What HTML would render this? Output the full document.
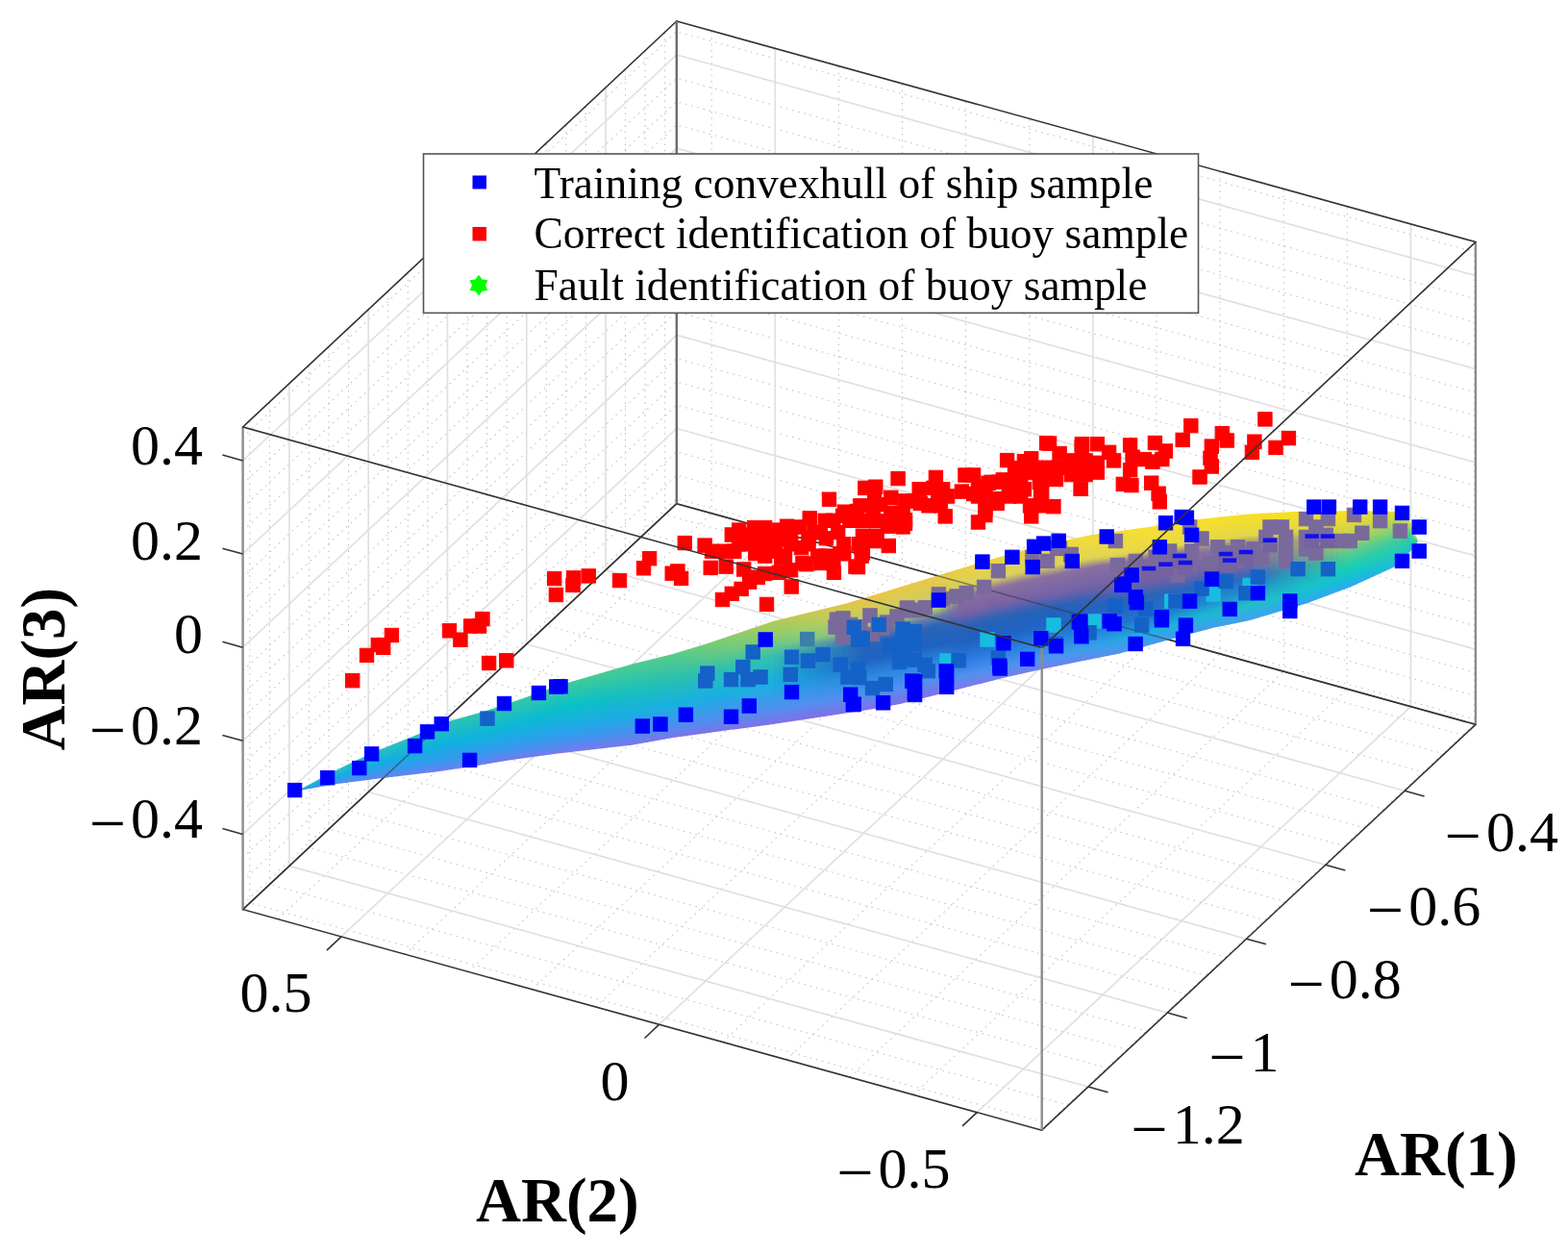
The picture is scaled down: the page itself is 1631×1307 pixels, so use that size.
<!DOCTYPE html>
<html><head><meta charset="utf-8"><title>AR scatter</title>
<style>html,body{margin:0;padding:0;background:#fff;}svg{display:block;}</style></head>
<body><svg width="1631" height="1307" viewBox="0 0 1631 1307" font-family="'Liberation Serif', 'Times New Roman', serif" fill="#000">
<rect width="1631" height="1307" fill="#fff"/>
<g stroke="#c4c4c4" stroke-width="1.1" stroke-dasharray="1.6 4.8" fill="none">
<line x1="259.8" y1="938.9" x2="259.8" y2="437.2" />
<line x1="280.4" y1="919.6" x2="280.4" y2="418" />
<line x1="321.5" y1="881.2" x2="321.5" y2="379.5" />
<line x1="342.1" y1="862" x2="342.1" y2="360.3" />
<line x1="362.6" y1="842.7" x2="362.6" y2="341.1" />
<line x1="403.8" y1="804.3" x2="403.8" y2="302.6" />
<line x1="424.3" y1="785" x2="424.3" y2="283.4" />
<line x1="444.9" y1="765.8" x2="444.9" y2="264.2" />
<line x1="486" y1="727.3" x2="486" y2="225.7" />
<line x1="506.6" y1="708.1" x2="506.6" y2="206.5" />
<line x1="527.1" y1="688.9" x2="527.1" y2="187.2" />
<line x1="568.3" y1="650.4" x2="568.3" y2="148.8" />
<line x1="588.8" y1="631.2" x2="588.8" y2="129.5" />
<line x1="609.4" y1="612" x2="609.4" y2="110.3" />
<line x1="650.5" y1="573.5" x2="650.5" y2="71.9" />
<line x1="671.1" y1="554.3" x2="671.1" y2="52.6" />
<line x1="691.7" y1="535" x2="691.7" y2="33.4" />
<line x1="252.6" y1="940.3" x2="703.8" y2="518.4" />
<line x1="252.6" y1="916" x2="703.8" y2="494.1" />
<line x1="252.6" y1="891.7" x2="703.8" y2="469.8" />
<line x1="252.6" y1="843.1" x2="703.8" y2="421.2" />
<line x1="252.6" y1="818.9" x2="703.8" y2="397" />
<line x1="252.6" y1="794.6" x2="703.8" y2="372.7" />
<line x1="252.6" y1="746" x2="703.8" y2="324.1" />
<line x1="252.6" y1="721.7" x2="703.8" y2="299.8" />
<line x1="252.6" y1="697.4" x2="703.8" y2="275.5" />
<line x1="252.6" y1="648.9" x2="703.8" y2="227" />
<line x1="252.6" y1="624.6" x2="703.8" y2="202.7" />
<line x1="252.6" y1="600.3" x2="703.8" y2="178.4" />
<line x1="252.6" y1="551.8" x2="703.8" y2="129.9" />
<line x1="252.6" y1="527.5" x2="703.8" y2="105.6" />
<line x1="252.6" y1="503.2" x2="703.8" y2="81.3" />
<line x1="252.6" y1="454.6" x2="703.8" y2="32.7" />
<line x1="1533.6" y1="752.9" x2="1533.6" y2="251.3" />
<line x1="1401.3" y1="716.4" x2="1401.3" y2="214.8" />
<line x1="1335.2" y1="698.1" x2="1335.2" y2="196.5" />
<line x1="1269.1" y1="679.9" x2="1269.1" y2="178.2" />
<line x1="1203" y1="661.6" x2="1203" y2="160" />
<line x1="1070.8" y1="625.1" x2="1070.8" y2="123.4" />
<line x1="1004.6" y1="606.8" x2="1004.6" y2="105.2" />
<line x1="938.5" y1="588.5" x2="938.5" y2="86.9" />
<line x1="872.4" y1="570.3" x2="872.4" y2="68.6" />
<line x1="740.2" y1="533.7" x2="740.2" y2="32.1" />
<line x1="1534.9" y1="748" x2="703.8" y2="518.4" />
<line x1="1534.9" y1="723.7" x2="703.8" y2="494.1" />
<line x1="1534.9" y1="699.4" x2="703.8" y2="469.8" />
<line x1="1534.9" y1="650.8" x2="703.8" y2="421.2" />
<line x1="1534.9" y1="626.6" x2="703.8" y2="397" />
<line x1="1534.9" y1="602.3" x2="703.8" y2="372.7" />
<line x1="1534.9" y1="553.7" x2="703.8" y2="324.1" />
<line x1="1534.9" y1="529.4" x2="703.8" y2="299.8" />
<line x1="1534.9" y1="505.1" x2="703.8" y2="275.5" />
<line x1="1534.9" y1="456.6" x2="703.8" y2="227" />
<line x1="1534.9" y1="432.3" x2="703.8" y2="202.7" />
<line x1="1534.9" y1="408" x2="703.8" y2="178.4" />
<line x1="1534.9" y1="359.5" x2="703.8" y2="129.9" />
<line x1="1534.9" y1="335.2" x2="703.8" y2="105.6" />
<line x1="1534.9" y1="310.9" x2="703.8" y2="81.3" />
<line x1="1534.9" y1="262.3" x2="703.8" y2="32.7" />
<line x1="1090.9" y1="1168.5" x2="259.8" y2="938.9" />
<line x1="1111.5" y1="1149.2" x2="280.4" y2="919.6" />
<line x1="1152.6" y1="1110.8" x2="321.5" y2="881.2" />
<line x1="1173.2" y1="1091.6" x2="342.1" y2="862" />
<line x1="1193.7" y1="1072.3" x2="362.6" y2="842.7" />
<line x1="1234.9" y1="1033.9" x2="403.8" y2="804.3" />
<line x1="1255.4" y1="1014.6" x2="424.3" y2="785" />
<line x1="1276" y1="995.4" x2="444.9" y2="765.8" />
<line x1="1317.1" y1="956.9" x2="486" y2="727.3" />
<line x1="1337.7" y1="937.7" x2="506.6" y2="708.1" />
<line x1="1358.2" y1="918.5" x2="527.1" y2="688.9" />
<line x1="1399.4" y1="880" x2="568.3" y2="650.4" />
<line x1="1419.9" y1="860.8" x2="588.8" y2="631.2" />
<line x1="1440.5" y1="841.6" x2="609.4" y2="612" />
<line x1="1481.6" y1="803.1" x2="650.5" y2="573.5" />
<line x1="1502.2" y1="783.9" x2="671.1" y2="554.3" />
<line x1="1522.8" y1="764.6" x2="691.7" y2="535" />
<line x1="1082.4" y1="1174.8" x2="1533.6" y2="752.9" />
<line x1="950.1" y1="1138.3" x2="1401.3" y2="716.4" />
<line x1="884" y1="1120" x2="1335.2" y2="698.1" />
<line x1="817.9" y1="1101.8" x2="1269.1" y2="679.9" />
<line x1="751.8" y1="1083.5" x2="1203" y2="661.6" />
<line x1="619.6" y1="1047" x2="1070.8" y2="625.1" />
<line x1="553.4" y1="1028.7" x2="1004.6" y2="606.8" />
<line x1="487.3" y1="1010.4" x2="938.5" y2="588.5" />
<line x1="421.2" y1="992.2" x2="872.4" y2="570.3" />
<line x1="289" y1="955.6" x2="740.2" y2="533.7" />
</g>
<g stroke="#e0e0e0" stroke-width="1.7" fill="none">
<line x1="300.9" y1="900.4" x2="300.9" y2="398.8" />
<line x1="383.2" y1="823.5" x2="383.2" y2="321.8" />
<line x1="465.4" y1="746.6" x2="465.4" y2="244.9" />
<line x1="547.7" y1="669.7" x2="547.7" y2="168" />
<line x1="630" y1="592.7" x2="630" y2="91.1" />
<line x1="252.6" y1="867.4" x2="703.8" y2="445.5" />
<line x1="252.6" y1="770.3" x2="703.8" y2="348.4" />
<line x1="252.6" y1="673.2" x2="703.8" y2="251.3" />
<line x1="252.6" y1="576" x2="703.8" y2="154.1" />
<line x1="252.6" y1="478.9" x2="703.8" y2="57" />
<line x1="1467.5" y1="734.7" x2="1467.5" y2="233" />
<line x1="1136.9" y1="643.3" x2="1136.9" y2="141.7" />
<line x1="806.3" y1="552" x2="806.3" y2="50.4" />
<line x1="1534.9" y1="675.1" x2="703.8" y2="445.5" />
<line x1="1534.9" y1="578" x2="703.8" y2="348.4" />
<line x1="1534.9" y1="480.9" x2="703.8" y2="251.3" />
<line x1="1534.9" y1="383.7" x2="703.8" y2="154.1" />
<line x1="1534.9" y1="286.6" x2="703.8" y2="57" />
<line x1="1132" y1="1130" x2="300.9" y2="900.4" />
<line x1="1214.3" y1="1053.1" x2="383.2" y2="823.5" />
<line x1="1296.5" y1="976.2" x2="465.4" y2="746.6" />
<line x1="1378.8" y1="899.3" x2="547.7" y2="669.7" />
<line x1="1461.1" y1="822.3" x2="630" y2="592.7" />
<line x1="1016.3" y1="1156.6" x2="1467.5" y2="734.7" />
<line x1="685.7" y1="1065.2" x2="1136.9" y2="643.3" />
<line x1="355.1" y1="973.9" x2="806.3" y2="552" />
</g>
<g stroke="#333" stroke-width="1.6" fill="none" stroke-linecap="round">
<line x1="252.6" y1="945.6" x2="703.8" y2="523.7" />
<line x1="703.8" y1="523.7" x2="1534.9" y2="753.3" />
<line x1="252.6" y1="945.6" x2="1083.7" y2="1175.2" />
<line x1="1083.7" y1="1175.2" x2="1534.9" y2="753.3" />
<line x1="252.6" y1="444" x2="703.8" y2="22" />
<line x1="703.8" y1="22" x2="1534.9" y2="251.6" />
</g>
<g stroke="#8c8c8c" stroke-width="2.4" fill="none">
<line x1="252.6" y1="945.6" x2="252.6" y2="444" />
<line x1="1534.9" y1="753.3" x2="1534.9" y2="251.6" />
</g>
<g stroke="#6c6c6c" stroke-width="2.4" fill="none"><line x1="703.8" y1="523.7" x2="703.8" y2="22" /></g>
<g stroke="#333" stroke-width="1.6" fill="none">
<line x1="252.6" y1="867.4" x2="231.4" y2="861.6" />
<line x1="252.6" y1="770.3" x2="231.4" y2="764.4" />
<line x1="252.6" y1="673.2" x2="231.4" y2="667.3" />
<line x1="252.6" y1="576" x2="231.4" y2="570.2" />
<line x1="252.6" y1="478.9" x2="231.4" y2="473.1" />
<line x1="1132" y1="1130" x2="1152.5" y2="1135.7" />
<line x1="1214.3" y1="1053.1" x2="1234.8" y2="1058.8" />
<line x1="1296.5" y1="976.2" x2="1317" y2="981.8" />
<line x1="1378.8" y1="899.3" x2="1399.3" y2="904.9" />
<line x1="1461.1" y1="822.3" x2="1481.6" y2="828" />
<line x1="1016.3" y1="1156.6" x2="1001" y2="1170.8" />
<line x1="685.7" y1="1065.2" x2="670.5" y2="1079.5" />
<line x1="355.1" y1="973.9" x2="339.9" y2="988.1" />
</g>

<defs><linearGradient id="g0" gradientUnits="userSpaceOnUse" x1="310.0" y1="820.5" x2="310.0" y2="821.2"><stop offset="0" stop-color="#30c0c4"/><stop offset="0.45" stop-color="#1aaae4"/><stop offset="0.5" stop-color="#18a8e8"/><stop offset="0.8" stop-color="#4095ed"/><stop offset="1" stop-color="#5a88f0"/></linearGradient><linearGradient id="g1" gradientUnits="userSpaceOnUse" x1="316.0" y1="818.7" x2="316.8" y2="820.9"><stop offset="0" stop-color="#30c0c3"/><stop offset="0.45" stop-color="#1aabe4"/><stop offset="0.5" stop-color="#18a8e8"/><stop offset="0.8" stop-color="#3f95ed"/><stop offset="1" stop-color="#5b88f0"/></linearGradient><linearGradient id="g2" gradientUnits="userSpaceOnUse" x1="322.0" y1="815.6" x2="323.4" y2="819.6"><stop offset="0" stop-color="#2fc0c3"/><stop offset="0.45" stop-color="#1aabe4"/><stop offset="0.5" stop-color="#18a8e8"/><stop offset="0.8" stop-color="#3f95ed"/><stop offset="1" stop-color="#5b87f0"/></linearGradient><linearGradient id="g3" gradientUnits="userSpaceOnUse" x1="328.0" y1="812.4" x2="330.1" y2="818.2"><stop offset="0" stop-color="#2fc0c2"/><stop offset="0.45" stop-color="#19abe4"/><stop offset="0.5" stop-color="#18a9e7"/><stop offset="0.8" stop-color="#3f95ed"/><stop offset="1" stop-color="#5c87f0"/></linearGradient><linearGradient id="g4" gradientUnits="userSpaceOnUse" x1="334.0" y1="809.2" x2="336.7" y2="816.9"><stop offset="0" stop-color="#2fc0c2"/><stop offset="0.45" stop-color="#19abe4"/><stop offset="0.5" stop-color="#18a9e7"/><stop offset="0.8" stop-color="#3e95ed"/><stop offset="1" stop-color="#5d87f0"/></linearGradient><linearGradient id="g5" gradientUnits="userSpaceOnUse" x1="340.0" y1="806.0" x2="343.4" y2="815.6"><stop offset="0" stop-color="#2ec0c1"/><stop offset="0.45" stop-color="#18ace3"/><stop offset="0.5" stop-color="#18a9e7"/><stop offset="0.8" stop-color="#3e95ed"/><stop offset="1" stop-color="#5d86f0"/></linearGradient><linearGradient id="g6" gradientUnits="userSpaceOnUse" x1="346.0" y1="802.8" x2="350.1" y2="814.3"><stop offset="0" stop-color="#2ec0c1"/><stop offset="0.45" stop-color="#18ace3"/><stop offset="0.5" stop-color="#17a9e7"/><stop offset="0.8" stop-color="#3e96ee"/><stop offset="1" stop-color="#5e86f0"/></linearGradient><linearGradient id="g7" gradientUnits="userSpaceOnUse" x1="352.0" y1="799.8" x2="356.3" y2="813.5"><stop offset="0" stop-color="#2ec0c0"/><stop offset="0.45" stop-color="#17ace3"/><stop offset="0.5" stop-color="#17a9e6"/><stop offset="0.8" stop-color="#3d96ee"/><stop offset="1" stop-color="#5f86f0"/></linearGradient><linearGradient id="g8" gradientUnits="userSpaceOnUse" x1="358.0" y1="796.7" x2="363.0" y2="812.5"><stop offset="0" stop-color="#2dc0c0"/><stop offset="0.45" stop-color="#17ace3"/><stop offset="0.5" stop-color="#17aae6"/><stop offset="0.8" stop-color="#3d96ee"/><stop offset="1" stop-color="#5f85f0"/></linearGradient><linearGradient id="g9" gradientUnits="userSpaceOnUse" x1="364.0" y1="793.7" x2="369.6" y2="811.5"><stop offset="0" stop-color="#2dc0bf"/><stop offset="0.45" stop-color="#16ade3"/><stop offset="0.5" stop-color="#17aae6"/><stop offset="0.8" stop-color="#3d96ee"/><stop offset="1" stop-color="#6085f0"/></linearGradient><linearGradient id="g10" gradientUnits="userSpaceOnUse" x1="370.0" y1="790.8" x2="375.9" y2="810.8"><stop offset="0" stop-color="#2dc0bf"/><stop offset="0.45" stop-color="#16ade3"/><stop offset="0.5" stop-color="#17aae6"/><stop offset="0.8" stop-color="#3c96ee"/><stop offset="1" stop-color="#6185f0"/></linearGradient><linearGradient id="g11" gradientUnits="userSpaceOnUse" x1="376.0" y1="788.0" x2="382.4" y2="809.9"><stop offset="0" stop-color="#2cc0be"/><stop offset="0.45" stop-color="#15ade2"/><stop offset="0.5" stop-color="#17aae5"/><stop offset="0.8" stop-color="#3c96ee"/><stop offset="1" stop-color="#6284f0"/></linearGradient><linearGradient id="g12" gradientUnits="userSpaceOnUse" x1="382.0" y1="785.3" x2="389.0" y2="808.9"><stop offset="0" stop-color="#2cc0be"/><stop offset="0.45" stop-color="#15ade2"/><stop offset="0.5" stop-color="#17aae5"/><stop offset="0.8" stop-color="#3c96ee"/><stop offset="1" stop-color="#6284f0"/></linearGradient><linearGradient id="g13" gradientUnits="userSpaceOnUse" x1="388.0" y1="782.5" x2="395.5" y2="808.0"><stop offset="0" stop-color="#2cc0bd"/><stop offset="0.45" stop-color="#15aee2"/><stop offset="0.5" stop-color="#17abe5"/><stop offset="0.8" stop-color="#3b97ef"/><stop offset="1" stop-color="#6384f0"/></linearGradient><linearGradient id="g14" gradientUnits="userSpaceOnUse" x1="394.0" y1="779.8" x2="401.3" y2="807.6"><stop offset="0" stop-color="#2bc0bd"/><stop offset="0.45" stop-color="#14aee2"/><stop offset="0.5" stop-color="#17abe5"/><stop offset="0.8" stop-color="#3b97ef"/><stop offset="1" stop-color="#6483f0"/></linearGradient><linearGradient id="g15" gradientUnits="userSpaceOnUse" x1="400.0" y1="777.4" x2="407.6" y2="806.7"><stop offset="0" stop-color="#2bc0bc"/><stop offset="0.45" stop-color="#14aee2"/><stop offset="0.5" stop-color="#17abe4"/><stop offset="0.8" stop-color="#3b97ef"/><stop offset="1" stop-color="#6483f0"/></linearGradient><linearGradient id="g16" gradientUnits="userSpaceOnUse" x1="406.0" y1="775.1" x2="413.9" y2="806.0"><stop offset="0" stop-color="#2bc0bc"/><stop offset="0.45" stop-color="#13aee1"/><stop offset="0.5" stop-color="#16abe4"/><stop offset="0.8" stop-color="#3a97ef"/><stop offset="1" stop-color="#6583f0"/></linearGradient><linearGradient id="g17" gradientUnits="userSpaceOnUse" x1="412.0" y1="772.7" x2="420.3" y2="805.2"><stop offset="0" stop-color="#2ac0bb"/><stop offset="0.45" stop-color="#13aee1"/><stop offset="0.5" stop-color="#16abe4"/><stop offset="0.8" stop-color="#3a97ef"/><stop offset="1" stop-color="#6682f0"/></linearGradient><linearGradient id="g18" gradientUnits="userSpaceOnUse" x1="418.0" y1="770.3" x2="426.7" y2="804.4"><stop offset="0" stop-color="#2ac0bb"/><stop offset="0.45" stop-color="#12afe1"/><stop offset="0.5" stop-color="#16ace4"/><stop offset="0.8" stop-color="#3a97ef"/><stop offset="1" stop-color="#6682f0"/></linearGradient><linearGradient id="g19" gradientUnits="userSpaceOnUse" x1="424.0" y1="767.9" x2="433.1" y2="803.6"><stop offset="0" stop-color="#29c0ba"/><stop offset="0.45" stop-color="#12afe1"/><stop offset="0.5" stop-color="#16ace3"/><stop offset="0.8" stop-color="#3997ef"/><stop offset="1" stop-color="#6781f0"/></linearGradient><linearGradient id="g20" gradientUnits="userSpaceOnUse" x1="430.0" y1="765.6" x2="439.5" y2="802.8"><stop offset="0" stop-color="#29c0ba"/><stop offset="0.45" stop-color="#11afe1"/><stop offset="0.5" stop-color="#16ace3"/><stop offset="0.8" stop-color="#3998f0"/><stop offset="1" stop-color="#6881f0"/></linearGradient><linearGradient id="g21" gradientUnits="userSpaceOnUse" x1="436.0" y1="763.2" x2="445.9" y2="802.0"><stop offset="0" stop-color="#29c0b9"/><stop offset="0.45" stop-color="#11afe0"/><stop offset="0.5" stop-color="#16ace3"/><stop offset="0.8" stop-color="#3998f0"/><stop offset="1" stop-color="#6881f0"/></linearGradient><linearGradient id="g22" gradientUnits="userSpaceOnUse" x1="442.0" y1="760.6" x2="453.0" y2="800.9"><stop offset="0" stop-color="#28c0b9"/><stop offset="0.45" stop-color="#11b0e0"/><stop offset="0.5" stop-color="#16ace3"/><stop offset="0.8" stop-color="#3898f0"/><stop offset="1" stop-color="#6980f0"/></linearGradient><linearGradient id="g23" gradientUnits="userSpaceOnUse" x1="448.0" y1="758.1" x2="459.4" y2="800.0"><stop offset="0" stop-color="#28c0b8"/><stop offset="0.45" stop-color="#10b0e0"/><stop offset="0.5" stop-color="#16ade2"/><stop offset="0.8" stop-color="#3898f0"/><stop offset="1" stop-color="#6a80f0"/></linearGradient><linearGradient id="g24" gradientUnits="userSpaceOnUse" x1="454.0" y1="755.5" x2="465.9" y2="799.2"><stop offset="0" stop-color="#29c0b7"/><stop offset="0.35" stop-color="#15b4d7"/><stop offset="0.45" stop-color="#10b0e0"/><stop offset="0.65" stop-color="#27a2e9"/><stop offset="0.8" stop-color="#3898f0"/><stop offset="0.85" stop-color="#4592f0"/><stop offset="1" stop-color="#6a80f0"/></linearGradient><linearGradient id="g25" gradientUnits="userSpaceOnUse" x1="460.0" y1="752.9" x2="473.0" y2="797.8"><stop offset="0" stop-color="#2ac1b6"/><stop offset="0.35" stop-color="#14b4d6"/><stop offset="0.45" stop-color="#10b1df"/><stop offset="0.65" stop-color="#26a3e9"/><stop offset="0.8" stop-color="#3898f0"/><stop offset="0.85" stop-color="#4592f0"/><stop offset="1" stop-color="#6b7ff0"/></linearGradient><linearGradient id="g26" gradientUnits="userSpaceOnUse" x1="466.0" y1="750.3" x2="479.5" y2="796.8"><stop offset="0" stop-color="#2bc1b5"/><stop offset="0.35" stop-color="#14b5d5"/><stop offset="0.45" stop-color="#10b1df"/><stop offset="0.65" stop-color="#26a3e9"/><stop offset="0.8" stop-color="#3998f0"/><stop offset="0.85" stop-color="#4592f0"/><stop offset="1" stop-color="#6b7ff0"/></linearGradient><linearGradient id="g27" gradientUnits="userSpaceOnUse" x1="472.0" y1="748.5" x2="482.5" y2="797.6"><stop offset="0" stop-color="#2cc2b3"/><stop offset="0.35" stop-color="#13b5d5"/><stop offset="0.45" stop-color="#10b1de"/><stop offset="0.65" stop-color="#26a3e9"/><stop offset="0.8" stop-color="#3998f0"/><stop offset="0.85" stop-color="#4592f0"/><stop offset="1" stop-color="#6c7fef"/></linearGradient><linearGradient id="g28" gradientUnits="userSpaceOnUse" x1="478.0" y1="746.8" x2="488.7" y2="796.6"><stop offset="0" stop-color="#2cc2b2"/><stop offset="0.35" stop-color="#13b6d4"/><stop offset="0.45" stop-color="#10b1de"/><stop offset="0.65" stop-color="#26a3e9"/><stop offset="0.8" stop-color="#3998f0"/><stop offset="0.85" stop-color="#4592f0"/><stop offset="1" stop-color="#6d7fef"/></linearGradient><linearGradient id="g29" gradientUnits="userSpaceOnUse" x1="484.0" y1="745.2" x2="494.8" y2="795.7"><stop offset="0" stop-color="#2dc3b1"/><stop offset="0.35" stop-color="#12b6d4"/><stop offset="0.45" stop-color="#10b2dd"/><stop offset="0.65" stop-color="#25a4e9"/><stop offset="0.8" stop-color="#3998f0"/><stop offset="0.85" stop-color="#4592f0"/><stop offset="1" stop-color="#6d7eef"/></linearGradient><linearGradient id="g30" gradientUnits="userSpaceOnUse" x1="490.0" y1="743.5" x2="501.0" y2="794.7"><stop offset="0" stop-color="#2ec3af"/><stop offset="0.35" stop-color="#12b7d3"/><stop offset="0.45" stop-color="#10b2dc"/><stop offset="0.65" stop-color="#25a4e9"/><stop offset="0.8" stop-color="#3a97ef"/><stop offset="0.85" stop-color="#4591f0"/><stop offset="1" stop-color="#6e7eef"/></linearGradient><linearGradient id="g31" gradientUnits="userSpaceOnUse" x1="496.0" y1="741.8" x2="507.7" y2="793.5"><stop offset="0" stop-color="#2fc4ae"/><stop offset="0.35" stop-color="#11b7d2"/><stop offset="0.45" stop-color="#10b2dc"/><stop offset="0.65" stop-color="#25a4e9"/><stop offset="0.8" stop-color="#3a97ef"/><stop offset="0.85" stop-color="#4691f0"/><stop offset="1" stop-color="#6e7eef"/></linearGradient><linearGradient id="g32" gradientUnits="userSpaceOnUse" x1="502.0" y1="740.1" x2="514.4" y2="792.1"><stop offset="0" stop-color="#30c4ad"/><stop offset="0.35" stop-color="#11b8d2"/><stop offset="0.45" stop-color="#10b3db"/><stop offset="0.65" stop-color="#24a4e9"/><stop offset="0.8" stop-color="#3a97ef"/><stop offset="0.85" stop-color="#4691f0"/><stop offset="1" stop-color="#6f7def"/></linearGradient><linearGradient id="g33" gradientUnits="userSpaceOnUse" x1="508.0" y1="738.3" x2="520.6" y2="791.0"><stop offset="0" stop-color="#31c5ac"/><stop offset="0.35" stop-color="#10b8d1"/><stop offset="0.45" stop-color="#10b3db"/><stop offset="0.65" stop-color="#24a4e9"/><stop offset="0.8" stop-color="#3a97ef"/><stop offset="0.85" stop-color="#4691f0"/><stop offset="1" stop-color="#6f7dee"/></linearGradient><linearGradient id="g34" gradientUnits="userSpaceOnUse" x1="514.0" y1="736.4" x2="526.8" y2="789.9"><stop offset="0" stop-color="#32c5aa"/><stop offset="0.35" stop-color="#10b9d1"/><stop offset="0.45" stop-color="#10b3da"/><stop offset="0.65" stop-color="#24a5e9"/><stop offset="0.8" stop-color="#3b97ef"/><stop offset="0.85" stop-color="#4691f0"/><stop offset="1" stop-color="#707dee"/></linearGradient><linearGradient id="g35" gradientUnits="userSpaceOnUse" x1="520.0" y1="734.5" x2="534.0" y2="788.3"><stop offset="0" stop-color="#33c6a9"/><stop offset="0.35" stop-color="#0fb9d0"/><stop offset="0.45" stop-color="#10b4da"/><stop offset="0.65" stop-color="#24a5e9"/><stop offset="0.8" stop-color="#3b97ef"/><stop offset="0.85" stop-color="#4691f0"/><stop offset="1" stop-color="#717cee"/></linearGradient><linearGradient id="g36" gradientUnits="userSpaceOnUse" x1="526.0" y1="732.4" x2="540.3" y2="787.2"><stop offset="0" stop-color="#34c6a8"/><stop offset="0.35" stop-color="#0fbacf"/><stop offset="0.45" stop-color="#10b4d9"/><stop offset="0.65" stop-color="#23a5e9"/><stop offset="0.8" stop-color="#3b97ef"/><stop offset="0.85" stop-color="#4691f0"/><stop offset="1" stop-color="#717cee"/></linearGradient><linearGradient id="g37" gradientUnits="userSpaceOnUse" x1="532.0" y1="730.3" x2="545.7" y2="786.7"><stop offset="0" stop-color="#35c7a7"/><stop offset="0.35" stop-color="#0ebacf"/><stop offset="0.45" stop-color="#10b4d9"/><stop offset="0.65" stop-color="#23a5e9"/><stop offset="0.8" stop-color="#3b97ef"/><stop offset="0.85" stop-color="#4691f0"/><stop offset="1" stop-color="#727cee"/></linearGradient><linearGradient id="g38" gradientUnits="userSpaceOnUse" x1="538.0" y1="728.2" x2="552.0" y2="785.8"><stop offset="0" stop-color="#36c7a5"/><stop offset="0.35" stop-color="#0ebbce"/><stop offset="0.45" stop-color="#10b5d8"/><stop offset="0.65" stop-color="#23a6e8"/><stop offset="0.8" stop-color="#3c97ef"/><stop offset="0.85" stop-color="#4791f0"/><stop offset="1" stop-color="#727bee"/></linearGradient><linearGradient id="g39" gradientUnits="userSpaceOnUse" x1="544.0" y1="726.1" x2="558.3" y2="784.9"><stop offset="0" stop-color="#37c8a4"/><stop offset="0.35" stop-color="#0dbbce"/><stop offset="0.45" stop-color="#10b5d8"/><stop offset="0.65" stop-color="#23a6e8"/><stop offset="0.8" stop-color="#3c97ef"/><stop offset="0.85" stop-color="#4791f0"/><stop offset="1" stop-color="#737bed"/></linearGradient><linearGradient id="g40" gradientUnits="userSpaceOnUse" x1="550.0" y1="724.0" x2="564.6" y2="784.0"><stop offset="0" stop-color="#38c8a3"/><stop offset="0.35" stop-color="#0cbccd"/><stop offset="0.45" stop-color="#10b5d7"/><stop offset="0.65" stop-color="#22a6e8"/><stop offset="0.8" stop-color="#3c97ef"/><stop offset="0.85" stop-color="#4791f0"/><stop offset="1" stop-color="#737bed"/></linearGradient><linearGradient id="g41" gradientUnits="userSpaceOnUse" x1="556.0" y1="721.9" x2="571.5" y2="782.8"><stop offset="0" stop-color="#39c8a1"/><stop offset="0.35" stop-color="#0cbccc"/><stop offset="0.45" stop-color="#10b6d7"/><stop offset="0.65" stop-color="#22a6e8"/><stop offset="0.8" stop-color="#3c97ef"/><stop offset="0.85" stop-color="#4791f0"/><stop offset="1" stop-color="#747aed"/></linearGradient><linearGradient id="g42" gradientUnits="userSpaceOnUse" x1="562.0" y1="719.7" x2="577.8" y2="781.8"><stop offset="0" stop-color="#3ac9a0"/><stop offset="0.35" stop-color="#0bbdcc"/><stop offset="0.45" stop-color="#10b6d6"/><stop offset="0.65" stop-color="#22a7e8"/><stop offset="0.8" stop-color="#3c97ef"/><stop offset="0.85" stop-color="#4791f0"/><stop offset="1" stop-color="#747aed"/></linearGradient><linearGradient id="g43" gradientUnits="userSpaceOnUse" x1="568.0" y1="717.5" x2="584.2" y2="780.9"><stop offset="0" stop-color="#3bc99f"/><stop offset="0.35" stop-color="#0bbdcb"/><stop offset="0.45" stop-color="#10b6d6"/><stop offset="0.65" stop-color="#21a7e8"/><stop offset="0.8" stop-color="#3d96ee"/><stop offset="0.85" stop-color="#4790f0"/><stop offset="1" stop-color="#757aed"/></linearGradient><linearGradient id="g44" gradientUnits="userSpaceOnUse" x1="574.0" y1="715.2" x2="590.5" y2="780.0"><stop offset="0" stop-color="#3cca9e"/><stop offset="0.35" stop-color="#0abecb"/><stop offset="0.45" stop-color="#10b7d5"/><stop offset="0.65" stop-color="#21a7e8"/><stop offset="0.8" stop-color="#3d96ee"/><stop offset="0.85" stop-color="#4790f0"/><stop offset="1" stop-color="#7679ed"/></linearGradient><linearGradient id="g45" gradientUnits="userSpaceOnUse" x1="580.0" y1="713.0" x2="595.3" y2="779.9"><stop offset="0" stop-color="#3dca9c"/><stop offset="0.35" stop-color="#0abeca"/><stop offset="0.45" stop-color="#10b7d4"/><stop offset="0.65" stop-color="#21a7e8"/><stop offset="0.8" stop-color="#3d96ee"/><stop offset="0.85" stop-color="#4890f0"/><stop offset="1" stop-color="#7679ed"/></linearGradient><linearGradient id="g46" gradientUnits="userSpaceOnUse" x1="586.0" y1="711.3" x2="599.8" y2="779.9"><stop offset="0" stop-color="#3ecb9b"/><stop offset="0.35" stop-color="#09bfc9"/><stop offset="0.45" stop-color="#10b7d4"/><stop offset="0.65" stop-color="#21a7e8"/><stop offset="0.8" stop-color="#3d96ee"/><stop offset="0.85" stop-color="#4890f0"/><stop offset="1" stop-color="#7779ec"/></linearGradient><linearGradient id="g47" gradientUnits="userSpaceOnUse" x1="592.0" y1="709.5" x2="606.0" y2="779.2"><stop offset="0" stop-color="#3fcb9a"/><stop offset="0.35" stop-color="#09bfc9"/><stop offset="0.45" stop-color="#10b8d3"/><stop offset="0.65" stop-color="#20a8e8"/><stop offset="0.8" stop-color="#3e96ee"/><stop offset="0.85" stop-color="#4890f0"/><stop offset="1" stop-color="#7778ec"/></linearGradient><linearGradient id="g48" gradientUnits="userSpaceOnUse" x1="598.0" y1="707.8" x2="612.2" y2="778.5"><stop offset="0" stop-color="#40cc98"/><stop offset="0.35" stop-color="#08c0c8"/><stop offset="0.45" stop-color="#10b8d3"/><stop offset="0.65" stop-color="#20a8e8"/><stop offset="0.8" stop-color="#3e96ee"/><stop offset="0.85" stop-color="#4890f0"/><stop offset="1" stop-color="#7878ec"/></linearGradient><linearGradient id="g49" gradientUnits="userSpaceOnUse" x1="604.0" y1="706.0" x2="618.4" y2="777.8"><stop offset="0" stop-color="#41cc97"/><stop offset="0.3" stop-color="#11c2c0"/><stop offset="0.35" stop-color="#09c0c7"/><stop offset="0.6" stop-color="#1cace3"/><stop offset="0.65" stop-color="#20a8e8"/><stop offset="0.85" stop-color="#4890f0"/><stop offset="1" stop-color="#7878ec"/></linearGradient><linearGradient id="g50" gradientUnits="userSpaceOnUse" x1="610.0" y1="704.3" x2="624.7" y2="777.1"><stop offset="0" stop-color="#42cc96"/><stop offset="0.3" stop-color="#12c2bf"/><stop offset="0.35" stop-color="#0bc0c6"/><stop offset="0.6" stop-color="#1cace2"/><stop offset="0.65" stop-color="#20a8e8"/><stop offset="0.85" stop-color="#4890f0"/><stop offset="1" stop-color="#7878ec"/></linearGradient><linearGradient id="g51" gradientUnits="userSpaceOnUse" x1="616.0" y1="702.5" x2="630.9" y2="776.4"><stop offset="0" stop-color="#44cc95"/><stop offset="0.3" stop-color="#14c1be"/><stop offset="0.35" stop-color="#0dc0c5"/><stop offset="0.6" stop-color="#1bade2"/><stop offset="0.65" stop-color="#20a8e7"/><stop offset="0.85" stop-color="#4890f0"/><stop offset="1" stop-color="#7977ec"/></linearGradient><linearGradient id="g52" gradientUnits="userSpaceOnUse" x1="622.0" y1="700.8" x2="637.1" y2="775.7"><stop offset="0" stop-color="#45cc94"/><stop offset="0.3" stop-color="#15c1bd"/><stop offset="0.35" stop-color="#0ebfc4"/><stop offset="0.6" stop-color="#1bade2"/><stop offset="0.65" stop-color="#20a8e7"/><stop offset="0.85" stop-color="#4890f0"/><stop offset="1" stop-color="#7977ec"/></linearGradient><linearGradient id="g53" gradientUnits="userSpaceOnUse" x1="628.0" y1="699.1" x2="643.3" y2="774.9"><stop offset="0" stop-color="#47cc94"/><stop offset="0.3" stop-color="#17c1bc"/><stop offset="0.35" stop-color="#10bfc4"/><stop offset="0.6" stop-color="#1bade2"/><stop offset="0.65" stop-color="#21a8e7"/><stop offset="0.85" stop-color="#4990f0"/><stop offset="1" stop-color="#7977eb"/></linearGradient><linearGradient id="g54" gradientUnits="userSpaceOnUse" x1="634.0" y1="697.3" x2="649.5" y2="774.2"><stop offset="0" stop-color="#48cc93"/><stop offset="0.3" stop-color="#18c1bb"/><stop offset="0.35" stop-color="#12bfc3"/><stop offset="0.6" stop-color="#1bade2"/><stop offset="0.65" stop-color="#21a9e6"/><stop offset="0.85" stop-color="#4990f0"/><stop offset="1" stop-color="#7977eb"/></linearGradient><linearGradient id="g55" gradientUnits="userSpaceOnUse" x1="640.0" y1="695.6" x2="655.7" y2="773.5"><stop offset="0" stop-color="#4acc92"/><stop offset="0.3" stop-color="#1ac1ba"/><stop offset="0.35" stop-color="#14bfc2"/><stop offset="0.6" stop-color="#1aaee2"/><stop offset="0.65" stop-color="#21a9e6"/><stop offset="0.85" stop-color="#4990f0"/><stop offset="1" stop-color="#7a76eb"/></linearGradient><linearGradient id="g56" gradientUnits="userSpaceOnUse" x1="646.0" y1="693.8" x2="661.9" y2="772.8"><stop offset="0" stop-color="#4bcc91"/><stop offset="0.3" stop-color="#1bc1b9"/><stop offset="0.35" stop-color="#15bfc1"/><stop offset="0.6" stop-color="#1aaee1"/><stop offset="0.65" stop-color="#21a9e6"/><stop offset="0.85" stop-color="#4990f0"/><stop offset="1" stop-color="#7a76eb"/></linearGradient><linearGradient id="g57" gradientUnits="userSpaceOnUse" x1="652.0" y1="692.1" x2="668.1" y2="772.1"><stop offset="0" stop-color="#4ccc90"/><stop offset="0.3" stop-color="#1cc1b8"/><stop offset="0.35" stop-color="#17bfc0"/><stop offset="0.6" stop-color="#1aaee1"/><stop offset="0.65" stop-color="#21a9e6"/><stop offset="0.85" stop-color="#4990f0"/><stop offset="1" stop-color="#7a76eb"/></linearGradient><linearGradient id="g58" gradientUnits="userSpaceOnUse" x1="658.0" y1="690.3" x2="674.6" y2="771.3"><stop offset="0" stop-color="#4ecc8f"/><stop offset="0.3" stop-color="#1ec1b7"/><stop offset="0.35" stop-color="#19bebf"/><stop offset="0.6" stop-color="#1aaee1"/><stop offset="0.65" stop-color="#21a9e5"/><stop offset="0.85" stop-color="#4990f0"/><stop offset="1" stop-color="#7a76eb"/></linearGradient><linearGradient id="g59" gradientUnits="userSpaceOnUse" x1="664.0" y1="688.8" x2="681.4" y2="769.9"><stop offset="0" stop-color="#4fcc8e"/><stop offset="0.3" stop-color="#1fc1b6"/><stop offset="0.35" stop-color="#1bbebe"/><stop offset="0.6" stop-color="#19afe1"/><stop offset="0.65" stop-color="#21a9e5"/><stop offset="0.85" stop-color="#4990f0"/><stop offset="1" stop-color="#7b75eb"/></linearGradient><linearGradient id="g60" gradientUnits="userSpaceOnUse" x1="670.0" y1="687.4" x2="687.5" y2="768.8"><stop offset="0" stop-color="#51cc8d"/><stop offset="0.3" stop-color="#21c1b5"/><stop offset="0.35" stop-color="#1dbebd"/><stop offset="0.6" stop-color="#19afe1"/><stop offset="0.65" stop-color="#21a9e5"/><stop offset="0.85" stop-color="#4990f0"/><stop offset="1" stop-color="#7b75eb"/></linearGradient><linearGradient id="g61" gradientUnits="userSpaceOnUse" x1="676.0" y1="685.9" x2="693.5" y2="767.6"><stop offset="0" stop-color="#52cc8c"/><stop offset="0.3" stop-color="#22c0b4"/><stop offset="0.35" stop-color="#1ebebc"/><stop offset="0.6" stop-color="#19afe1"/><stop offset="0.65" stop-color="#22a9e4"/><stop offset="0.85" stop-color="#4a90f0"/><stop offset="1" stop-color="#7b75ea"/></linearGradient><linearGradient id="g62" gradientUnits="userSpaceOnUse" x1="682.0" y1="684.4" x2="699.6" y2="766.5"><stop offset="0" stop-color="#54cc8b"/><stop offset="0.3" stop-color="#24c0b3"/><stop offset="0.35" stop-color="#20bebb"/><stop offset="0.6" stop-color="#19afe0"/><stop offset="0.65" stop-color="#22a9e4"/><stop offset="0.85" stop-color="#4a90f0"/><stop offset="1" stop-color="#7b75ea"/></linearGradient><linearGradient id="g63" gradientUnits="userSpaceOnUse" x1="688.0" y1="682.9" x2="705.7" y2="765.4"><stop offset="0" stop-color="#55cc8a"/><stop offset="0.3" stop-color="#25c0b2"/><stop offset="0.35" stop-color="#22beba"/><stop offset="0.6" stop-color="#18b0e0"/><stop offset="0.65" stop-color="#22a9e4"/><stop offset="0.85" stop-color="#4a90f0"/><stop offset="1" stop-color="#7c74ea"/></linearGradient><linearGradient id="g64" gradientUnits="userSpaceOnUse" x1="694.0" y1="681.5" x2="711.8" y2="764.3"><stop offset="0" stop-color="#57cc89"/><stop offset="0.3" stop-color="#27c0b1"/><stop offset="0.35" stop-color="#24bdb9"/><stop offset="0.6" stop-color="#18b0e0"/><stop offset="0.65" stop-color="#22aae3"/><stop offset="0.85" stop-color="#4a90f0"/><stop offset="1" stop-color="#7c74ea"/></linearGradient><linearGradient id="g65" gradientUnits="userSpaceOnUse" x1="700.0" y1="680.0" x2="718.1" y2="763.1"><stop offset="0" stop-color="#58cc88"/><stop offset="0.15" stop-color="#40c69c"/><stop offset="0.3" stop-color="#28c0b0"/><stop offset="0.35" stop-color="#25bdb8"/><stop offset="0.6" stop-color="#18b0e0"/><stop offset="0.85" stop-color="#4a90f0"/><stop offset="1" stop-color="#7c74ea"/></linearGradient><linearGradient id="g66" gradientUnits="userSpaceOnUse" x1="706.0" y1="678.2" x2="724.5" y2="762.1"><stop offset="0" stop-color="#5dcc85"/><stop offset="0.15" stop-color="#44c699"/><stop offset="0.3" stop-color="#2ac0af"/><stop offset="0.35" stop-color="#26bdb8"/><stop offset="0.6" stop-color="#18b0e0"/><stop offset="0.85" stop-color="#4a90f0"/><stop offset="1" stop-color="#7c74ea"/></linearGradient><linearGradient id="g67" gradientUnits="userSpaceOnUse" x1="712.0" y1="676.3" x2="730.7" y2="761.3"><stop offset="0" stop-color="#63cc82"/><stop offset="0.15" stop-color="#49c797"/><stop offset="0.3" stop-color="#2cc0ae"/><stop offset="0.35" stop-color="#27beb7"/><stop offset="0.6" stop-color="#18b0e0"/><stop offset="0.85" stop-color="#4b90f0"/><stop offset="1" stop-color="#7c74ea"/></linearGradient><linearGradient id="g68" gradientUnits="userSpaceOnUse" x1="718.0" y1="674.5" x2="736.9" y2="760.4"><stop offset="0" stop-color="#68cc7f"/><stop offset="0.15" stop-color="#4dc794"/><stop offset="0.3" stop-color="#2dc1ad"/><stop offset="0.35" stop-color="#27beb7"/><stop offset="0.6" stop-color="#18b0e0"/><stop offset="0.85" stop-color="#4b90f0"/><stop offset="1" stop-color="#7d73ea"/></linearGradient><linearGradient id="g69" gradientUnits="userSpaceOnUse" x1="724.0" y1="672.7" x2="743.1" y2="759.5"><stop offset="0" stop-color="#6dcc7c"/><stop offset="0.15" stop-color="#51c791"/><stop offset="0.3" stop-color="#2fc1ac"/><stop offset="0.35" stop-color="#28beb6"/><stop offset="0.6" stop-color="#18b0e0"/><stop offset="0.85" stop-color="#4b90f0"/><stop offset="1" stop-color="#7d73ea"/></linearGradient><linearGradient id="g70" gradientUnits="userSpaceOnUse" x1="730.0" y1="670.8" x2="749.3" y2="758.7"><stop offset="0" stop-color="#72cc7a"/><stop offset="0.15" stop-color="#56c88f"/><stop offset="0.3" stop-color="#31c1ab"/><stop offset="0.35" stop-color="#29beb6"/><stop offset="0.6" stop-color="#18b0e0"/><stop offset="0.85" stop-color="#4c90f0"/><stop offset="1" stop-color="#7d73e9"/></linearGradient><linearGradient id="g71" gradientUnits="userSpaceOnUse" x1="736.0" y1="669.0" x2="755.6" y2="757.8"><stop offset="0" stop-color="#78cc77"/><stop offset="0.15" stop-color="#5ac88c"/><stop offset="0.3" stop-color="#33c1aa"/><stop offset="0.35" stop-color="#29beb5"/><stop offset="0.6" stop-color="#18b0e0"/><stop offset="0.85" stop-color="#4c90f0"/><stop offset="1" stop-color="#7d73e9"/></linearGradient><linearGradient id="g72" gradientUnits="userSpaceOnUse" x1="742.0" y1="667.0" x2="763.1" y2="756.3"><stop offset="0" stop-color="#7dcc74"/><stop offset="0.15" stop-color="#5ec98a"/><stop offset="0.3" stop-color="#35c1a9"/><stop offset="0.35" stop-color="#2abeb5"/><stop offset="0.6" stop-color="#18b0e0"/><stop offset="0.85" stop-color="#4d90f0"/><stop offset="1" stop-color="#7e72e9"/></linearGradient><linearGradient id="g73" gradientUnits="userSpaceOnUse" x1="748.0" y1="665.0" x2="769.4" y2="755.5"><stop offset="0" stop-color="#82cc71"/><stop offset="0.15" stop-color="#63c987"/><stop offset="0.3" stop-color="#36c1a8"/><stop offset="0.35" stop-color="#2abfb4"/><stop offset="0.6" stop-color="#18b0e0"/><stop offset="0.85" stop-color="#4d90f0"/><stop offset="1" stop-color="#7e72e9"/></linearGradient><linearGradient id="g74" gradientUnits="userSpaceOnUse" x1="754.0" y1="662.9" x2="775.7" y2="754.6"><stop offset="0" stop-color="#88cc6e"/><stop offset="0.15" stop-color="#67c984"/><stop offset="0.3" stop-color="#38c2a7"/><stop offset="0.35" stop-color="#2bbfb4"/><stop offset="0.6" stop-color="#18b0e0"/><stop offset="0.85" stop-color="#4d90f0"/><stop offset="1" stop-color="#7e72e9"/></linearGradient><linearGradient id="g75" gradientUnits="userSpaceOnUse" x1="760.0" y1="660.9" x2="782.0" y2="753.7"><stop offset="0" stop-color="#8dcc6b"/><stop offset="0.15" stop-color="#6bca82"/><stop offset="0.3" stop-color="#3ac2a6"/><stop offset="0.35" stop-color="#2cbfb3"/><stop offset="0.6" stop-color="#18b0e0"/><stop offset="0.85" stop-color="#4e90f0"/><stop offset="1" stop-color="#7e72e9"/></linearGradient><linearGradient id="g76" gradientUnits="userSpaceOnUse" x1="766.0" y1="658.9" x2="788.2" y2="752.8"><stop offset="0" stop-color="#92cc68"/><stop offset="0.15" stop-color="#70ca7f"/><stop offset="0.3" stop-color="#3cc2a5"/><stop offset="0.35" stop-color="#2cbfb3"/><stop offset="0.6" stop-color="#18b0e0"/><stop offset="0.85" stop-color="#4e90f0"/><stop offset="1" stop-color="#7f71e9"/></linearGradient><linearGradient id="g77" gradientUnits="userSpaceOnUse" x1="772.0" y1="656.8" x2="794.5" y2="752.0"><stop offset="0" stop-color="#97cc65"/><stop offset="0.15" stop-color="#74ca7c"/><stop offset="0.3" stop-color="#3ec2a4"/><stop offset="0.35" stop-color="#2dbfb2"/><stop offset="0.6" stop-color="#18b0e0"/><stop offset="0.85" stop-color="#4e90f0"/><stop offset="1" stop-color="#7f71e9"/></linearGradient><linearGradient id="g78" gradientUnits="userSpaceOnUse" x1="778.0" y1="654.8" x2="800.8" y2="751.1"><stop offset="0" stop-color="#9dcc63"/><stop offset="0.15" stop-color="#78cb7a"/><stop offset="0.3" stop-color="#3fc2a4"/><stop offset="0.35" stop-color="#2ebfb2"/><stop offset="0.6" stop-color="#18b0e0"/><stop offset="0.85" stop-color="#4f90f0"/><stop offset="1" stop-color="#7f71e8"/></linearGradient><linearGradient id="g79" gradientUnits="userSpaceOnUse" x1="784.0" y1="652.8" x2="807.1" y2="750.2"><stop offset="0" stop-color="#a2cc60"/><stop offset="0.15" stop-color="#7ccb77"/><stop offset="0.3" stop-color="#41c3a3"/><stop offset="0.35" stop-color="#2ec0b1"/><stop offset="0.6" stop-color="#18b0e0"/><stop offset="0.85" stop-color="#4f90f0"/><stop offset="1" stop-color="#7f71e8"/></linearGradient><linearGradient id="g80" gradientUnits="userSpaceOnUse" x1="790.0" y1="650.7" x2="813.3" y2="749.4"><stop offset="0" stop-color="#a7cc5d"/><stop offset="0.15" stop-color="#81cb74"/><stop offset="0.3" stop-color="#43c3a2"/><stop offset="0.35" stop-color="#2fc0b1"/><stop offset="0.6" stop-color="#18b0e0"/><stop offset="0.85" stop-color="#4f90f0"/><stop offset="1" stop-color="#8070e8"/></linearGradient><linearGradient id="g81" gradientUnits="userSpaceOnUse" x1="796.0" y1="648.7" x2="819.6" y2="748.5"><stop offset="0" stop-color="#accc5a"/><stop offset="0.15" stop-color="#85cc72"/><stop offset="0.3" stop-color="#45c3a1"/><stop offset="0.35" stop-color="#30c0b0"/><stop offset="0.6" stop-color="#18b0e0"/><stop offset="0.85" stop-color="#5090f0"/><stop offset="1" stop-color="#8070e8"/></linearGradient><linearGradient id="g82" gradientUnits="userSpaceOnUse" x1="802.0" y1="646.7" x2="825.9" y2="747.6"><stop offset="0" stop-color="#b1cc58"/><stop offset="0.12" stop-color="#91cc6b"/><stop offset="0.15" stop-color="#89cc70"/><stop offset="0.25" stop-color="#5ec68f"/><stop offset="0.32" stop-color="#3ec0a6"/><stop offset="0.35" stop-color="#31bfb0"/><stop offset="0.4" stop-color="#2bbbba"/><stop offset="0.55" stop-color="#1db2d6"/><stop offset="0.6" stop-color="#18afe0"/><stop offset="0.7" stop-color="#2ea3e6"/><stop offset="0.85" stop-color="#5090f0"/><stop offset="1" stop-color="#8070e8"/></linearGradient><linearGradient id="g83" gradientUnits="userSpaceOnUse" x1="808.0" y1="645.0" x2="828.4" y2="748.4"><stop offset="0" stop-color="#b5cb56"/><stop offset="0.12" stop-color="#95cc6a"/><stop offset="0.15" stop-color="#8dcc6f"/><stop offset="0.25" stop-color="#63c68d"/><stop offset="0.32" stop-color="#41bda7"/><stop offset="0.35" stop-color="#33bab0"/><stop offset="0.4" stop-color="#2bb6b9"/><stop offset="0.55" stop-color="#1dadd5"/><stop offset="0.6" stop-color="#19abde"/><stop offset="0.7" stop-color="#2ea1e6"/><stop offset="0.85" stop-color="#5090f0"/><stop offset="1" stop-color="#8070e8"/></linearGradient><linearGradient id="g84" gradientUnits="userSpaceOnUse" x1="814.0" y1="643.6" x2="834.5" y2="747.4"><stop offset="0" stop-color="#b8cb55"/><stop offset="0.12" stop-color="#99cc69"/><stop offset="0.15" stop-color="#91cc6d"/><stop offset="0.25" stop-color="#68c68c"/><stop offset="0.32" stop-color="#43b9a7"/><stop offset="0.35" stop-color="#35b6b0"/><stop offset="0.4" stop-color="#2bb0b9"/><stop offset="0.55" stop-color="#1da8d3"/><stop offset="0.6" stop-color="#19a7dd"/><stop offset="0.7" stop-color="#2e9fe6"/><stop offset="0.85" stop-color="#5090f0"/><stop offset="1" stop-color="#8070e8"/></linearGradient><linearGradient id="g85" gradientUnits="userSpaceOnUse" x1="820.0" y1="642.1" x2="840.6" y2="746.5"><stop offset="0" stop-color="#bcca54"/><stop offset="0.12" stop-color="#9dcc67"/><stop offset="0.15" stop-color="#95cc6c"/><stop offset="0.25" stop-color="#6dc68a"/><stop offset="0.32" stop-color="#46b5a7"/><stop offset="0.35" stop-color="#37b1b0"/><stop offset="0.4" stop-color="#2babb9"/><stop offset="0.55" stop-color="#1da3d2"/><stop offset="0.6" stop-color="#1aa3dc"/><stop offset="0.7" stop-color="#2e9ee5"/><stop offset="0.85" stop-color="#5090f0"/><stop offset="1" stop-color="#8070e8"/></linearGradient><linearGradient id="g86" gradientUnits="userSpaceOnUse" x1="826.0" y1="640.6" x2="846.7" y2="745.6"><stop offset="0" stop-color="#c0ca53"/><stop offset="0.12" stop-color="#a1cc66"/><stop offset="0.15" stop-color="#99cc6b"/><stop offset="0.25" stop-color="#72c788"/><stop offset="0.32" stop-color="#49b1a7"/><stop offset="0.35" stop-color="#39adaf"/><stop offset="0.4" stop-color="#2ba6b9"/><stop offset="0.55" stop-color="#1d9ed1"/><stop offset="0.6" stop-color="#1b9fda"/><stop offset="0.7" stop-color="#2d9ce5"/><stop offset="0.85" stop-color="#5090f0"/><stop offset="1" stop-color="#8070e8"/></linearGradient><linearGradient id="g87" gradientUnits="userSpaceOnUse" x1="832.0" y1="639.2" x2="852.8" y2="744.7"><stop offset="0" stop-color="#c3c952"/><stop offset="0.12" stop-color="#a4cc65"/><stop offset="0.15" stop-color="#9dcc6a"/><stop offset="0.25" stop-color="#77c786"/><stop offset="0.32" stop-color="#4cada7"/><stop offset="0.35" stop-color="#3ba8af"/><stop offset="0.4" stop-color="#2ba0b9"/><stop offset="0.55" stop-color="#1d99cf"/><stop offset="0.6" stop-color="#1b9bd9"/><stop offset="0.7" stop-color="#2d9ae4"/><stop offset="0.85" stop-color="#5090f0"/><stop offset="1" stop-color="#8070e8"/></linearGradient><linearGradient id="g88" gradientUnits="userSpaceOnUse" x1="838.0" y1="637.7" x2="858.9" y2="743.7"><stop offset="0" stop-color="#c7c950"/><stop offset="0.12" stop-color="#a8cc64"/><stop offset="0.15" stop-color="#a1cc69"/><stop offset="0.25" stop-color="#7cc784"/><stop offset="0.32" stop-color="#4ea9a7"/><stop offset="0.35" stop-color="#3da4af"/><stop offset="0.4" stop-color="#2b9bb9"/><stop offset="0.55" stop-color="#1d94ce"/><stop offset="0.6" stop-color="#1c97d8"/><stop offset="0.7" stop-color="#2d99e4"/><stop offset="0.85" stop-color="#5090f0"/><stop offset="1" stop-color="#8070e8"/></linearGradient><linearGradient id="g89" gradientUnits="userSpaceOnUse" x1="844.0" y1="636.3" x2="865.0" y2="742.8"><stop offset="0" stop-color="#cac84f"/><stop offset="0.12" stop-color="#accc63"/><stop offset="0.15" stop-color="#a4cc68"/><stop offset="0.25" stop-color="#81c782"/><stop offset="0.32" stop-color="#51a5a7"/><stop offset="0.35" stop-color="#3f9faf"/><stop offset="0.4" stop-color="#2b96b9"/><stop offset="0.55" stop-color="#1d8fcd"/><stop offset="0.6" stop-color="#1c93d7"/><stop offset="0.7" stop-color="#2c97e4"/><stop offset="0.85" stop-color="#5090f0"/><stop offset="1" stop-color="#8070e8"/></linearGradient><linearGradient id="g90" gradientUnits="userSpaceOnUse" x1="850.0" y1="634.8" x2="871.1" y2="741.9"><stop offset="0" stop-color="#cec84e"/><stop offset="0.12" stop-color="#b0cc62"/><stop offset="0.15" stop-color="#a8cc67"/><stop offset="0.25" stop-color="#86c780"/><stop offset="0.32" stop-color="#54a1a7"/><stop offset="0.35" stop-color="#419baf"/><stop offset="0.4" stop-color="#2b90b9"/><stop offset="0.55" stop-color="#1d8bcb"/><stop offset="0.6" stop-color="#1d8fd5"/><stop offset="0.7" stop-color="#2c96e3"/><stop offset="0.85" stop-color="#5090f0"/><stop offset="1" stop-color="#8070e8"/></linearGradient><linearGradient id="g91" gradientUnits="userSpaceOnUse" x1="856.0" y1="633.3" x2="877.2" y2="741.0"><stop offset="0" stop-color="#d2c84d"/><stop offset="0.12" stop-color="#b4cc60"/><stop offset="0.15" stop-color="#accb66"/><stop offset="0.25" stop-color="#8bc77e"/><stop offset="0.32" stop-color="#569da7"/><stop offset="0.35" stop-color="#4396af"/><stop offset="0.4" stop-color="#2b8bb9"/><stop offset="0.55" stop-color="#1d86ca"/><stop offset="0.6" stop-color="#1e8bd4"/><stop offset="0.7" stop-color="#2c94e3"/><stop offset="0.85" stop-color="#5090f0"/><stop offset="1" stop-color="#8070e8"/></linearGradient><linearGradient id="g92" gradientUnits="userSpaceOnUse" x1="862.0" y1="631.9" x2="883.3" y2="740.0"><stop offset="0" stop-color="#d5c74c"/><stop offset="0.12" stop-color="#b8cc5f"/><stop offset="0.15" stop-color="#b0cb65"/><stop offset="0.25" stop-color="#90c77c"/><stop offset="0.32" stop-color="#5999a7"/><stop offset="0.35" stop-color="#4592af"/><stop offset="0.4" stop-color="#2a86b9"/><stop offset="0.55" stop-color="#1e81c9"/><stop offset="0.6" stop-color="#1e87d3"/><stop offset="0.7" stop-color="#2c92e2"/><stop offset="0.85" stop-color="#5090f0"/><stop offset="1" stop-color="#8070e8"/></linearGradient><linearGradient id="g93" gradientUnits="userSpaceOnUse" x1="868.0" y1="630.4" x2="889.4" y2="739.1"><stop offset="0" stop-color="#d9c74a"/><stop offset="0.12" stop-color="#bccc5e"/><stop offset="0.15" stop-color="#b4cb63"/><stop offset="0.25" stop-color="#95c77a"/><stop offset="0.32" stop-color="#5c95a7"/><stop offset="0.35" stop-color="#478daf"/><stop offset="0.4" stop-color="#2a80b9"/><stop offset="0.55" stop-color="#1e7cc7"/><stop offset="0.6" stop-color="#1f84d1"/><stop offset="0.7" stop-color="#2b91e2"/><stop offset="0.85" stop-color="#5090f0"/><stop offset="1" stop-color="#8070e8"/></linearGradient><linearGradient id="g94" gradientUnits="userSpaceOnUse" x1="874.0" y1="629.0" x2="895.5" y2="738.2"><stop offset="0" stop-color="#dcc649"/><stop offset="0.12" stop-color="#bfcc5d"/><stop offset="0.15" stop-color="#b8cb62"/><stop offset="0.25" stop-color="#9ac778"/><stop offset="0.32" stop-color="#5e91a8"/><stop offset="0.35" stop-color="#4989af"/><stop offset="0.4" stop-color="#2a7bb8"/><stop offset="0.55" stop-color="#1e77c6"/><stop offset="0.6" stop-color="#1f80d0"/><stop offset="0.7" stop-color="#2b8fe2"/><stop offset="0.85" stop-color="#5090f0"/><stop offset="1" stop-color="#8070e8"/></linearGradient><linearGradient id="g95" gradientUnits="userSpaceOnUse" x1="880.0" y1="627.5" x2="902.9" y2="736.7"><stop offset="0" stop-color="#e0c648"/><stop offset="0.12" stop-color="#c3cc5c"/><stop offset="0.15" stop-color="#bccb61"/><stop offset="0.25" stop-color="#9fc876"/><stop offset="0.32" stop-color="#618da8"/><stop offset="0.35" stop-color="#4b84ae"/><stop offset="0.4" stop-color="#2a76b8"/><stop offset="0.55" stop-color="#1e72c4"/><stop offset="0.6" stop-color="#207ccf"/><stop offset="0.7" stop-color="#2b8de1"/><stop offset="0.85" stop-color="#5090f0"/><stop offset="1" stop-color="#8070e8"/></linearGradient><linearGradient id="g96" gradientUnits="userSpaceOnUse" x1="886.0" y1="625.7" x2="910.4" y2="735.2"><stop offset="0" stop-color="#e4c547"/><stop offset="0.12" stop-color="#c7cc5b"/><stop offset="0.15" stop-color="#c0cb60"/><stop offset="0.25" stop-color="#a4c874"/><stop offset="0.32" stop-color="#6489a8"/><stop offset="0.35" stop-color="#4d80ae"/><stop offset="0.4" stop-color="#2a70b8"/><stop offset="0.55" stop-color="#1e6dc3"/><stop offset="0.6" stop-color="#2178ce"/><stop offset="0.7" stop-color="#2b8ce1"/><stop offset="0.85" stop-color="#5090f0"/><stop offset="1" stop-color="#8070e8"/></linearGradient><linearGradient id="g97" gradientUnits="userSpaceOnUse" x1="892.0" y1="624.0" x2="916.6" y2="734.2"><stop offset="0" stop-color="#e7c546"/><stop offset="0.12" stop-color="#cbcc5a"/><stop offset="0.15" stop-color="#c3cb5f"/><stop offset="0.25" stop-color="#a9c873"/><stop offset="0.32" stop-color="#6685a8"/><stop offset="0.35" stop-color="#4f7bae"/><stop offset="0.4" stop-color="#2a6bb8"/><stop offset="0.55" stop-color="#1e68c2"/><stop offset="0.6" stop-color="#2174cc"/><stop offset="0.7" stop-color="#2a8ae1"/><stop offset="0.85" stop-color="#5090f0"/><stop offset="1" stop-color="#8070e8"/></linearGradient><linearGradient id="g98" gradientUnits="userSpaceOnUse" x1="898.0" y1="622.2" x2="922.8" y2="733.3"><stop offset="0" stop-color="#ebc444"/><stop offset="0.12" stop-color="#cfcc58"/><stop offset="0.15" stop-color="#c7cb5e"/><stop offset="0.25" stop-color="#aec871"/><stop offset="0.32" stop-color="#6981a8"/><stop offset="0.35" stop-color="#5177ae"/><stop offset="0.4" stop-color="#2a66b8"/><stop offset="0.55" stop-color="#1e64c0"/><stop offset="0.6" stop-color="#2270cb"/><stop offset="0.7" stop-color="#2a89e0"/><stop offset="0.85" stop-color="#5090f0"/><stop offset="1" stop-color="#8070e8"/></linearGradient><linearGradient id="g99" gradientUnits="userSpaceOnUse" x1="904.0" y1="620.4" x2="931.1" y2="731.2"><stop offset="0" stop-color="#ecc444"/><stop offset="0.12" stop-color="#d0cc58"/><stop offset="0.14" stop-color="#cccb5c"/><stop offset="0.25" stop-color="#b0c870"/><stop offset="0.28" stop-color="#94ab87"/><stop offset="0.32" stop-color="#6b81a7"/><stop offset="0.34" stop-color="#5b79ac"/><stop offset="0.4" stop-color="#2b64b8"/><stop offset="0.42" stop-color="#2864b9"/><stop offset="0.55" stop-color="#1e62c0"/><stop offset="0.58" stop-color="#2069c6"/><stop offset="0.7" stop-color="#2a88e0"/><stop offset="0.72" stop-color="#2f89e2"/><stop offset="0.85" stop-color="#5090f0"/><stop offset="0.86" stop-color="#538eef"/><stop offset="1" stop-color="#8070e8"/></linearGradient><linearGradient id="g100" gradientUnits="userSpaceOnUse" x1="910.0" y1="618.5" x2="937.2" y2="730.1"><stop offset="0" stop-color="#ecc544"/><stop offset="0.12" stop-color="#d1cc58"/><stop offset="0.14" stop-color="#cccb5c"/><stop offset="0.25" stop-color="#b1c86f"/><stop offset="0.28" stop-color="#96ad85"/><stop offset="0.32" stop-color="#6d83a6"/><stop offset="0.34" stop-color="#5c7aab"/><stop offset="0.4" stop-color="#2c65b7"/><stop offset="0.42" stop-color="#2964b9"/><stop offset="0.55" stop-color="#1e62c0"/><stop offset="0.58" stop-color="#2069c6"/><stop offset="0.7" stop-color="#2a87df"/><stop offset="0.72" stop-color="#2e89e2"/><stop offset="0.85" stop-color="#5090f0"/><stop offset="0.86" stop-color="#538ef0"/><stop offset="1" stop-color="#8070e8"/></linearGradient><linearGradient id="g101" gradientUnits="userSpaceOnUse" x1="916.0" y1="616.7" x2="943.4" y2="728.9"><stop offset="0" stop-color="#ecc544"/><stop offset="0.12" stop-color="#d2cc58"/><stop offset="0.14" stop-color="#cdcc5c"/><stop offset="0.25" stop-color="#b2c86f"/><stop offset="0.28" stop-color="#98af83"/><stop offset="0.32" stop-color="#6f85a4"/><stop offset="0.34" stop-color="#5d7aab"/><stop offset="0.4" stop-color="#2d65b7"/><stop offset="0.42" stop-color="#2964b9"/><stop offset="0.55" stop-color="#1e62c0"/><stop offset="0.58" stop-color="#2068c5"/><stop offset="0.7" stop-color="#2a87df"/><stop offset="0.72" stop-color="#2e89e2"/><stop offset="0.85" stop-color="#4f90f0"/><stop offset="0.86" stop-color="#538ef0"/><stop offset="1" stop-color="#8070e8"/></linearGradient><linearGradient id="g102" gradientUnits="userSpaceOnUse" x1="922.0" y1="614.8" x2="949.6" y2="727.8"><stop offset="0" stop-color="#ecc544"/><stop offset="0.12" stop-color="#d2cc58"/><stop offset="0.14" stop-color="#cecc5c"/><stop offset="0.25" stop-color="#b2c86f"/><stop offset="0.28" stop-color="#9ab281"/><stop offset="0.32" stop-color="#7187a3"/><stop offset="0.34" stop-color="#5f7bab"/><stop offset="0.4" stop-color="#2f66b7"/><stop offset="0.42" stop-color="#2964b9"/><stop offset="0.55" stop-color="#1f62c0"/><stop offset="0.58" stop-color="#2067c5"/><stop offset="0.7" stop-color="#2a86df"/><stop offset="0.72" stop-color="#2e89e2"/><stop offset="0.85" stop-color="#4f90f0"/><stop offset="0.86" stop-color="#528ef0"/><stop offset="1" stop-color="#8070e8"/></linearGradient><linearGradient id="g103" gradientUnits="userSpaceOnUse" x1="928.0" y1="613.0" x2="955.8" y2="726.7"><stop offset="0" stop-color="#ecc544"/><stop offset="0.12" stop-color="#d3cc58"/><stop offset="0.14" stop-color="#cecc5c"/><stop offset="0.25" stop-color="#b3c86e"/><stop offset="0.28" stop-color="#9db47f"/><stop offset="0.32" stop-color="#7289a1"/><stop offset="0.34" stop-color="#607cab"/><stop offset="0.4" stop-color="#3067b7"/><stop offset="0.42" stop-color="#2964b9"/><stop offset="0.55" stop-color="#1f62bf"/><stop offset="0.58" stop-color="#2067c4"/><stop offset="0.7" stop-color="#2986de"/><stop offset="0.72" stop-color="#2d89e1"/><stop offset="0.85" stop-color="#4f90f0"/><stop offset="0.86" stop-color="#528ff0"/><stop offset="1" stop-color="#8070e8"/></linearGradient><linearGradient id="g104" gradientUnits="userSpaceOnUse" x1="934.0" y1="611.1" x2="961.9" y2="725.6"><stop offset="0" stop-color="#ecc644"/><stop offset="0.12" stop-color="#d3cc58"/><stop offset="0.14" stop-color="#cfcc5c"/><stop offset="0.25" stop-color="#b3c86e"/><stop offset="0.28" stop-color="#9fb77e"/><stop offset="0.32" stop-color="#748aa0"/><stop offset="0.34" stop-color="#617caa"/><stop offset="0.4" stop-color="#3167b6"/><stop offset="0.42" stop-color="#2964b9"/><stop offset="0.55" stop-color="#1f62bf"/><stop offset="0.58" stop-color="#1f66c4"/><stop offset="0.7" stop-color="#2986de"/><stop offset="0.72" stop-color="#2d89e1"/><stop offset="0.85" stop-color="#4f90f0"/><stop offset="0.86" stop-color="#528ff0"/><stop offset="1" stop-color="#8070e8"/></linearGradient><linearGradient id="g105" gradientUnits="userSpaceOnUse" x1="940.0" y1="609.3" x2="971.6" y2="722.1"><stop offset="0" stop-color="#ecc644"/><stop offset="0.12" stop-color="#d4cc58"/><stop offset="0.14" stop-color="#d0cc5c"/><stop offset="0.25" stop-color="#b4c86e"/><stop offset="0.28" stop-color="#a1b97c"/><stop offset="0.32" stop-color="#768c9e"/><stop offset="0.34" stop-color="#627daa"/><stop offset="0.4" stop-color="#3268b6"/><stop offset="0.42" stop-color="#2964b9"/><stop offset="0.55" stop-color="#1f62bf"/><stop offset="0.58" stop-color="#1f66c3"/><stop offset="0.7" stop-color="#2985de"/><stop offset="0.72" stop-color="#2c89e1"/><stop offset="0.85" stop-color="#4f90ef"/><stop offset="0.86" stop-color="#528ff0"/><stop offset="1" stop-color="#8070e8"/></linearGradient><linearGradient id="g106" gradientUnits="userSpaceOnUse" x1="946.0" y1="607.4" x2="977.6" y2="720.6"><stop offset="0" stop-color="#ecc644"/><stop offset="0.12" stop-color="#d4cc58"/><stop offset="0.14" stop-color="#d0cc5c"/><stop offset="0.25" stop-color="#b5c96d"/><stop offset="0.28" stop-color="#a4bb7a"/><stop offset="0.32" stop-color="#788e9d"/><stop offset="0.34" stop-color="#637daa"/><stop offset="0.4" stop-color="#3368b6"/><stop offset="0.42" stop-color="#2964b8"/><stop offset="0.55" stop-color="#1f62bf"/><stop offset="0.58" stop-color="#1f65c3"/><stop offset="0.7" stop-color="#2985dd"/><stop offset="0.72" stop-color="#2c88e1"/><stop offset="0.85" stop-color="#4e90ef"/><stop offset="0.86" stop-color="#518ff0"/><stop offset="1" stop-color="#8070e8"/></linearGradient><linearGradient id="g107" gradientUnits="userSpaceOnUse" x1="952.0" y1="605.6" x2="983.7" y2="719.1"><stop offset="0" stop-color="#ecc744"/><stop offset="0.12" stop-color="#d5cc58"/><stop offset="0.14" stop-color="#d1cc5c"/><stop offset="0.25" stop-color="#b5c96d"/><stop offset="0.28" stop-color="#a6be78"/><stop offset="0.32" stop-color="#7a909c"/><stop offset="0.34" stop-color="#657ea9"/><stop offset="0.4" stop-color="#3569b5"/><stop offset="0.42" stop-color="#2964b8"/><stop offset="0.55" stop-color="#1f62bf"/><stop offset="0.58" stop-color="#1f65c2"/><stop offset="0.7" stop-color="#2984dd"/><stop offset="0.72" stop-color="#2c88e1"/><stop offset="0.85" stop-color="#4e90ef"/><stop offset="0.86" stop-color="#518ff0"/><stop offset="1" stop-color="#8070e8"/></linearGradient><linearGradient id="g108" gradientUnits="userSpaceOnUse" x1="958.0" y1="603.7" x2="989.8" y2="717.5"><stop offset="0" stop-color="#ecc744"/><stop offset="0.12" stop-color="#d6cc58"/><stop offset="0.14" stop-color="#d2cc5c"/><stop offset="0.25" stop-color="#b6c96d"/><stop offset="0.28" stop-color="#a8c076"/><stop offset="0.32" stop-color="#7b929a"/><stop offset="0.34" stop-color="#667ea9"/><stop offset="0.4" stop-color="#3669b5"/><stop offset="0.42" stop-color="#2a64b8"/><stop offset="0.55" stop-color="#2062bf"/><stop offset="0.58" stop-color="#1f64c2"/><stop offset="0.7" stop-color="#2984dd"/><stop offset="0.72" stop-color="#2b88e1"/><stop offset="0.85" stop-color="#4e90ef"/><stop offset="0.86" stop-color="#518ff0"/><stop offset="1" stop-color="#8070e8"/></linearGradient><linearGradient id="g109" gradientUnits="userSpaceOnUse" x1="964.0" y1="601.9" x2="995.9" y2="716.0"><stop offset="0" stop-color="#ecc744"/><stop offset="0.12" stop-color="#d6cc58"/><stop offset="0.14" stop-color="#d2cc5c"/><stop offset="0.25" stop-color="#b6c96c"/><stop offset="0.28" stop-color="#abc274"/><stop offset="0.32" stop-color="#7d9499"/><stop offset="0.34" stop-color="#677fa9"/><stop offset="0.4" stop-color="#376ab5"/><stop offset="0.42" stop-color="#2a64b8"/><stop offset="0.55" stop-color="#2062bf"/><stop offset="0.58" stop-color="#1e63c1"/><stop offset="0.7" stop-color="#2984dc"/><stop offset="0.72" stop-color="#2b88e0"/><stop offset="0.85" stop-color="#4e90ef"/><stop offset="0.86" stop-color="#5190f0"/><stop offset="1" stop-color="#8070e8"/></linearGradient><linearGradient id="g110" gradientUnits="userSpaceOnUse" x1="970.0" y1="600.0" x2="1002.0" y2="714.5"><stop offset="0" stop-color="#ecc844"/><stop offset="0.12" stop-color="#d7cb59"/><stop offset="0.14" stop-color="#d3cc5c"/><stop offset="0.25" stop-color="#b7c96c"/><stop offset="0.28" stop-color="#adc572"/><stop offset="0.32" stop-color="#7f9697"/><stop offset="0.34" stop-color="#687fa8"/><stop offset="0.4" stop-color="#386ab4"/><stop offset="0.42" stop-color="#2a64b8"/><stop offset="0.55" stop-color="#2062bf"/><stop offset="0.58" stop-color="#1e63c1"/><stop offset="0.7" stop-color="#2883dc"/><stop offset="0.72" stop-color="#2b88e0"/><stop offset="0.85" stop-color="#4e8fef"/><stop offset="0.86" stop-color="#5090f0"/><stop offset="1" stop-color="#8070e8"/></linearGradient><linearGradient id="g111" gradientUnits="userSpaceOnUse" x1="976.0" y1="598.2" x2="1007.7" y2="713.2"><stop offset="0" stop-color="#ecc844"/><stop offset="0.12" stop-color="#d7cb59"/><stop offset="0.14" stop-color="#d4cc5c"/><stop offset="0.25" stop-color="#b8c96c"/><stop offset="0.28" stop-color="#afc771"/><stop offset="0.32" stop-color="#819796"/><stop offset="0.34" stop-color="#6a80a8"/><stop offset="0.4" stop-color="#3a6bb4"/><stop offset="0.42" stop-color="#2a64b8"/><stop offset="0.55" stop-color="#2062bf"/><stop offset="0.58" stop-color="#1e62c0"/><stop offset="0.7" stop-color="#2883dc"/><stop offset="0.72" stop-color="#2a88e0"/><stop offset="0.85" stop-color="#4d8fef"/><stop offset="0.86" stop-color="#5090f0"/><stop offset="1" stop-color="#8070e8"/></linearGradient><linearGradient id="g112" gradientUnits="userSpaceOnUse" x1="982.0" y1="596.4" x2="1013.8" y2="711.7"><stop offset="0" stop-color="#ecc943"/><stop offset="0.14" stop-color="#d5cd5c"/><stop offset="0.16" stop-color="#d0cc5f"/><stop offset="0.24" stop-color="#b1b974"/><stop offset="0.28" stop-color="#a8b779"/><stop offset="0.34" stop-color="#6e7ba7"/><stop offset="0.38" stop-color="#536fae"/><stop offset="0.42" stop-color="#3364b6"/><stop offset="0.48" stop-color="#2663ba"/><stop offset="0.58" stop-color="#1f62c0"/><stop offset="0.62" stop-color="#216bc7"/><stop offset="0.72" stop-color="#2984de"/><stop offset="0.76" stop-color="#3387e4"/><stop offset="0.86" stop-color="#4e8fef"/><stop offset="0.9" stop-color="#5b89ee"/><stop offset="1" stop-color="#8071e9"/></linearGradient><linearGradient id="g113" gradientUnits="userSpaceOnUse" x1="988.0" y1="594.6" x2="1019.8" y2="710.1"><stop offset="0" stop-color="#eccc42"/><stop offset="0.14" stop-color="#d5ce5c"/><stop offset="0.16" stop-color="#d1ce5f"/><stop offset="0.24" stop-color="#a3a183"/><stop offset="0.28" stop-color="#9c9e86"/><stop offset="0.34" stop-color="#7374a6"/><stop offset="0.38" stop-color="#606bab"/><stop offset="0.42" stop-color="#4063b3"/><stop offset="0.48" stop-color="#2863ba"/><stop offset="0.58" stop-color="#2061bf"/><stop offset="0.62" stop-color="#2167c5"/><stop offset="0.72" stop-color="#297edc"/><stop offset="0.76" stop-color="#3082e2"/><stop offset="0.86" stop-color="#4b8dee"/><stop offset="0.9" stop-color="#578bef"/><stop offset="1" stop-color="#8074ea"/></linearGradient><linearGradient id="g114" gradientUnits="userSpaceOnUse" x1="994.0" y1="592.8" x2="1025.9" y2="708.6"><stop offset="0" stop-color="#ecce41"/><stop offset="0.14" stop-color="#d6cf5c"/><stop offset="0.16" stop-color="#d3cf60"/><stop offset="0.24" stop-color="#968891"/><stop offset="0.28" stop-color="#908594"/><stop offset="0.34" stop-color="#796da4"/><stop offset="0.38" stop-color="#6d66a7"/><stop offset="0.42" stop-color="#4d63af"/><stop offset="0.48" stop-color="#2962b9"/><stop offset="0.58" stop-color="#2261be"/><stop offset="0.62" stop-color="#2064c2"/><stop offset="0.72" stop-color="#2877d9"/><stop offset="0.76" stop-color="#2d7de1"/><stop offset="0.86" stop-color="#488bed"/><stop offset="0.9" stop-color="#548eef"/><stop offset="1" stop-color="#8076eb"/></linearGradient><linearGradient id="g115" gradientUnits="userSpaceOnUse" x1="1000.0" y1="591.0" x2="1032.0" y2="707.1"><stop offset="0" stop-color="#ecd040"/><stop offset="0.16" stop-color="#d4d060"/><stop offset="0.18" stop-color="#c1b870"/><stop offset="0.24" stop-color="#8870a0"/><stop offset="0.26" stop-color="#866ea1"/><stop offset="0.38" stop-color="#7a62a4"/><stop offset="0.42" stop-color="#5a62ac"/><stop offset="0.48" stop-color="#2a62b8"/><stop offset="0.52" stop-color="#2761ba"/><stop offset="0.62" stop-color="#2060c0"/><stop offset="0.66" stop-color="#2367c9"/><stop offset="0.76" stop-color="#2a78e0"/><stop offset="0.8" stop-color="#357fe5"/><stop offset="0.9" stop-color="#5090f0"/><stop offset="0.92" stop-color="#5a8bef"/><stop offset="1" stop-color="#8078ec"/></linearGradient><linearGradient id="g116" gradientUnits="userSpaceOnUse" x1="1006.0" y1="589.2" x2="1038.1" y2="705.5"><stop offset="0" stop-color="#ecd040"/><stop offset="0.16" stop-color="#d5d05f"/><stop offset="0.18" stop-color="#c3ba6f"/><stop offset="0.24" stop-color="#89729f"/><stop offset="0.26" stop-color="#866ea1"/><stop offset="0.38" stop-color="#7a62a4"/><stop offset="0.42" stop-color="#5b62ac"/><stop offset="0.48" stop-color="#2c62b8"/><stop offset="0.52" stop-color="#2761ba"/><stop offset="0.62" stop-color="#2060c0"/><stop offset="0.66" stop-color="#2367c9"/><stop offset="0.76" stop-color="#2a78e0"/><stop offset="0.8" stop-color="#347fe4"/><stop offset="0.9" stop-color="#4f90f0"/><stop offset="0.92" stop-color="#598cef"/><stop offset="1" stop-color="#7f78ec"/></linearGradient><linearGradient id="g117" gradientUnits="userSpaceOnUse" x1="1012.0" y1="587.4" x2="1044.1" y2="704.0"><stop offset="0" stop-color="#edd13f"/><stop offset="0.16" stop-color="#d5d15f"/><stop offset="0.18" stop-color="#c4bb6d"/><stop offset="0.24" stop-color="#8b739e"/><stop offset="0.26" stop-color="#866ea1"/><stop offset="0.38" stop-color="#7a62a4"/><stop offset="0.42" stop-color="#5d62ac"/><stop offset="0.48" stop-color="#2d62b7"/><stop offset="0.52" stop-color="#2761ba"/><stop offset="0.62" stop-color="#2060c0"/><stop offset="0.66" stop-color="#2367c9"/><stop offset="0.76" stop-color="#2979df"/><stop offset="0.8" stop-color="#3380e4"/><stop offset="0.9" stop-color="#4f91f0"/><stop offset="0.92" stop-color="#588def"/><stop offset="1" stop-color="#7e79ec"/></linearGradient><linearGradient id="g118" gradientUnits="userSpaceOnUse" x1="1018.0" y1="585.6" x2="1050.2" y2="702.5"><stop offset="0" stop-color="#edd13f"/><stop offset="0.16" stop-color="#d6d15e"/><stop offset="0.18" stop-color="#c6bd6c"/><stop offset="0.24" stop-color="#8c749d"/><stop offset="0.26" stop-color="#876ea0"/><stop offset="0.38" stop-color="#7a63a4"/><stop offset="0.42" stop-color="#5e62ab"/><stop offset="0.48" stop-color="#2f62b7"/><stop offset="0.52" stop-color="#2762ba"/><stop offset="0.62" stop-color="#2061c1"/><stop offset="0.66" stop-color="#2266c9"/><stop offset="0.76" stop-color="#2979df"/><stop offset="0.8" stop-color="#3381e4"/><stop offset="0.9" stop-color="#4e91f0"/><stop offset="0.92" stop-color="#578eef"/><stop offset="1" stop-color="#7d79ec"/></linearGradient><linearGradient id="g119" gradientUnits="userSpaceOnUse" x1="1024.0" y1="583.8" x2="1056.3" y2="701.0"><stop offset="0" stop-color="#eed23e"/><stop offset="0.16" stop-color="#d7d15d"/><stop offset="0.18" stop-color="#c7bf6a"/><stop offset="0.24" stop-color="#8d769c"/><stop offset="0.26" stop-color="#876ea0"/><stop offset="0.38" stop-color="#7a63a4"/><stop offset="0.42" stop-color="#6062ab"/><stop offset="0.48" stop-color="#3062b6"/><stop offset="0.52" stop-color="#2662ba"/><stop offset="0.62" stop-color="#2061c1"/><stop offset="0.66" stop-color="#2266c9"/><stop offset="0.76" stop-color="#2979de"/><stop offset="0.8" stop-color="#3281e3"/><stop offset="0.9" stop-color="#4d91ef"/><stop offset="0.92" stop-color="#568eef"/><stop offset="1" stop-color="#7c7aec"/></linearGradient><linearGradient id="g120" gradientUnits="userSpaceOnUse" x1="1030.0" y1="582.0" x2="1062.4" y2="699.4"><stop offset="0" stop-color="#eed23e"/><stop offset="0.16" stop-color="#d7d15d"/><stop offset="0.18" stop-color="#c9c069"/><stop offset="0.24" stop-color="#8f789b"/><stop offset="0.26" stop-color="#876fa0"/><stop offset="0.38" stop-color="#7963a5"/><stop offset="0.42" stop-color="#6162ab"/><stop offset="0.48" stop-color="#3262b6"/><stop offset="0.52" stop-color="#2662ba"/><stop offset="0.62" stop-color="#2061c1"/><stop offset="0.66" stop-color="#2266c9"/><stop offset="0.76" stop-color="#297ade"/><stop offset="0.8" stop-color="#3182e3"/><stop offset="0.9" stop-color="#4c92ef"/><stop offset="0.92" stop-color="#558fef"/><stop offset="1" stop-color="#7b7aec"/></linearGradient><linearGradient id="g121" gradientUnits="userSpaceOnUse" x1="1036.0" y1="580.2" x2="1067.6" y2="698.4"><stop offset="0" stop-color="#efd33d"/><stop offset="0.16" stop-color="#d8d25c"/><stop offset="0.18" stop-color="#cbc267"/><stop offset="0.24" stop-color="#90799a"/><stop offset="0.26" stop-color="#876fa0"/><stop offset="0.38" stop-color="#7963a5"/><stop offset="0.42" stop-color="#6362ab"/><stop offset="0.48" stop-color="#3362b6"/><stop offset="0.52" stop-color="#2662b9"/><stop offset="0.62" stop-color="#2061c1"/><stop offset="0.66" stop-color="#2266c9"/><stop offset="0.76" stop-color="#287ade"/><stop offset="0.8" stop-color="#3082e3"/><stop offset="0.9" stop-color="#4c92ef"/><stop offset="0.92" stop-color="#5490ef"/><stop offset="1" stop-color="#7a7bec"/></linearGradient><linearGradient id="g122" gradientUnits="userSpaceOnUse" x1="1042.0" y1="578.5" x2="1073.3" y2="697.1"><stop offset="0" stop-color="#efd33d"/><stop offset="0.16" stop-color="#d8d25b"/><stop offset="0.18" stop-color="#ccc466"/><stop offset="0.24" stop-color="#917b98"/><stop offset="0.26" stop-color="#886fa0"/><stop offset="0.38" stop-color="#7963a5"/><stop offset="0.42" stop-color="#6462aa"/><stop offset="0.48" stop-color="#3562b5"/><stop offset="0.52" stop-color="#2662b9"/><stop offset="0.62" stop-color="#2061c1"/><stop offset="0.66" stop-color="#2266c9"/><stop offset="0.76" stop-color="#287add"/><stop offset="0.8" stop-color="#2f83e3"/><stop offset="0.9" stop-color="#4b92ef"/><stop offset="0.92" stop-color="#5391f0"/><stop offset="1" stop-color="#797bec"/></linearGradient><linearGradient id="g123" gradientUnits="userSpaceOnUse" x1="1048.0" y1="576.9" x2="1078.1" y2="696.4"><stop offset="0" stop-color="#f0d43c"/><stop offset="0.16" stop-color="#d9d25a"/><stop offset="0.18" stop-color="#cec564"/><stop offset="0.24" stop-color="#937c97"/><stop offset="0.26" stop-color="#886fa0"/><stop offset="0.38" stop-color="#7964a5"/><stop offset="0.42" stop-color="#6662aa"/><stop offset="0.48" stop-color="#3662b5"/><stop offset="0.52" stop-color="#2662b9"/><stop offset="0.62" stop-color="#2162c2"/><stop offset="0.66" stop-color="#2165c9"/><stop offset="0.76" stop-color="#287bdd"/><stop offset="0.8" stop-color="#2f83e2"/><stop offset="0.9" stop-color="#4a93ef"/><stop offset="0.92" stop-color="#5291f0"/><stop offset="1" stop-color="#787cec"/></linearGradient><linearGradient id="g124" gradientUnits="userSpaceOnUse" x1="1054.0" y1="575.2" x2="1084.1" y2="695.0"><stop offset="0" stop-color="#f0d43c"/><stop offset="0.16" stop-color="#dad25a"/><stop offset="0.18" stop-color="#d0c763"/><stop offset="0.24" stop-color="#947e96"/><stop offset="0.26" stop-color="#886fa0"/><stop offset="0.38" stop-color="#7964a5"/><stop offset="0.42" stop-color="#6762aa"/><stop offset="0.48" stop-color="#3862b5"/><stop offset="0.52" stop-color="#2562b9"/><stop offset="0.62" stop-color="#2162c2"/><stop offset="0.66" stop-color="#2165c9"/><stop offset="0.76" stop-color="#287bdc"/><stop offset="0.8" stop-color="#2e84e2"/><stop offset="0.9" stop-color="#4a93ef"/><stop offset="0.92" stop-color="#5192f0"/><stop offset="1" stop-color="#777cec"/></linearGradient><linearGradient id="g125" gradientUnits="userSpaceOnUse" x1="1060.0" y1="573.5" x2="1090.2" y2="693.6"><stop offset="0" stop-color="#f1d53b"/><stop offset="0.16" stop-color="#dad359"/><stop offset="0.18" stop-color="#d1c962"/><stop offset="0.24" stop-color="#967f95"/><stop offset="0.26" stop-color="#886fa0"/><stop offset="0.38" stop-color="#7964a5"/><stop offset="0.42" stop-color="#6862aa"/><stop offset="0.48" stop-color="#3962b4"/><stop offset="0.52" stop-color="#2562b9"/><stop offset="0.62" stop-color="#2162c2"/><stop offset="0.66" stop-color="#2165c8"/><stop offset="0.76" stop-color="#277bdc"/><stop offset="0.8" stop-color="#2d84e2"/><stop offset="0.9" stop-color="#4993ee"/><stop offset="0.92" stop-color="#5093f0"/><stop offset="1" stop-color="#767dec"/></linearGradient><linearGradient id="g126" gradientUnits="userSpaceOnUse" x1="1066.0" y1="571.9" x2="1096.3" y2="692.2"><stop offset="0" stop-color="#f1d53b"/><stop offset="0.16" stop-color="#dbd358"/><stop offset="0.18" stop-color="#d3ca60"/><stop offset="0.24" stop-color="#978194"/><stop offset="0.26" stop-color="#896fa0"/><stop offset="0.38" stop-color="#7964a5"/><stop offset="0.42" stop-color="#6a62a9"/><stop offset="0.48" stop-color="#3b62b4"/><stop offset="0.52" stop-color="#2562b9"/><stop offset="0.62" stop-color="#2162c2"/><stop offset="0.66" stop-color="#2165c8"/><stop offset="0.76" stop-color="#277cdb"/><stop offset="0.8" stop-color="#2c85e2"/><stop offset="0.9" stop-color="#4894ee"/><stop offset="0.92" stop-color="#4f94f0"/><stop offset="1" stop-color="#757dec"/></linearGradient><linearGradient id="g127" gradientUnits="userSpaceOnUse" x1="1072.0" y1="570.2" x2="1102.4" y2="690.8"><stop offset="0" stop-color="#f2d63a"/><stop offset="0.16" stop-color="#dcd358"/><stop offset="0.18" stop-color="#d4cc5f"/><stop offset="0.24" stop-color="#988293"/><stop offset="0.26" stop-color="#896fa0"/><stop offset="0.38" stop-color="#7965a5"/><stop offset="0.42" stop-color="#6b62a9"/><stop offset="0.48" stop-color="#3c62b3"/><stop offset="0.52" stop-color="#2562b9"/><stop offset="0.62" stop-color="#2162c2"/><stop offset="0.66" stop-color="#2165c8"/><stop offset="0.76" stop-color="#277cdb"/><stop offset="0.8" stop-color="#2c85e1"/><stop offset="0.9" stop-color="#4894ee"/><stop offset="0.92" stop-color="#4e94f0"/><stop offset="1" stop-color="#747eec"/></linearGradient><linearGradient id="g128" gradientUnits="userSpaceOnUse" x1="1078.0" y1="568.6" x2="1108.4" y2="689.5"><stop offset="0" stop-color="#f2d63a"/><stop offset="0.16" stop-color="#dcd357"/><stop offset="0.18" stop-color="#d6ce5d"/><stop offset="0.24" stop-color="#9a8492"/><stop offset="0.26" stop-color="#8970a0"/><stop offset="0.38" stop-color="#7865a6"/><stop offset="0.42" stop-color="#6d62a9"/><stop offset="0.48" stop-color="#3e62b3"/><stop offset="0.52" stop-color="#2562b9"/><stop offset="0.62" stop-color="#2163c3"/><stop offset="0.66" stop-color="#2165c8"/><stop offset="0.76" stop-color="#277cdb"/><stop offset="0.8" stop-color="#2b86e1"/><stop offset="0.9" stop-color="#4794ee"/><stop offset="0.92" stop-color="#4d95f0"/><stop offset="1" stop-color="#747eec"/></linearGradient><linearGradient id="g129" gradientUnits="userSpaceOnUse" x1="1084.0" y1="567.1" x2="1109.8" y2="690.4"><stop offset="0" stop-color="#f3d739"/><stop offset="0.16" stop-color="#ddd456"/><stop offset="0.18" stop-color="#d8d05c"/><stop offset="0.24" stop-color="#9b8591"/><stop offset="0.26" stop-color="#8970a0"/><stop offset="0.38" stop-color="#7865a6"/><stop offset="0.42" stop-color="#6e62a9"/><stop offset="0.48" stop-color="#3f62b3"/><stop offset="0.52" stop-color="#2562b8"/><stop offset="0.62" stop-color="#2163c3"/><stop offset="0.66" stop-color="#2064c8"/><stop offset="0.76" stop-color="#267dda"/><stop offset="0.8" stop-color="#2a87e1"/><stop offset="0.9" stop-color="#4694ee"/><stop offset="0.92" stop-color="#4c96f0"/><stop offset="1" stop-color="#737fec"/></linearGradient><linearGradient id="g130" gradientUnits="userSpaceOnUse" x1="1090.0" y1="565.9" x2="1115.9" y2="689.1"><stop offset="0" stop-color="#f3d739"/><stop offset="0.16" stop-color="#ded456"/><stop offset="0.18" stop-color="#d9d15a"/><stop offset="0.24" stop-color="#9c8790"/><stop offset="0.26" stop-color="#8a70a0"/><stop offset="0.38" stop-color="#7865a6"/><stop offset="0.42" stop-color="#7062a8"/><stop offset="0.48" stop-color="#4162b2"/><stop offset="0.52" stop-color="#2462b8"/><stop offset="0.62" stop-color="#2163c3"/><stop offset="0.66" stop-color="#2064c8"/><stop offset="0.76" stop-color="#267dda"/><stop offset="0.8" stop-color="#2987e0"/><stop offset="0.9" stop-color="#4695ee"/><stop offset="0.92" stop-color="#4c97f0"/><stop offset="1" stop-color="#727fec"/></linearGradient><linearGradient id="g131" gradientUnits="userSpaceOnUse" x1="1096.0" y1="564.6" x2="1121.9" y2="687.9"><stop offset="0" stop-color="#f4d838"/><stop offset="0.16" stop-color="#ded455"/><stop offset="0.18" stop-color="#dbd359"/><stop offset="0.24" stop-color="#9e888f"/><stop offset="0.26" stop-color="#8a70a0"/><stop offset="0.38" stop-color="#7865a6"/><stop offset="0.42" stop-color="#7162a8"/><stop offset="0.48" stop-color="#4262b2"/><stop offset="0.52" stop-color="#2462b8"/><stop offset="0.62" stop-color="#2163c3"/><stop offset="0.66" stop-color="#2064c8"/><stop offset="0.76" stop-color="#267dd9"/><stop offset="0.8" stop-color="#2988e0"/><stop offset="0.9" stop-color="#4595ed"/><stop offset="0.92" stop-color="#4b97f0"/><stop offset="1" stop-color="#7180ec"/></linearGradient><linearGradient id="g132" gradientUnits="userSpaceOnUse" x1="1102.0" y1="563.3" x2="1127.9" y2="686.7"><stop offset="0" stop-color="#f4d838"/><stop offset="0.18" stop-color="#dcd458"/><stop offset="0.2" stop-color="#c8bc69"/><stop offset="0.26" stop-color="#8a70a0"/><stop offset="0.42" stop-color="#7262a8"/><stop offset="0.48" stop-color="#4462b1"/><stop offset="0.52" stop-color="#2562b8"/><stop offset="0.58" stop-color="#2263bf"/><stop offset="0.66" stop-color="#2064c8"/><stop offset="0.75" stop-color="#257bd7"/><stop offset="0.8" stop-color="#2888e0"/><stop offset="0.88" stop-color="#3e93ea"/><stop offset="0.92" stop-color="#4998f0"/><stop offset="1" stop-color="#6f80ec"/></linearGradient><linearGradient id="g133" gradientUnits="userSpaceOnUse" x1="1108.0" y1="562.0" x2="1133.9" y2="685.4"><stop offset="0" stop-color="#f4d937"/><stop offset="0.18" stop-color="#ddd457"/><stop offset="0.2" stop-color="#cabd67"/><stop offset="0.26" stop-color="#8a70a0"/><stop offset="0.42" stop-color="#7262a8"/><stop offset="0.48" stop-color="#4662b1"/><stop offset="0.52" stop-color="#2862b7"/><stop offset="0.58" stop-color="#2363be"/><stop offset="0.66" stop-color="#2064c8"/><stop offset="0.75" stop-color="#257ad7"/><stop offset="0.8" stop-color="#2788df"/><stop offset="0.88" stop-color="#3c95ea"/><stop offset="0.92" stop-color="#4799ef"/><stop offset="1" stop-color="#6d82ec"/></linearGradient><linearGradient id="g134" gradientUnits="userSpaceOnUse" x1="1114.0" y1="560.7" x2="1139.9" y2="684.2"><stop offset="0" stop-color="#f5d937"/><stop offset="0.18" stop-color="#ded555"/><stop offset="0.2" stop-color="#ccbf65"/><stop offset="0.26" stop-color="#8a70a0"/><stop offset="0.42" stop-color="#7262a8"/><stop offset="0.48" stop-color="#4962b0"/><stop offset="0.52" stop-color="#2a62b7"/><stop offset="0.58" stop-color="#2363be"/><stop offset="0.66" stop-color="#2165c7"/><stop offset="0.75" stop-color="#247ad6"/><stop offset="0.8" stop-color="#2688df"/><stop offset="0.88" stop-color="#3997e9"/><stop offset="0.92" stop-color="#459aef"/><stop offset="1" stop-color="#6a83ed"/></linearGradient><linearGradient id="g135" gradientUnits="userSpaceOnUse" x1="1120.0" y1="559.4" x2="1145.9" y2="683.0"><stop offset="0" stop-color="#f5da36"/><stop offset="0.18" stop-color="#dfd554"/><stop offset="0.2" stop-color="#cec163"/><stop offset="0.26" stop-color="#8a70a0"/><stop offset="0.42" stop-color="#7262a8"/><stop offset="0.48" stop-color="#4b62b0"/><stop offset="0.52" stop-color="#2d62b6"/><stop offset="0.58" stop-color="#2463bd"/><stop offset="0.66" stop-color="#2165c7"/><stop offset="0.75" stop-color="#2479d6"/><stop offset="0.8" stop-color="#2688de"/><stop offset="0.88" stop-color="#3799e9"/><stop offset="0.92" stop-color="#439bee"/><stop offset="1" stop-color="#6885ed"/></linearGradient><linearGradient id="g136" gradientUnits="userSpaceOnUse" x1="1126.0" y1="558.1" x2="1151.7" y2="681.8"><stop offset="0" stop-color="#f5da36"/><stop offset="0.18" stop-color="#e0d553"/><stop offset="0.2" stop-color="#d0c361"/><stop offset="0.26" stop-color="#8a70a0"/><stop offset="0.42" stop-color="#7263a7"/><stop offset="0.48" stop-color="#4d61af"/><stop offset="0.52" stop-color="#3062b6"/><stop offset="0.58" stop-color="#2463bd"/><stop offset="0.66" stop-color="#2165c7"/><stop offset="0.75" stop-color="#2478d5"/><stop offset="0.8" stop-color="#2588dd"/><stop offset="0.88" stop-color="#359ae8"/><stop offset="0.92" stop-color="#419ced"/><stop offset="1" stop-color="#6686ed"/></linearGradient><linearGradient id="g137" gradientUnits="userSpaceOnUse" x1="1132.0" y1="556.9" x2="1157.8" y2="680.6"><stop offset="0" stop-color="#f5db35"/><stop offset="0.18" stop-color="#e0d652"/><stop offset="0.2" stop-color="#d2c45f"/><stop offset="0.26" stop-color="#8a70a0"/><stop offset="0.42" stop-color="#7263a7"/><stop offset="0.48" stop-color="#5061af"/><stop offset="0.52" stop-color="#3262b5"/><stop offset="0.58" stop-color="#2563bd"/><stop offset="0.66" stop-color="#2266c6"/><stop offset="0.75" stop-color="#2378d5"/><stop offset="0.8" stop-color="#2488dd"/><stop offset="0.88" stop-color="#329ce7"/><stop offset="0.92" stop-color="#3f9ded"/><stop offset="1" stop-color="#6388ed"/></linearGradient><linearGradient id="g138" gradientUnits="userSpaceOnUse" x1="1138.0" y1="555.7" x2="1159.3" y2="681.2"><stop offset="0" stop-color="#f6db35"/><stop offset="0.18" stop-color="#e1d651"/><stop offset="0.2" stop-color="#d4c65d"/><stop offset="0.26" stop-color="#8a70a0"/><stop offset="0.42" stop-color="#7263a7"/><stop offset="0.48" stop-color="#5261ae"/><stop offset="0.52" stop-color="#3562b4"/><stop offset="0.58" stop-color="#2563bc"/><stop offset="0.66" stop-color="#2266c6"/><stop offset="0.75" stop-color="#2377d5"/><stop offset="0.8" stop-color="#2488dc"/><stop offset="0.88" stop-color="#309ee7"/><stop offset="0.92" stop-color="#3d9eec"/><stop offset="1" stop-color="#6189ee"/></linearGradient><linearGradient id="g139" gradientUnits="userSpaceOnUse" x1="1144.0" y1="554.9" x2="1165.2" y2="680.0"><stop offset="0" stop-color="#f6dc34"/><stop offset="0.18" stop-color="#e2d650"/><stop offset="0.2" stop-color="#d6c85b"/><stop offset="0.26" stop-color="#8a70a0"/><stop offset="0.42" stop-color="#7263a7"/><stop offset="0.48" stop-color="#5461ad"/><stop offset="0.52" stop-color="#3862b4"/><stop offset="0.58" stop-color="#2663bc"/><stop offset="0.66" stop-color="#2266c6"/><stop offset="0.75" stop-color="#2376d4"/><stop offset="0.8" stop-color="#2388dc"/><stop offset="0.88" stop-color="#2ea0e6"/><stop offset="0.92" stop-color="#3b9feb"/><stop offset="1" stop-color="#5e8bee"/></linearGradient><linearGradient id="g140" gradientUnits="userSpaceOnUse" x1="1150.0" y1="554.1" x2="1171.1" y2="678.8"><stop offset="0" stop-color="#f6dc34"/><stop offset="0.18" stop-color="#e3d64f"/><stop offset="0.2" stop-color="#d8ca59"/><stop offset="0.26" stop-color="#8a70a0"/><stop offset="0.42" stop-color="#7263a7"/><stop offset="0.48" stop-color="#5761ad"/><stop offset="0.52" stop-color="#3a62b3"/><stop offset="0.58" stop-color="#2663bb"/><stop offset="0.66" stop-color="#2367c6"/><stop offset="0.75" stop-color="#2376d4"/><stop offset="0.8" stop-color="#2288db"/><stop offset="0.88" stop-color="#2ba1e5"/><stop offset="0.92" stop-color="#39a0eb"/><stop offset="1" stop-color="#5c8cee"/></linearGradient><linearGradient id="g141" gradientUnits="userSpaceOnUse" x1="1156.0" y1="553.3" x2="1177.1" y2="677.6"><stop offset="0" stop-color="#f6dc34"/><stop offset="0.18" stop-color="#e4d74e"/><stop offset="0.2" stop-color="#dacb57"/><stop offset="0.26" stop-color="#8a70a0"/><stop offset="0.42" stop-color="#7263a7"/><stop offset="0.48" stop-color="#5961ac"/><stop offset="0.52" stop-color="#3d62b3"/><stop offset="0.58" stop-color="#2763bb"/><stop offset="0.66" stop-color="#2367c5"/><stop offset="0.75" stop-color="#2275d3"/><stop offset="0.8" stop-color="#2288da"/><stop offset="0.88" stop-color="#29a3e5"/><stop offset="0.92" stop-color="#37a1ea"/><stop offset="1" stop-color="#5a8dee"/></linearGradient><linearGradient id="g142" gradientUnits="userSpaceOnUse" x1="1162.0" y1="552.4" x2="1183.0" y2="676.4"><stop offset="0" stop-color="#f6dd33"/><stop offset="0.18" stop-color="#e4d74d"/><stop offset="0.2" stop-color="#dccd55"/><stop offset="0.26" stop-color="#8a70a0"/><stop offset="0.42" stop-color="#7263a7"/><stop offset="0.48" stop-color="#5b61ac"/><stop offset="0.52" stop-color="#4062b2"/><stop offset="0.58" stop-color="#2764bb"/><stop offset="0.66" stop-color="#2368c5"/><stop offset="0.75" stop-color="#2274d3"/><stop offset="0.8" stop-color="#2188da"/><stop offset="0.88" stop-color="#27a5e4"/><stop offset="0.92" stop-color="#35a2e9"/><stop offset="1" stop-color="#578fee"/></linearGradient><linearGradient id="g143" gradientUnits="userSpaceOnUse" x1="1168.0" y1="551.6" x2="1193.2" y2="673.2"><stop offset="0" stop-color="#f7dd33"/><stop offset="0.18" stop-color="#e5d74b"/><stop offset="0.2" stop-color="#decf53"/><stop offset="0.26" stop-color="#8a70a0"/><stop offset="0.42" stop-color="#7264a7"/><stop offset="0.48" stop-color="#5e61ab"/><stop offset="0.52" stop-color="#4262b1"/><stop offset="0.58" stop-color="#2864ba"/><stop offset="0.66" stop-color="#2468c5"/><stop offset="0.75" stop-color="#2274d2"/><stop offset="0.8" stop-color="#2088d9"/><stop offset="0.88" stop-color="#24a7e3"/><stop offset="0.92" stop-color="#33a3e9"/><stop offset="1" stop-color="#5590ef"/></linearGradient><linearGradient id="g144" gradientUnits="userSpaceOnUse" x1="1174.0" y1="550.8" x2="1199.0" y2="671.6"><stop offset="0" stop-color="#f7de32"/><stop offset="0.18" stop-color="#e6d84a"/><stop offset="0.2" stop-color="#e0d051"/><stop offset="0.26" stop-color="#8a70a0"/><stop offset="0.42" stop-color="#7364a6"/><stop offset="0.48" stop-color="#6061aa"/><stop offset="0.52" stop-color="#4562b1"/><stop offset="0.58" stop-color="#2864ba"/><stop offset="0.66" stop-color="#2468c5"/><stop offset="0.75" stop-color="#2173d2"/><stop offset="0.8" stop-color="#2088d9"/><stop offset="0.88" stop-color="#22a8e3"/><stop offset="0.92" stop-color="#31a4e8"/><stop offset="1" stop-color="#5292ef"/></linearGradient><linearGradient id="g145" gradientUnits="userSpaceOnUse" x1="1180.0" y1="550.0" x2="1204.8" y2="670.0"><stop offset="0" stop-color="#f7de32"/><stop offset="0.18" stop-color="#e7d849"/><stop offset="0.2" stop-color="#e2d24f"/><stop offset="0.26" stop-color="#8a70a0"/><stop offset="0.42" stop-color="#7364a6"/><stop offset="0.48" stop-color="#6260aa"/><stop offset="0.52" stop-color="#4862b0"/><stop offset="0.58" stop-color="#2864b9"/><stop offset="0.66" stop-color="#2469c4"/><stop offset="0.75" stop-color="#2172d1"/><stop offset="0.8" stop-color="#1f88d8"/><stop offset="0.88" stop-color="#20aae2"/><stop offset="0.92" stop-color="#2fa5e7"/><stop offset="1" stop-color="#5093ef"/></linearGradient><linearGradient id="g146" gradientUnits="userSpaceOnUse" x1="1186.0" y1="549.1" x2="1210.7" y2="668.4"><stop offset="0" stop-color="#f7df31"/><stop offset="0.18" stop-color="#e8d848"/><stop offset="0.2" stop-color="#e3d44d"/><stop offset="0.26" stop-color="#8a70a0"/><stop offset="0.42" stop-color="#7364a6"/><stop offset="0.48" stop-color="#6560a9"/><stop offset="0.52" stop-color="#4a62b0"/><stop offset="0.58" stop-color="#2964b9"/><stop offset="0.66" stop-color="#2569c4"/><stop offset="0.75" stop-color="#2172d1"/><stop offset="0.8" stop-color="#1e89d8"/><stop offset="0.88" stop-color="#1dace1"/><stop offset="0.92" stop-color="#2da6e7"/><stop offset="1" stop-color="#4e95ef"/></linearGradient><linearGradient id="g147" gradientUnits="userSpaceOnUse" x1="1192.0" y1="548.3" x2="1216.6" y2="666.7"><stop offset="0" stop-color="#f8df31"/><stop offset="0.18" stop-color="#e9d847"/><stop offset="0.2" stop-color="#e5d64b"/><stop offset="0.26" stop-color="#8a70a0"/><stop offset="0.42" stop-color="#7364a6"/><stop offset="0.48" stop-color="#6760a9"/><stop offset="0.52" stop-color="#4d62af"/><stop offset="0.58" stop-color="#2964b9"/><stop offset="0.66" stop-color="#2569c4"/><stop offset="0.75" stop-color="#2071d1"/><stop offset="0.8" stop-color="#1e89d7"/><stop offset="0.88" stop-color="#1baee1"/><stop offset="0.92" stop-color="#2ba7e6"/><stop offset="1" stop-color="#4b96f0"/></linearGradient><linearGradient id="g148" gradientUnits="userSpaceOnUse" x1="1198.0" y1="547.4" x2="1223.1" y2="664.8"><stop offset="0" stop-color="#f8e030"/><stop offset="0.18" stop-color="#e9d946"/><stop offset="0.2" stop-color="#e7d749"/><stop offset="0.26" stop-color="#8a70a0"/><stop offset="0.42" stop-color="#7364a6"/><stop offset="0.48" stop-color="#6960a8"/><stop offset="0.52" stop-color="#5062af"/><stop offset="0.58" stop-color="#2a64b8"/><stop offset="0.66" stop-color="#256ac3"/><stop offset="0.75" stop-color="#2070d0"/><stop offset="0.8" stop-color="#1d89d6"/><stop offset="0.88" stop-color="#19afe0"/><stop offset="0.92" stop-color="#29a8e6"/><stop offset="1" stop-color="#4998f0"/></linearGradient><linearGradient id="g149" gradientUnits="userSpaceOnUse" x1="1204.0" y1="546.5" x2="1228.9" y2="663.2"><stop offset="0" stop-color="#f8e030"/><stop offset="0.2" stop-color="#e8d848"/><stop offset="0.26" stop-color="#8b729f"/><stop offset="0.3" stop-color="#846da1"/><stop offset="0.48" stop-color="#6a60a8"/><stop offset="0.5" stop-color="#5e61ab"/><stop offset="0.58" stop-color="#2b64b8"/><stop offset="0.6" stop-color="#2966bb"/><stop offset="0.72" stop-color="#226fcc"/><stop offset="0.75" stop-color="#2072d0"/><stop offset="0.85" stop-color="#1aa2db"/><stop offset="0.88" stop-color="#19b0df"/><stop offset="1" stop-color="#4898f0"/></linearGradient><linearGradient id="g150" gradientUnits="userSpaceOnUse" x1="1210.0" y1="545.6" x2="1234.8" y2="661.6"><stop offset="0" stop-color="#f8e02f"/><stop offset="0.2" stop-color="#e7d848"/><stop offset="0.26" stop-color="#8d749c"/><stop offset="0.3" stop-color="#856ea1"/><stop offset="0.48" stop-color="#6a61a8"/><stop offset="0.5" stop-color="#5e61ab"/><stop offset="0.58" stop-color="#2b64b8"/><stop offset="0.6" stop-color="#2966bb"/><stop offset="0.72" stop-color="#2271cc"/><stop offset="0.75" stop-color="#2074d0"/><stop offset="0.85" stop-color="#1aa4da"/><stop offset="0.88" stop-color="#19b1de"/><stop offset="1" stop-color="#4799f0"/></linearGradient><linearGradient id="g151" gradientUnits="userSpaceOnUse" x1="1216.0" y1="544.7" x2="1240.6" y2="659.9"><stop offset="0" stop-color="#f8e02e"/><stop offset="0.2" stop-color="#e7d848"/><stop offset="0.26" stop-color="#90779a"/><stop offset="0.3" stop-color="#856ea1"/><stop offset="0.48" stop-color="#6b61a8"/><stop offset="0.5" stop-color="#5f62ab"/><stop offset="0.58" stop-color="#2c65b9"/><stop offset="0.6" stop-color="#2966bc"/><stop offset="0.72" stop-color="#2173cc"/><stop offset="0.75" stop-color="#2077d0"/><stop offset="0.85" stop-color="#1ba6d9"/><stop offset="0.88" stop-color="#1ab2dd"/><stop offset="1" stop-color="#4799f0"/></linearGradient><linearGradient id="g152" gradientUnits="userSpaceOnUse" x1="1222.0" y1="543.8" x2="1245.9" y2="658.5"><stop offset="0" stop-color="#f8e02d"/><stop offset="0.2" stop-color="#e6d848"/><stop offset="0.26" stop-color="#927a98"/><stop offset="0.3" stop-color="#856fa1"/><stop offset="0.48" stop-color="#6b62a8"/><stop offset="0.5" stop-color="#6062aa"/><stop offset="0.58" stop-color="#2d65b9"/><stop offset="0.6" stop-color="#2966bc"/><stop offset="0.72" stop-color="#2175cd"/><stop offset="0.75" stop-color="#2079d0"/><stop offset="0.85" stop-color="#1ba8d8"/><stop offset="0.88" stop-color="#1bb2dc"/><stop offset="1" stop-color="#469af0"/></linearGradient><linearGradient id="g153" gradientUnits="userSpaceOnUse" x1="1228.0" y1="542.9" x2="1251.8" y2="657.0"><stop offset="0" stop-color="#f8e02d"/><stop offset="0.2" stop-color="#e6d848"/><stop offset="0.26" stop-color="#947c96"/><stop offset="0.3" stop-color="#866fa1"/><stop offset="0.48" stop-color="#6b62a8"/><stop offset="0.5" stop-color="#6162aa"/><stop offset="0.58" stop-color="#2e65b9"/><stop offset="0.6" stop-color="#2966bc"/><stop offset="0.72" stop-color="#2177cd"/><stop offset="0.75" stop-color="#207ccf"/><stop offset="0.85" stop-color="#1caad7"/><stop offset="0.88" stop-color="#1cb3dc"/><stop offset="1" stop-color="#469af0"/></linearGradient><linearGradient id="g154" gradientUnits="userSpaceOnUse" x1="1234.0" y1="542.0" x2="1257.7" y2="655.4"><stop offset="0" stop-color="#f8e02c"/><stop offset="0.2" stop-color="#e5d848"/><stop offset="0.26" stop-color="#967f94"/><stop offset="0.3" stop-color="#866fa1"/><stop offset="0.48" stop-color="#6b63a8"/><stop offset="0.5" stop-color="#6263aa"/><stop offset="0.58" stop-color="#2e65b9"/><stop offset="0.6" stop-color="#2966bd"/><stop offset="0.72" stop-color="#2179cd"/><stop offset="0.75" stop-color="#207fcf"/><stop offset="0.85" stop-color="#1cacd5"/><stop offset="0.88" stop-color="#1db3db"/><stop offset="1" stop-color="#459bf0"/></linearGradient><linearGradient id="g155" gradientUnits="userSpaceOnUse" x1="1240.0" y1="541.1" x2="1263.5" y2="653.8"><stop offset="0" stop-color="#f8e02b"/><stop offset="0.2" stop-color="#e5d848"/><stop offset="0.26" stop-color="#988292"/><stop offset="0.3" stop-color="#8770a1"/><stop offset="0.48" stop-color="#6b63a8"/><stop offset="0.5" stop-color="#6263aa"/><stop offset="0.58" stop-color="#2f65b9"/><stop offset="0.6" stop-color="#2966bd"/><stop offset="0.72" stop-color="#217ccd"/><stop offset="0.75" stop-color="#2081cf"/><stop offset="0.85" stop-color="#1caed4"/><stop offset="0.88" stop-color="#1eb4da"/><stop offset="1" stop-color="#459bf0"/></linearGradient><linearGradient id="g156" gradientUnits="userSpaceOnUse" x1="1246.0" y1="540.2" x2="1269.4" y2="652.3"><stop offset="0" stop-color="#f8e02a"/><stop offset="0.2" stop-color="#e4d848"/><stop offset="0.26" stop-color="#9a8490"/><stop offset="0.3" stop-color="#8770a1"/><stop offset="0.48" stop-color="#6b63a8"/><stop offset="0.5" stop-color="#6363aa"/><stop offset="0.58" stop-color="#3066b9"/><stop offset="0.6" stop-color="#2967bd"/><stop offset="0.72" stop-color="#217ece"/><stop offset="0.75" stop-color="#2084cf"/><stop offset="0.85" stop-color="#1dafd3"/><stop offset="0.88" stop-color="#1fb4d9"/><stop offset="1" stop-color="#449cf0"/></linearGradient><linearGradient id="g157" gradientUnits="userSpaceOnUse" x1="1252.0" y1="539.4" x2="1272.7" y2="651.7"><stop offset="0" stop-color="#f8e02a"/><stop offset="0.2" stop-color="#e4d848"/><stop offset="0.26" stop-color="#9c878e"/><stop offset="0.3" stop-color="#8771a1"/><stop offset="0.48" stop-color="#6c64a8"/><stop offset="0.5" stop-color="#6464aa"/><stop offset="0.58" stop-color="#3166ba"/><stop offset="0.6" stop-color="#2967be"/><stop offset="0.72" stop-color="#2180ce"/><stop offset="0.75" stop-color="#2086cf"/><stop offset="0.85" stop-color="#1db1d2"/><stop offset="0.88" stop-color="#1fb5d8"/><stop offset="1" stop-color="#449cf0"/></linearGradient><linearGradient id="g158" gradientUnits="userSpaceOnUse" x1="1258.0" y1="538.8" x2="1278.5" y2="650.1"><stop offset="0" stop-color="#f8e029"/><stop offset="0.2" stop-color="#e3d848"/><stop offset="0.26" stop-color="#9e8a8c"/><stop offset="0.3" stop-color="#8871a1"/><stop offset="0.48" stop-color="#6c64a8"/><stop offset="0.5" stop-color="#6564a9"/><stop offset="0.58" stop-color="#3166ba"/><stop offset="0.6" stop-color="#2a67be"/><stop offset="0.72" stop-color="#2182ce"/><stop offset="0.75" stop-color="#2089cf"/><stop offset="0.85" stop-color="#1db3d1"/><stop offset="0.88" stop-color="#20b6d7"/><stop offset="1" stop-color="#439df0"/></linearGradient><linearGradient id="g159" gradientUnits="userSpaceOnUse" x1="1264.0" y1="538.2" x2="1281.2" y2="649.8"><stop offset="0" stop-color="#f8e028"/><stop offset="0.2" stop-color="#e3d848"/><stop offset="0.26" stop-color="#a08c89"/><stop offset="0.3" stop-color="#8872a1"/><stop offset="0.48" stop-color="#6c65a7"/><stop offset="0.5" stop-color="#6564a9"/><stop offset="0.58" stop-color="#3266ba"/><stop offset="0.6" stop-color="#2a67be"/><stop offset="0.72" stop-color="#2184ce"/><stop offset="0.75" stop-color="#208ccf"/><stop offset="0.85" stop-color="#1eb5cf"/><stop offset="0.88" stop-color="#21b6d6"/><stop offset="1" stop-color="#439df0"/></linearGradient><linearGradient id="g160" gradientUnits="userSpaceOnUse" x1="1270.0" y1="537.6" x2="1287.1" y2="648.5"><stop offset="0" stop-color="#f8e028"/><stop offset="0.2" stop-color="#e2d848"/><stop offset="0.26" stop-color="#a28f87"/><stop offset="0.3" stop-color="#8872a0"/><stop offset="0.48" stop-color="#6c65a7"/><stop offset="0.5" stop-color="#6664a9"/><stop offset="0.58" stop-color="#3367ba"/><stop offset="0.6" stop-color="#2a67be"/><stop offset="0.72" stop-color="#2186cf"/><stop offset="0.75" stop-color="#208ecf"/><stop offset="0.85" stop-color="#1eb7ce"/><stop offset="0.88" stop-color="#22b7d5"/><stop offset="1" stop-color="#429ef0"/></linearGradient><linearGradient id="g161" gradientUnits="userSpaceOnUse" x1="1276.0" y1="537.0" x2="1293.0" y2="647.3"><stop offset="0" stop-color="#f8e027"/><stop offset="0.2" stop-color="#e2d848"/><stop offset="0.26" stop-color="#a49185"/><stop offset="0.3" stop-color="#8972a0"/><stop offset="0.48" stop-color="#6c66a7"/><stop offset="0.5" stop-color="#6765a9"/><stop offset="0.58" stop-color="#3467ba"/><stop offset="0.6" stop-color="#2a67bf"/><stop offset="0.72" stop-color="#2088cf"/><stop offset="0.75" stop-color="#2091cf"/><stop offset="0.85" stop-color="#1fb9cd"/><stop offset="0.88" stop-color="#23b7d4"/><stop offset="1" stop-color="#429ef0"/></linearGradient><linearGradient id="g162" gradientUnits="userSpaceOnUse" x1="1282.0" y1="536.3" x2="1298.9" y2="646.1"><stop offset="0" stop-color="#f8e026"/><stop offset="0.2" stop-color="#e1d848"/><stop offset="0.26" stop-color="#a69483"/><stop offset="0.3" stop-color="#8973a0"/><stop offset="0.48" stop-color="#6d66a7"/><stop offset="0.5" stop-color="#6865a9"/><stop offset="0.58" stop-color="#3467bb"/><stop offset="0.6" stop-color="#2a68bf"/><stop offset="0.72" stop-color="#208acf"/><stop offset="0.75" stop-color="#2093ce"/><stop offset="0.85" stop-color="#1fbacc"/><stop offset="0.88" stop-color="#24b8d3"/><stop offset="1" stop-color="#419ff0"/></linearGradient><linearGradient id="g163" gradientUnits="userSpaceOnUse" x1="1288.0" y1="535.7" x2="1304.8" y2="644.9"><stop offset="0" stop-color="#f8e025"/><stop offset="0.2" stop-color="#e1d848"/><stop offset="0.26" stop-color="#a89781"/><stop offset="0.3" stop-color="#8973a0"/><stop offset="0.48" stop-color="#6d67a7"/><stop offset="0.5" stop-color="#6865a8"/><stop offset="0.58" stop-color="#3567bb"/><stop offset="0.6" stop-color="#2a68bf"/><stop offset="0.72" stop-color="#208ccf"/><stop offset="0.75" stop-color="#2096ce"/><stop offset="0.85" stop-color="#1fbcca"/><stop offset="0.88" stop-color="#25b8d2"/><stop offset="1" stop-color="#419ff0"/></linearGradient><linearGradient id="g164" gradientUnits="userSpaceOnUse" x1="1294.0" y1="535.1" x2="1310.7" y2="643.7"><stop offset="0" stop-color="#f8e025"/><stop offset="0.2" stop-color="#e0d848"/><stop offset="0.26" stop-color="#aa997f"/><stop offset="0.3" stop-color="#8a74a0"/><stop offset="0.48" stop-color="#6d67a7"/><stop offset="0.5" stop-color="#6966a8"/><stop offset="0.58" stop-color="#3667bb"/><stop offset="0.6" stop-color="#2a68c0"/><stop offset="0.72" stop-color="#208ed0"/><stop offset="0.75" stop-color="#2098ce"/><stop offset="0.85" stop-color="#20bec9"/><stop offset="0.88" stop-color="#26b9d1"/><stop offset="1" stop-color="#40a0f0"/></linearGradient><linearGradient id="g165" gradientUnits="userSpaceOnUse" x1="1300.0" y1="534.5" x2="1317.7" y2="642.1"><stop offset="0" stop-color="#f8e024"/><stop offset="0.15" stop-color="#e6da3f"/><stop offset="0.2" stop-color="#e0d848"/><stop offset="0.3" stop-color="#8a74a0"/><stop offset="0.35" stop-color="#8270a2"/><stop offset="0.5" stop-color="#6a66a8"/><stop offset="0.55" stop-color="#4a67b4"/><stop offset="0.6" stop-color="#2a68c0"/><stop offset="0.7" stop-color="#2289cd"/><stop offset="0.72" stop-color="#2090d0"/><stop offset="0.85" stop-color="#20c0c8"/><stop offset="0.88" stop-color="#26bad0"/><stop offset="1" stop-color="#40a0f0"/></linearGradient><linearGradient id="g166" gradientUnits="userSpaceOnUse" x1="1306.0" y1="534.2" x2="1324.5" y2="640.0"><stop offset="0" stop-color="#f8e024"/><stop offset="0.15" stop-color="#e6da3f"/><stop offset="0.2" stop-color="#e0d847"/><stop offset="0.3" stop-color="#8e7a9b"/><stop offset="0.35" stop-color="#86769d"/><stop offset="0.5" stop-color="#6b6ca6"/><stop offset="0.55" stop-color="#4b6db2"/><stop offset="0.6" stop-color="#2c6ebe"/><stop offset="0.7" stop-color="#228ecb"/><stop offset="0.72" stop-color="#2094ce"/><stop offset="0.85" stop-color="#1fc0c8"/><stop offset="0.88" stop-color="#25bad0"/><stop offset="1" stop-color="#3fa0f0"/></linearGradient><linearGradient id="g167" gradientUnits="userSpaceOnUse" x1="1312.0" y1="533.9" x2="1330.2" y2="638.2"><stop offset="0" stop-color="#f8e024"/><stop offset="0.15" stop-color="#e6da3e"/><stop offset="0.2" stop-color="#e0d847"/><stop offset="0.3" stop-color="#927f96"/><stop offset="0.35" stop-color="#897c98"/><stop offset="0.5" stop-color="#6c72a3"/><stop offset="0.55" stop-color="#4d73b0"/><stop offset="0.6" stop-color="#2e74bb"/><stop offset="0.7" stop-color="#2192c9"/><stop offset="0.72" stop-color="#2097cc"/><stop offset="0.85" stop-color="#1ec0c9"/><stop offset="0.88" stop-color="#24bad1"/><stop offset="1" stop-color="#3ea1f0"/></linearGradient><linearGradient id="g168" gradientUnits="userSpaceOnUse" x1="1318.0" y1="533.6" x2="1336.0" y2="636.5"><stop offset="0" stop-color="#f8e023"/><stop offset="0.15" stop-color="#e6da3e"/><stop offset="0.2" stop-color="#e0d846"/><stop offset="0.3" stop-color="#968591"/><stop offset="0.35" stop-color="#8d8293"/><stop offset="0.5" stop-color="#6d78a1"/><stop offset="0.55" stop-color="#4e78ae"/><stop offset="0.6" stop-color="#307ab9"/><stop offset="0.7" stop-color="#2196c7"/><stop offset="0.72" stop-color="#209bca"/><stop offset="0.85" stop-color="#1ec0c9"/><stop offset="0.88" stop-color="#22bbd1"/><stop offset="1" stop-color="#3da1f0"/></linearGradient><linearGradient id="g169" gradientUnits="userSpaceOnUse" x1="1324.0" y1="533.3" x2="1341.7" y2="634.7"><stop offset="0" stop-color="#f8e023"/><stop offset="0.15" stop-color="#e6da3d"/><stop offset="0.2" stop-color="#e0d846"/><stop offset="0.3" stop-color="#998b8b"/><stop offset="0.35" stop-color="#91878e"/><stop offset="0.5" stop-color="#6d7e9e"/><stop offset="0.55" stop-color="#4f7eab"/><stop offset="0.6" stop-color="#3280b6"/><stop offset="0.7" stop-color="#219ac4"/><stop offset="0.72" stop-color="#209fc8"/><stop offset="0.85" stop-color="#1dc1ca"/><stop offset="0.88" stop-color="#21bbd2"/><stop offset="1" stop-color="#3ca2f0"/></linearGradient><linearGradient id="g170" gradientUnits="userSpaceOnUse" x1="1330.0" y1="533.0" x2="1347.5" y2="633.0"><stop offset="0" stop-color="#f8e023"/><stop offset="0.15" stop-color="#e7d93d"/><stop offset="0.2" stop-color="#dfd745"/><stop offset="0.3" stop-color="#9d9086"/><stop offset="0.35" stop-color="#958d89"/><stop offset="0.5" stop-color="#6e849c"/><stop offset="0.55" stop-color="#5184a9"/><stop offset="0.6" stop-color="#3486b4"/><stop offset="0.7" stop-color="#219fc2"/><stop offset="0.72" stop-color="#1fa3c6"/><stop offset="0.85" stop-color="#1cc1ca"/><stop offset="0.88" stop-color="#20bcd2"/><stop offset="1" stop-color="#3ba2f0"/></linearGradient><linearGradient id="g171" gradientUnits="userSpaceOnUse" x1="1336.0" y1="532.6" x2="1353.2" y2="631.2"><stop offset="0" stop-color="#f8e023"/><stop offset="0.15" stop-color="#e7d93c"/><stop offset="0.2" stop-color="#dfd744"/><stop offset="0.3" stop-color="#a19681"/><stop offset="0.35" stop-color="#989384"/><stop offset="0.5" stop-color="#6f8a9a"/><stop offset="0.55" stop-color="#528aa7"/><stop offset="0.6" stop-color="#368cb2"/><stop offset="0.7" stop-color="#21a3c0"/><stop offset="0.72" stop-color="#1fa6c4"/><stop offset="0.85" stop-color="#1bc1cb"/><stop offset="0.88" stop-color="#1ebcd3"/><stop offset="1" stop-color="#3aa3f0"/></linearGradient><linearGradient id="g172" gradientUnits="userSpaceOnUse" x1="1342.0" y1="532.3" x2="1359.0" y2="629.5"><stop offset="0" stop-color="#f8e022"/><stop offset="0.15" stop-color="#e7d93c"/><stop offset="0.2" stop-color="#dfd744"/><stop offset="0.3" stop-color="#a59b7c"/><stop offset="0.35" stop-color="#9c9980"/><stop offset="0.5" stop-color="#709097"/><stop offset="0.55" stop-color="#5390a5"/><stop offset="0.6" stop-color="#3891af"/><stop offset="0.7" stop-color="#21a7be"/><stop offset="0.72" stop-color="#1faac1"/><stop offset="0.85" stop-color="#1ac1cb"/><stop offset="0.88" stop-color="#1dbcd3"/><stop offset="1" stop-color="#39a3f0"/></linearGradient><linearGradient id="g173" gradientUnits="userSpaceOnUse" x1="1348.0" y1="532.1" x2="1363.1" y2="628.3"><stop offset="0" stop-color="#f8e022"/><stop offset="0.15" stop-color="#e7d93c"/><stop offset="0.2" stop-color="#dfd743"/><stop offset="0.3" stop-color="#a9a177"/><stop offset="0.35" stop-color="#a09e7b"/><stop offset="0.5" stop-color="#719695"/><stop offset="0.55" stop-color="#5596a3"/><stop offset="0.6" stop-color="#3a97ad"/><stop offset="0.7" stop-color="#21abbb"/><stop offset="0.72" stop-color="#1faebf"/><stop offset="0.85" stop-color="#1ac1cc"/><stop offset="0.88" stop-color="#1cbdd4"/><stop offset="1" stop-color="#38a4f0"/></linearGradient><linearGradient id="g174" gradientUnits="userSpaceOnUse" x1="1354.0" y1="532.0" x2="1368.8" y2="626.6"><stop offset="0" stop-color="#f8e022"/><stop offset="0.15" stop-color="#e7d93b"/><stop offset="0.2" stop-color="#dfd743"/><stop offset="0.3" stop-color="#ada772"/><stop offset="0.35" stop-color="#a3a476"/><stop offset="0.5" stop-color="#729c92"/><stop offset="0.55" stop-color="#569ba1"/><stop offset="0.6" stop-color="#3c9daa"/><stop offset="0.7" stop-color="#21afb9"/><stop offset="0.72" stop-color="#1fb2bd"/><stop offset="0.85" stop-color="#19c1cc"/><stop offset="0.88" stop-color="#1abdd4"/><stop offset="1" stop-color="#37a4f0"/></linearGradient><linearGradient id="g175" gradientUnits="userSpaceOnUse" x1="1360.0" y1="531.9" x2="1377.8" y2="623.5"><stop offset="0" stop-color="#f8e022"/><stop offset="0.15" stop-color="#e7d93b"/><stop offset="0.2" stop-color="#dfd742"/><stop offset="0.3" stop-color="#b0ac6c"/><stop offset="0.35" stop-color="#a7aa71"/><stop offset="0.5" stop-color="#72a290"/><stop offset="0.55" stop-color="#57a19e"/><stop offset="0.6" stop-color="#3ea3a8"/><stop offset="0.7" stop-color="#21b4b7"/><stop offset="0.72" stop-color="#1fb5bb"/><stop offset="0.85" stop-color="#18c2cd"/><stop offset="0.88" stop-color="#19bdd5"/><stop offset="1" stop-color="#36a5f0"/></linearGradient><linearGradient id="g176" gradientUnits="userSpaceOnUse" x1="1366.0" y1="531.8" x2="1383.4" y2="621.3"><stop offset="0" stop-color="#f8e021"/><stop offset="0.15" stop-color="#e7d93a"/><stop offset="0.2" stop-color="#dfd741"/><stop offset="0.3" stop-color="#b4b267"/><stop offset="0.35" stop-color="#abb06c"/><stop offset="0.5" stop-color="#73a88e"/><stop offset="0.55" stop-color="#59a79c"/><stop offset="0.6" stop-color="#40a9a6"/><stop offset="0.7" stop-color="#21b8b5"/><stop offset="0.72" stop-color="#1fb9b9"/><stop offset="0.85" stop-color="#17c2cd"/><stop offset="0.88" stop-color="#18bed5"/><stop offset="1" stop-color="#35a5f0"/></linearGradient><linearGradient id="g177" gradientUnits="userSpaceOnUse" x1="1372.0" y1="531.7" x2="1389.0" y2="619.2"><stop offset="0" stop-color="#f8e021"/><stop offset="0.15" stop-color="#e7d93a"/><stop offset="0.2" stop-color="#dfd741"/><stop offset="0.3" stop-color="#b8b862"/><stop offset="0.35" stop-color="#afb567"/><stop offset="0.5" stop-color="#74ae8b"/><stop offset="0.55" stop-color="#5aad9a"/><stop offset="0.6" stop-color="#42afa3"/><stop offset="0.7" stop-color="#20bcb2"/><stop offset="0.72" stop-color="#1fbdb7"/><stop offset="0.85" stop-color="#16c2ce"/><stop offset="0.88" stop-color="#16bed6"/><stop offset="1" stop-color="#34a6f0"/></linearGradient><linearGradient id="g178" gradientUnits="userSpaceOnUse" x1="1378.0" y1="531.6" x2="1394.6" y2="617.0"><stop offset="0" stop-color="#f8e021"/><stop offset="0.15" stop-color="#e8d83a"/><stop offset="0.2" stop-color="#ded640"/><stop offset="0.3" stop-color="#bcbd5d"/><stop offset="0.35" stop-color="#b2bb62"/><stop offset="0.5" stop-color="#75b489"/><stop offset="0.55" stop-color="#5bb398"/><stop offset="0.6" stop-color="#43b5a1"/><stop offset="0.7" stop-color="#20c0b0"/><stop offset="0.72" stop-color="#1fc1b5"/><stop offset="0.85" stop-color="#16c2ce"/><stop offset="0.88" stop-color="#15bfd6"/><stop offset="1" stop-color="#34a6f0"/></linearGradient><linearGradient id="g179" gradientUnits="userSpaceOnUse" x1="1384.0" y1="531.5" x2="1400.2" y2="614.9"><stop offset="0" stop-color="#f8e021"/><stop offset="0.15" stop-color="#e8d839"/><stop offset="0.2" stop-color="#ded640"/><stop offset="0.3" stop-color="#c0c358"/><stop offset="0.35" stop-color="#b6c15d"/><stop offset="0.5" stop-color="#76ba86"/><stop offset="0.55" stop-color="#5cb896"/><stop offset="0.6" stop-color="#45bb9e"/><stop offset="0.7" stop-color="#20c5ae"/><stop offset="0.72" stop-color="#1fc4b3"/><stop offset="0.85" stop-color="#15c2cf"/><stop offset="0.88" stop-color="#14bfd7"/><stop offset="1" stop-color="#33a7f0"/></linearGradient><linearGradient id="g180" gradientUnits="userSpaceOnUse" x1="1390.0" y1="531.4" x2="1405.8" y2="612.7"><stop offset="0" stop-color="#f8e020"/><stop offset="0.15" stop-color="#e8d839"/><stop offset="0.2" stop-color="#ded63f"/><stop offset="0.3" stop-color="#c4c953"/><stop offset="0.35" stop-color="#bac658"/><stop offset="0.5" stop-color="#77c084"/><stop offset="0.55" stop-color="#5ebe94"/><stop offset="0.6" stop-color="#47c19c"/><stop offset="0.7" stop-color="#20c9ac"/><stop offset="0.72" stop-color="#1ec8b1"/><stop offset="0.85" stop-color="#14c2cf"/><stop offset="0.88" stop-color="#12bfd7"/><stop offset="1" stop-color="#32a7f0"/></linearGradient><linearGradient id="g181" gradientUnits="userSpaceOnUse" x1="1396.0" y1="531.3" x2="1411.4" y2="610.6"><stop offset="0" stop-color="#f8e020"/><stop offset="0.15" stop-color="#e8d838"/><stop offset="0.2" stop-color="#ded63e"/><stop offset="0.3" stop-color="#c7ce4d"/><stop offset="0.35" stop-color="#becc53"/><stop offset="0.5" stop-color="#77c682"/><stop offset="0.55" stop-color="#5fc491"/><stop offset="0.6" stop-color="#49c79a"/><stop offset="0.7" stop-color="#20cda9"/><stop offset="0.72" stop-color="#1eccaf"/><stop offset="0.85" stop-color="#13c3d0"/><stop offset="0.88" stop-color="#11c0d8"/><stop offset="1" stop-color="#31a8f0"/></linearGradient><linearGradient id="g182" gradientUnits="userSpaceOnUse" x1="1402.0" y1="531.2" x2="1417.0" y2="608.4"><stop offset="0" stop-color="#f7e021"/><stop offset="0.15" stop-color="#e6d839"/><stop offset="0.35" stop-color="#bed051"/><stop offset="0.5" stop-color="#76ca81"/><stop offset="0.55" stop-color="#5fc891"/><stop offset="0.7" stop-color="#20d0a8"/><stop offset="0.88" stop-color="#11c0d7"/><stop offset="1" stop-color="#30a9ef"/></linearGradient><linearGradient id="g183" gradientUnits="userSpaceOnUse" x1="1408.0" y1="531.1" x2="1425.4" y2="604.7"><stop offset="0" stop-color="#f5df23"/><stop offset="0.15" stop-color="#e2d83c"/><stop offset="0.35" stop-color="#b6d055"/><stop offset="0.5" stop-color="#70cb83"/><stop offset="0.55" stop-color="#5bc992"/><stop offset="0.7" stop-color="#21cfa9"/><stop offset="0.88" stop-color="#12c0d6"/><stop offset="1" stop-color="#2eabed"/></linearGradient><linearGradient id="g184" gradientUnits="userSpaceOnUse" x1="1414.0" y1="531.0" x2="1430.8" y2="602.1"><stop offset="0" stop-color="#f4df26"/><stop offset="0.15" stop-color="#ddd83f"/><stop offset="0.35" stop-color="#afd05a"/><stop offset="0.5" stop-color="#6bcb86"/><stop offset="0.55" stop-color="#57c994"/><stop offset="0.7" stop-color="#22cfaa"/><stop offset="0.88" stop-color="#14c1d4"/><stop offset="1" stop-color="#2dacea"/></linearGradient><linearGradient id="g185" gradientUnits="userSpaceOnUse" x1="1420.0" y1="531.1" x2="1434.7" y2="600.2"><stop offset="0" stop-color="#f2de29"/><stop offset="0.15" stop-color="#d8d742"/><stop offset="0.35" stop-color="#a8d15e"/><stop offset="0.5" stop-color="#65cc89"/><stop offset="0.55" stop-color="#53ca96"/><stop offset="0.7" stop-color="#23ceab"/><stop offset="0.88" stop-color="#15c1d3"/><stop offset="1" stop-color="#2caee7"/></linearGradient><linearGradient id="g186" gradientUnits="userSpaceOnUse" x1="1426.0" y1="531.3" x2="1440.1" y2="597.6"><stop offset="0" stop-color="#f0dd2b"/><stop offset="0.15" stop-color="#d3d745"/><stop offset="0.35" stop-color="#a0d162"/><stop offset="0.5" stop-color="#5fcc8b"/><stop offset="0.55" stop-color="#4fca97"/><stop offset="0.7" stop-color="#23ceac"/><stop offset="0.88" stop-color="#17c1d1"/><stop offset="1" stop-color="#2ab0e5"/></linearGradient><linearGradient id="g187" gradientUnits="userSpaceOnUse" x1="1432.0" y1="531.5" x2="1445.5" y2="595.0"><stop offset="0" stop-color="#eedd2e"/><stop offset="0.15" stop-color="#ced748"/><stop offset="0.35" stop-color="#99d166"/><stop offset="0.5" stop-color="#59cd8e"/><stop offset="0.55" stop-color="#4bcb99"/><stop offset="0.7" stop-color="#24cdad"/><stop offset="0.88" stop-color="#18c2d0"/><stop offset="1" stop-color="#29b2e2"/></linearGradient><linearGradient id="g188" gradientUnits="userSpaceOnUse" x1="1438.0" y1="531.7" x2="1450.9" y2="592.4"><stop offset="0" stop-color="#ecdc30"/><stop offset="0.15" stop-color="#c9d74b"/><stop offset="0.35" stop-color="#92d16a"/><stop offset="0.5" stop-color="#54cd90"/><stop offset="0.55" stop-color="#47cb9b"/><stop offset="0.7" stop-color="#25cdae"/><stop offset="0.88" stop-color="#1ac2ce"/><stop offset="1" stop-color="#28b4e0"/></linearGradient><linearGradient id="g189" gradientUnits="userSpaceOnUse" x1="1444.0" y1="531.9" x2="1456.3" y2="589.8"><stop offset="0" stop-color="#eadb33"/><stop offset="0.15" stop-color="#c4d74e"/><stop offset="0.35" stop-color="#8ad16e"/><stop offset="0.5" stop-color="#4ece93"/><stop offset="0.55" stop-color="#43cc9c"/><stop offset="0.7" stop-color="#26ccaf"/><stop offset="0.88" stop-color="#1cc2cd"/><stop offset="1" stop-color="#27b6dd"/></linearGradient><linearGradient id="g190" gradientUnits="userSpaceOnUse" x1="1450.0" y1="532.1" x2="1461.7" y2="587.2"><stop offset="0" stop-color="#e8db35"/><stop offset="0.15" stop-color="#bfd651"/><stop offset="0.35" stop-color="#83d272"/><stop offset="0.5" stop-color="#48ce95"/><stop offset="0.55" stop-color="#3fcc9e"/><stop offset="0.7" stop-color="#26ccaf"/><stop offset="0.88" stop-color="#1dc3cb"/><stop offset="1" stop-color="#25b8db"/></linearGradient><linearGradient id="g191" gradientUnits="userSpaceOnUse" x1="1456.0" y1="534.6" x2="1466.9" y2="581.7"><stop offset="0" stop-color="#e6da38"/><stop offset="0.15" stop-color="#bbd653"/><stop offset="0.35" stop-color="#7cd276"/><stop offset="0.5" stop-color="#42ce98"/><stop offset="0.55" stop-color="#3bcda0"/><stop offset="0.7" stop-color="#27cbb0"/><stop offset="0.88" stop-color="#1fc3c9"/><stop offset="1" stop-color="#24bad8"/></linearGradient><linearGradient id="g192" gradientUnits="userSpaceOnUse" x1="1462.0" y1="537.8" x2="1470.8" y2="576.2"><stop offset="0" stop-color="#e4d93a"/><stop offset="0.15" stop-color="#b6d656"/><stop offset="0.35" stop-color="#75d27a"/><stop offset="0.5" stop-color="#3ccf9a"/><stop offset="0.55" stop-color="#37cda1"/><stop offset="0.7" stop-color="#28cbb1"/><stop offset="0.88" stop-color="#20c3c8"/><stop offset="1" stop-color="#23bcd6"/></linearGradient><linearGradient id="g193" gradientUnits="userSpaceOnUse" x1="1468.0" y1="544.0" x2="1454.2" y2="560.7"><stop offset="0" stop-color="#e2d93d"/><stop offset="0.15" stop-color="#b1d659"/><stop offset="0.35" stop-color="#6dd27e"/><stop offset="0.5" stop-color="#37cf9d"/><stop offset="0.55" stop-color="#33cea3"/><stop offset="0.7" stop-color="#29cab2"/><stop offset="0.88" stop-color="#22c3c6"/><stop offset="1" stop-color="#21bed3"/></linearGradient><linearGradient id="g194" gradientUnits="userSpaceOnUse" x1="1473.0" y1="557.3" x2="1469.4" y2="564.7"><stop offset="0" stop-color="#e1d83f"/><stop offset="0.15" stop-color="#add65c"/><stop offset="0.35" stop-color="#67d282"/><stop offset="0.5" stop-color="#32d09f"/><stop offset="0.55" stop-color="#30cea4"/><stop offset="0.7" stop-color="#29cab3"/><stop offset="0.88" stop-color="#23c4c5"/><stop offset="1" stop-color="#20bfd1"/></linearGradient><clipPath id="sclip"><polygon points="307.0,821.0 314.0,819.8 347.0,802.3 367.0,792.2 393.0,780.2 437.0,762.8 467.0,749.9 500.0,740.7 518.0,735.2 555.0,722.3 580.0,713.0 658.5,690.2 700.0,680.0 737.0,668.7 804.0,646.0 880.0,627.5 900.0,621.6 972.0,599.4 1035.6,580.3 1080.0,568.0 1136.0,556.0 1192.8,548.2 1249.2,539.7 1300.0,534.5 1346.6,532.1 1416.5,531.0 1451.4,532.1 1466.6,540.3 1473.6,558.9 1475.0,563.0 1475.0,563.0 1472.0,568.2 1451.0,589.2 1405.0,610.2 1358.0,627.7 1300.0,645.0 1263.0,652.6 1221.0,663.8 1164.6,679.4 1122.0,688.0 1083.0,696.0 1045.0,704.6 990.0,718.4 935.0,732.2 900.0,738.5 804.0,753.0 737.0,762.0 700.0,767.0 658.5,774.6 580.0,783.4 529.0,790.4 492.0,796.8 455.5,802.3 400.0,808.7 349.0,815.2 314.0,821.5 307.0,821.0"/></clipPath></defs><g clip-path="url(#sclip)"><polygon points="306.5,820.0 313.5,818.9 313.5,822.5 306.5,822.0" fill="url(#g0)"/><polygon points="312.5,819.1 319.5,815.9 319.5,821.5 312.5,822.4" fill="url(#g1)"/><polygon points="318.5,816.4 325.5,812.7 325.5,820.4 318.5,821.7" fill="url(#g2)"/><polygon points="324.5,813.2 331.5,809.5 331.5,819.4 324.5,820.6" fill="url(#g3)"/><polygon points="330.5,810.0 337.5,806.3 337.5,818.3 330.5,819.5" fill="url(#g4)"/><polygon points="336.5,806.9 343.5,803.2 343.5,817.2 336.5,818.5" fill="url(#g5)"/><polygon points="342.5,803.7 349.5,800.0 349.5,816.1 342.5,817.4" fill="url(#g6)"/><polygon points="348.5,800.5 355.5,797.0 355.5,815.4 348.5,816.3" fill="url(#g7)"/><polygon points="354.5,797.5 361.5,794.0 361.5,814.6 354.5,815.5" fill="url(#g8)"/><polygon points="360.5,794.5 367.5,791.0 367.5,813.8 360.5,814.7" fill="url(#g9)"/><polygon points="366.5,791.5 373.5,788.2 373.5,813.1 366.5,814.0" fill="url(#g10)"/><polygon points="372.5,788.7 379.5,785.4 379.5,812.3 372.5,813.2" fill="url(#g11)"/><polygon points="378.5,785.9 385.5,782.7 385.5,811.5 378.5,812.4" fill="url(#g12)"/><polygon points="384.5,783.1 391.5,779.9 391.5,810.8 384.5,811.7" fill="url(#g13)"/><polygon points="390.5,780.4 397.5,777.4 397.5,810.0 390.5,810.9" fill="url(#g14)"/><polygon points="396.5,777.8 403.5,775.0 403.5,809.3 396.5,810.1" fill="url(#g15)"/><polygon points="402.5,775.4 409.5,772.7 409.5,808.6 402.5,809.4" fill="url(#g16)"/><polygon points="408.5,773.1 415.5,770.3 415.5,807.9 408.5,808.7" fill="url(#g17)"/><polygon points="414.5,770.7 421.5,767.9 421.5,807.2 414.5,808.0" fill="url(#g18)"/><polygon points="420.5,768.3 427.5,765.6 427.5,806.5 420.5,807.3" fill="url(#g19)"/><polygon points="426.5,766.0 433.5,763.2 433.5,805.8 426.5,806.6" fill="url(#g20)"/><polygon points="432.5,763.6 439.5,760.7 439.5,805.1 432.5,806.0" fill="url(#g21)"/><polygon points="438.5,761.2 445.5,758.1 445.5,804.5 438.5,805.3" fill="url(#g22)"/><polygon points="444.5,758.6 451.5,755.6 451.5,803.8 444.5,804.6" fill="url(#g23)"/><polygon points="450.5,756.0 457.5,753.0 457.5,803.0 450.5,803.9" fill="url(#g24)"/><polygon points="456.5,753.4 463.5,750.4 463.5,802.1 456.5,803.1" fill="url(#g25)"/><polygon points="462.5,750.8 469.5,748.2 469.5,801.2 462.5,802.2" fill="url(#g26)"/><polygon points="468.5,748.5 475.5,746.5 475.5,800.3 468.5,801.3" fill="url(#g27)"/><polygon points="474.5,746.8 481.5,744.9 481.5,799.4 474.5,800.4" fill="url(#g28)"/><polygon points="480.5,745.1 487.5,743.2 487.5,798.5 480.5,799.5" fill="url(#g29)"/><polygon points="486.5,743.5 493.5,741.5 493.5,797.5 486.5,798.6" fill="url(#g30)"/><polygon points="492.5,741.8 499.5,739.8 499.5,796.5 492.5,797.7" fill="url(#g31)"/><polygon points="498.5,740.1 505.5,738.0 505.5,795.5 498.5,796.7" fill="url(#g32)"/><polygon points="504.5,738.3 511.5,736.2 511.5,794.4 504.5,795.6" fill="url(#g33)"/><polygon points="510.5,736.5 517.5,734.4 517.5,793.4 510.5,794.6" fill="url(#g34)"/><polygon points="516.5,734.7 523.5,732.3 523.5,792.4 516.5,793.6" fill="url(#g35)"/><polygon points="522.5,732.6 529.5,730.2 529.5,791.3 522.5,792.5" fill="url(#g36)"/><polygon points="528.5,730.5 535.5,728.1 535.5,790.5 528.5,791.5" fill="url(#g37)"/><polygon points="534.5,728.4 541.5,726.0 541.5,789.7 534.5,790.6" fill="url(#g38)"/><polygon points="540.5,726.4 547.5,723.9 547.5,788.9 540.5,789.8" fill="url(#g39)"/><polygon points="546.5,724.3 553.5,721.8 553.5,788.0 546.5,789.0" fill="url(#g40)"/><polygon points="552.5,722.2 559.5,719.6 559.5,787.2 552.5,788.2" fill="url(#g41)"/><polygon points="558.5,720.0 565.5,717.4 565.5,786.4 558.5,787.4" fill="url(#g42)"/><polygon points="564.5,717.8 571.5,715.2 571.5,785.6 564.5,786.5" fill="url(#g43)"/><polygon points="570.5,715.5 577.5,712.9 577.5,784.7 570.5,785.7" fill="url(#g44)"/><polygon points="576.5,713.3 583.5,711.0 583.5,784.0 576.5,784.9" fill="url(#g45)"/><polygon points="582.5,711.3 589.5,709.2 589.5,783.3 582.5,784.1" fill="url(#g46)"/><polygon points="588.5,709.5 595.5,707.5 595.5,782.7 588.5,783.4" fill="url(#g47)"/><polygon points="594.5,707.8 601.5,705.8 601.5,782.0 594.5,782.8" fill="url(#g48)"/><polygon points="600.5,706.0 607.5,704.0 607.5,781.3 600.5,782.1" fill="url(#g49)"/><polygon points="606.5,704.3 613.5,702.3 613.5,780.6 606.5,781.4" fill="url(#g50)"/><polygon points="612.5,702.6 619.5,700.5 619.5,780.0 612.5,780.8" fill="url(#g51)"/><polygon points="618.5,700.8 625.5,698.8 625.5,779.3 618.5,780.1" fill="url(#g52)"/><polygon points="624.5,699.1 631.5,697.0 631.5,778.6 624.5,779.4" fill="url(#g53)"/><polygon points="630.5,697.3 637.5,695.3 637.5,778.0 630.5,778.7" fill="url(#g54)"/><polygon points="636.5,695.6 643.5,693.6 643.5,777.3 636.5,778.1" fill="url(#g55)"/><polygon points="642.5,693.8 649.5,691.8 649.5,776.6 642.5,777.4" fill="url(#g56)"/><polygon points="648.5,692.1 655.5,690.1 655.5,775.9 648.5,776.7" fill="url(#g57)"/><polygon points="654.5,690.4 661.5,688.5 661.5,775.1 654.5,776.0" fill="url(#g58)"/><polygon points="660.5,688.7 667.5,687.0 667.5,774.0 660.5,775.2" fill="url(#g59)"/><polygon points="666.5,687.2 673.5,685.5 673.5,772.9 666.5,774.1" fill="url(#g60)"/><polygon points="672.5,685.8 679.5,684.0 679.5,771.8 672.5,773.0" fill="url(#g61)"/><polygon points="678.5,684.3 685.5,682.6 685.5,770.7 678.5,771.9" fill="url(#g62)"/><polygon points="684.5,682.8 691.5,681.1 691.5,769.6 684.5,770.8" fill="url(#g63)"/><polygon points="690.5,681.3 697.5,679.6 697.5,768.5 690.5,769.7" fill="url(#g64)"/><polygon points="696.5,679.9 703.5,677.9 703.5,767.5 696.5,768.6" fill="url(#g65)"/><polygon points="702.5,678.2 709.5,676.1 709.5,766.7 702.5,767.7" fill="url(#g66)"/><polygon points="708.5,676.4 715.5,674.3 715.5,765.9 708.5,766.9" fill="url(#g67)"/><polygon points="714.5,674.6 721.5,672.4 721.5,765.1 714.5,766.0" fill="url(#g68)"/><polygon points="720.5,672.7 727.5,670.6 727.5,764.3 720.5,765.2" fill="url(#g69)"/><polygon points="726.5,670.9 733.5,668.8 733.5,763.5 726.5,764.4" fill="url(#g70)"/><polygon points="732.5,669.1 739.5,666.9 739.5,762.7 732.5,763.6" fill="url(#g71)"/><polygon points="738.5,667.2 745.5,664.8 745.5,761.9 738.5,762.8" fill="url(#g72)"/><polygon points="744.5,665.2 751.5,662.8 751.5,761.1 744.5,762.0" fill="url(#g73)"/><polygon points="750.5,663.1 757.5,660.8 757.5,760.2 750.5,761.2" fill="url(#g74)"/><polygon points="756.5,661.1 763.5,658.7 763.5,759.4 756.5,760.4" fill="url(#g75)"/><polygon points="762.5,659.1 769.5,656.7 769.5,758.6 762.5,759.6" fill="url(#g76)"/><polygon points="768.5,657.0 775.5,654.7 775.5,757.8 768.5,758.8" fill="url(#g77)"/><polygon points="774.5,655.0 781.5,652.6 781.5,757.0 774.5,758.0" fill="url(#g78)"/><polygon points="780.5,653.0 787.5,650.6 787.5,756.2 780.5,757.2" fill="url(#g79)"/><polygon points="786.5,650.9 793.5,648.6 793.5,755.4 786.5,756.4" fill="url(#g80)"/><polygon points="792.5,648.9 799.5,646.5 799.5,754.6 792.5,755.5" fill="url(#g81)"/><polygon points="798.5,646.9 805.5,644.6 805.5,753.8 798.5,754.7" fill="url(#g82)"/><polygon points="804.5,644.9 811.5,643.2 811.5,752.9 804.5,753.9" fill="url(#g83)"/><polygon points="810.5,643.4 817.5,641.7 817.5,752.0 810.5,753.0" fill="url(#g84)"/><polygon points="816.5,642.0 823.5,640.3 823.5,751.1 816.5,752.1" fill="url(#g85)"/><polygon points="822.5,640.5 829.5,638.8 829.5,750.1 822.5,751.2" fill="url(#g86)"/><polygon points="828.5,639.0 835.5,637.3 835.5,749.2 828.5,750.3" fill="url(#g87)"/><polygon points="834.5,637.6 841.5,635.9 841.5,748.3 834.5,749.4" fill="url(#g88)"/><polygon points="840.5,636.1 847.5,634.4 847.5,747.4 840.5,748.5" fill="url(#g89)"/><polygon points="846.5,634.7 853.5,633.0 853.5,746.5 846.5,747.6" fill="url(#g90)"/><polygon points="852.5,633.2 859.5,631.5 859.5,745.6 852.5,746.7" fill="url(#g91)"/><polygon points="858.5,631.7 865.5,630.0 865.5,744.7 858.5,745.8" fill="url(#g92)"/><polygon points="864.5,630.3 871.5,628.6 871.5,743.8 864.5,744.9" fill="url(#g93)"/><polygon points="870.5,628.8 877.5,627.1 877.5,742.9 870.5,744.0" fill="url(#g94)"/><polygon points="876.5,627.4 883.5,625.5 883.5,742.0 876.5,743.0" fill="url(#g95)"/><polygon points="882.5,625.8 889.5,623.7 889.5,741.1 882.5,742.1" fill="url(#g96)"/><polygon points="888.5,624.0 895.5,621.9 895.5,740.2 888.5,741.2" fill="url(#g97)"/><polygon points="894.5,622.2 901.5,620.1 901.5,739.2 894.5,740.3" fill="url(#g98)"/><polygon points="900.5,620.4 907.5,618.3 907.5,738.1 900.5,739.4" fill="url(#g99)"/><polygon points="906.5,618.6 913.5,616.4 913.5,737.1 906.5,738.3" fill="url(#g100)"/><polygon points="912.5,616.7 919.5,614.6 919.5,736.0 912.5,737.2" fill="url(#g101)"/><polygon points="918.5,614.9 925.5,612.7 925.5,734.9 918.5,736.2" fill="url(#g102)"/><polygon points="924.5,613.0 931.5,610.9 931.5,733.8 924.5,735.1" fill="url(#g103)"/><polygon points="930.5,611.2 937.5,609.0 937.5,732.6 930.5,734.0" fill="url(#g104)"/><polygon points="936.5,609.3 943.5,607.2 943.5,731.1 936.5,732.8" fill="url(#g105)"/><polygon points="942.5,607.5 949.5,605.3 949.5,729.6 942.5,731.3" fill="url(#g106)"/><polygon points="948.5,605.6 955.5,603.5 955.5,728.1 948.5,729.8" fill="url(#g107)"/><polygon points="954.5,603.8 961.5,601.6 961.5,726.6 954.5,728.3" fill="url(#g108)"/><polygon points="960.5,601.9 967.5,599.8 967.5,725.0 960.5,726.8" fill="url(#g109)"/><polygon points="966.5,600.1 973.5,597.9 973.5,723.5 966.5,725.3" fill="url(#g110)"/><polygon points="972.5,598.2 979.5,596.1 979.5,722.0 972.5,723.8" fill="url(#g111)"/><polygon points="978.5,596.4 985.5,594.3 985.5,720.5 978.5,722.3" fill="url(#g112)"/><polygon points="984.5,594.6 991.5,592.5 991.5,719.0 984.5,720.8" fill="url(#g113)"/><polygon points="990.5,592.8 997.5,590.7 997.5,717.5 990.5,719.3" fill="url(#g114)"/><polygon points="996.5,591.0 1003.5,588.9 1003.5,716.0 996.5,717.8" fill="url(#g115)"/><polygon points="1002.5,589.2 1009.5,587.1 1009.5,714.5 1002.5,716.3" fill="url(#g116)"/><polygon points="1008.5,587.4 1015.5,585.3 1015.5,713.0 1008.5,714.8" fill="url(#g117)"/><polygon points="1014.5,585.6 1021.5,583.5 1021.5,711.5 1014.5,713.3" fill="url(#g118)"/><polygon points="1020.5,583.8 1027.5,581.7 1027.5,710.0 1020.5,711.7" fill="url(#g119)"/><polygon points="1026.5,582.0 1033.5,579.9 1033.5,708.5 1026.5,710.2" fill="url(#g120)"/><polygon points="1032.5,580.2 1039.5,578.2 1039.5,707.0 1032.5,708.7" fill="url(#g121)"/><polygon points="1038.5,578.5 1045.5,576.6 1045.5,705.5 1038.5,707.2" fill="url(#g122)"/><polygon points="1044.5,576.8 1051.5,574.9 1051.5,704.1 1044.5,705.7" fill="url(#g123)"/><polygon points="1050.5,575.2 1057.5,573.2 1057.5,702.8 1050.5,704.4" fill="url(#g124)"/><polygon points="1056.5,573.5 1063.5,571.6 1063.5,701.4 1056.5,703.0" fill="url(#g125)"/><polygon points="1062.5,571.8 1069.5,569.9 1069.5,700.1 1062.5,701.6" fill="url(#g126)"/><polygon points="1068.5,570.2 1075.5,568.2 1075.5,698.7 1068.5,700.3" fill="url(#g127)"/><polygon points="1074.5,568.5 1081.5,566.7 1081.5,697.3 1074.5,698.9" fill="url(#g128)"/><polygon points="1080.5,566.9 1087.5,565.4 1087.5,696.1 1080.5,697.6" fill="url(#g129)"/><polygon points="1086.5,565.6 1093.5,564.1 1093.5,694.8 1086.5,696.3" fill="url(#g130)"/><polygon points="1092.5,564.3 1099.5,562.8 1099.5,693.6 1092.5,695.1" fill="url(#g131)"/><polygon points="1098.5,563.0 1105.5,561.5 1105.5,692.4 1098.5,693.8" fill="url(#g132)"/><polygon points="1104.5,561.8 1111.5,560.2 1111.5,691.2 1104.5,692.6" fill="url(#g133)"/><polygon points="1110.5,560.5 1117.5,559.0 1117.5,689.9 1110.5,691.4" fill="url(#g134)"/><polygon points="1116.5,559.2 1123.5,557.7 1123.5,688.7 1116.5,690.1" fill="url(#g135)"/><polygon points="1122.5,557.9 1129.5,556.4 1129.5,687.5 1122.5,688.9" fill="url(#g136)"/><polygon points="1128.5,556.6 1135.5,555.1 1135.5,686.3 1128.5,687.7" fill="url(#g137)"/><polygon points="1134.5,555.3 1141.5,554.2 1141.5,685.1 1134.5,686.5" fill="url(#g138)"/><polygon points="1140.5,554.4 1147.5,553.4 1147.5,683.9 1140.5,685.3" fill="url(#g139)"/><polygon points="1146.5,553.6 1153.5,552.6 1153.5,682.6 1146.5,684.1" fill="url(#g140)"/><polygon points="1152.5,552.7 1159.5,551.8 1159.5,681.4 1152.5,682.8" fill="url(#g141)"/><polygon points="1158.5,551.9 1165.5,550.9 1165.5,680.2 1158.5,681.6" fill="url(#g142)"/><polygon points="1164.5,551.1 1171.5,550.1 1171.5,678.5 1164.5,680.4" fill="url(#g143)"/><polygon points="1170.5,550.3 1177.5,549.3 1177.5,676.8 1170.5,678.8" fill="url(#g144)"/><polygon points="1176.5,549.4 1183.5,548.5 1183.5,675.2 1176.5,677.1" fill="url(#g145)"/><polygon points="1182.5,548.6 1189.5,547.7 1189.5,673.5 1182.5,675.4" fill="url(#g146)"/><polygon points="1188.5,547.8 1195.5,546.8 1195.5,671.9 1188.5,673.8" fill="url(#g147)"/><polygon points="1194.5,546.9 1201.5,545.9 1201.5,670.2 1194.5,672.1" fill="url(#g148)"/><polygon points="1200.5,546.0 1207.5,545.0 1207.5,668.5 1200.5,670.5" fill="url(#g149)"/><polygon points="1206.5,545.1 1213.5,544.1 1213.5,666.9 1206.5,668.8" fill="url(#g150)"/><polygon points="1212.5,544.2 1219.5,543.2 1219.5,665.2 1212.5,667.2" fill="url(#g151)"/><polygon points="1218.5,543.3 1225.5,542.3 1225.5,663.6 1218.5,665.5" fill="url(#g152)"/><polygon points="1224.5,542.4 1231.5,541.4 1231.5,662.0 1224.5,663.9" fill="url(#g153)"/><polygon points="1230.5,541.5 1237.5,540.5 1237.5,660.4 1230.5,662.3" fill="url(#g154)"/><polygon points="1236.5,540.6 1243.5,539.6 1243.5,658.8 1236.5,660.7" fill="url(#g155)"/><polygon points="1242.5,539.7 1249.5,538.7 1249.5,657.2 1242.5,659.1" fill="url(#g156)"/><polygon points="1248.5,538.8 1255.5,538.1 1255.5,655.6 1248.5,657.5" fill="url(#g157)"/><polygon points="1254.5,538.2 1261.5,537.4 1261.5,654.0 1254.5,655.9" fill="url(#g158)"/><polygon points="1260.5,537.5 1267.5,536.8 1267.5,652.7 1260.5,654.3" fill="url(#g159)"/><polygon points="1266.5,536.9 1273.5,536.2 1273.5,651.4 1266.5,652.9" fill="url(#g160)"/><polygon points="1272.5,536.3 1279.5,535.6 1279.5,650.2 1272.5,651.6" fill="url(#g161)"/><polygon points="1278.5,535.7 1285.5,535.0 1285.5,649.0 1278.5,650.4" fill="url(#g162)"/><polygon points="1284.5,535.1 1291.5,534.4 1291.5,647.7 1284.5,649.2" fill="url(#g163)"/><polygon points="1290.5,534.5 1297.5,533.8 1297.5,646.5 1290.5,648.0" fill="url(#g164)"/><polygon points="1296.5,533.9 1303.5,533.3 1303.5,645.0 1296.5,646.7" fill="url(#g165)"/><polygon points="1302.5,533.4 1309.5,533.0 1309.5,643.2 1302.5,645.3" fill="url(#g166)"/><polygon points="1308.5,533.1 1315.5,532.7 1315.5,641.4 1308.5,643.5" fill="url(#g167)"/><polygon points="1314.5,532.8 1321.5,532.4 1321.5,639.6 1314.5,641.7" fill="url(#g168)"/><polygon points="1320.5,532.4 1327.5,532.1 1327.5,637.8 1320.5,639.9" fill="url(#g169)"/><polygon points="1326.5,532.1 1333.5,531.8 1333.5,636.0 1326.5,638.1" fill="url(#g170)"/><polygon points="1332.5,531.8 1339.5,531.5 1339.5,634.2 1332.5,636.3" fill="url(#g171)"/><polygon points="1338.5,531.5 1345.5,531.2 1345.5,632.4 1338.5,634.5" fill="url(#g172)"/><polygon points="1344.5,531.2 1351.5,531.0 1351.5,630.6 1344.5,632.7" fill="url(#g173)"/><polygon points="1350.5,531.0 1357.5,530.9 1357.5,628.8 1350.5,630.9" fill="url(#g174)"/><polygon points="1356.5,530.9 1363.5,530.8 1363.5,626.7 1356.5,629.1" fill="url(#g175)"/><polygon points="1362.5,530.8 1369.5,530.7 1369.5,624.4 1362.5,627.0" fill="url(#g176)"/><polygon points="1368.5,530.8 1375.5,530.6 1375.5,622.2 1368.5,624.8" fill="url(#g177)"/><polygon points="1374.5,530.7 1381.5,530.6 1381.5,620.0 1374.5,622.6" fill="url(#g178)"/><polygon points="1380.5,530.6 1387.5,530.5 1387.5,617.7 1380.5,620.3" fill="url(#g179)"/><polygon points="1386.5,530.5 1393.5,530.4 1393.5,615.5 1386.5,618.1" fill="url(#g180)"/><polygon points="1392.5,530.4 1399.5,530.3 1399.5,613.2 1392.5,615.9" fill="url(#g181)"/><polygon points="1398.5,530.3 1405.5,530.2 1405.5,611.0 1398.5,613.6" fill="url(#g182)"/><polygon points="1404.5,530.2 1411.5,530.1 1411.5,608.2 1404.5,611.4" fill="url(#g183)"/><polygon points="1410.5,530.1 1417.5,530.0 1417.5,605.5 1410.5,608.7" fill="url(#g184)"/><polygon points="1416.5,530.0 1423.5,530.2 1423.5,602.8 1416.5,606.0" fill="url(#g185)"/><polygon points="1422.5,530.2 1429.5,530.4 1429.5,600.0 1422.5,603.2" fill="url(#g186)"/><polygon points="1428.5,530.4 1435.5,530.6 1435.5,597.3 1428.5,600.5" fill="url(#g187)"/><polygon points="1434.5,530.6 1441.5,530.8 1441.5,594.5 1434.5,597.7" fill="url(#g188)"/><polygon points="1440.5,530.8 1447.5,531.0 1447.5,591.8 1440.5,595.0" fill="url(#g189)"/><polygon points="1446.5,530.9 1453.5,532.2 1453.5,587.7 1446.5,592.3" fill="url(#g190)"/><polygon points="1452.5,531.7 1459.5,535.5 1459.5,581.7 1452.5,588.7" fill="url(#g191)"/><polygon points="1458.5,534.9 1465.5,538.7 1465.5,575.7 1458.5,582.7" fill="url(#g192)"/><polygon points="1464.5,538.2 1471.5,552.3 1471.5,569.7 1464.5,576.7" fill="url(#g193)"/><polygon points="1470.5,549.7 1475.5,562.0 1475.5,564.0 1470.5,570.7" fill="url(#g194)"/></g><g stroke="#333" stroke-width="1.5" opacity="0.55" fill="none"><line x1="252.6" y1="945.6" x2="703.8" y2="523.7" /><line x1="703.8" y1="523.7" x2="1534.9" y2="753.3" /></g>
<g fill="#18bce0" stroke="#18bce0" stroke-width="1.0">
<rect x="1088.8" y="642.8" width="14.4" height="14.4"/>
<rect x="1130.8" y="638.8" width="14.4" height="14.4"/>
<rect x="977.8" y="679.8" width="14.4" height="14.4"/>
<rect x="1019.8" y="657.8" width="14.4" height="14.4"/>
<rect x="1211.6" y="617.9" width="14.4" height="14.4"/>
<rect x="1292.9" y="601.2" width="14.4" height="14.4"/>
<rect x="1254.8" y="610.8" width="14.4" height="14.4"/>
</g>
<g fill="#7a6a9c" stroke="#7a6a9c" stroke-width="1.0">
<rect x="869.7" y="635.7" width="14.4" height="14.4"/>
<rect x="861.8" y="644.8" width="14.4" height="14.4"/>
<rect x="877.5" y="642.2" width="14.4" height="14.4"/>
<rect x="1031.2" y="586.5" width="14.4" height="14.4"/>
<rect x="969.2" y="610.7" width="14.4" height="14.4"/>
<rect x="936.2" y="625.8" width="14.4" height="14.4"/>
<rect x="947.2" y="627.2" width="14.4" height="14.4"/>
<rect x="1092.5" y="562.2" width="14.4" height="14.4"/>
<rect x="1106.6" y="569.2" width="14.4" height="14.4"/>
<rect x="887.7" y="644.5" width="14.4" height="14.4"/>
<rect x="906.1" y="644.5" width="14.4" height="14.4"/>
<rect x="911.0" y="645.7" width="14.4" height="14.4"/>
<rect x="936.8" y="624.8" width="14.4" height="14.4"/>
<rect x="949.0" y="627.3" width="14.4" height="14.4"/>
<rect x="897.8" y="632.8" width="14.4" height="14.4"/>
<rect x="1095.3" y="563.2" width="14.4" height="14.4"/>
<rect x="1107.0" y="569.7" width="14.4" height="14.4"/>
<rect x="1066.7" y="572.3" width="14.4" height="14.4"/>
<rect x="1082.3" y="576.2" width="14.4" height="14.4"/>
<rect x="1313.8" y="540.8" width="14.4" height="14.4"/>
<rect x="1326.2" y="540.8" width="14.4" height="14.4"/>
<rect x="1351.3" y="532.4" width="14.4" height="14.4"/>
<rect x="1361.7" y="540.8" width="14.4" height="14.4"/>
<rect x="1374.2" y="532.4" width="14.4" height="14.4"/>
<rect x="1401.3" y="528.2" width="14.4" height="14.4"/>
<rect x="1409.6" y="547.0" width="14.4" height="14.4"/>
<rect x="1428.4" y="534.5" width="14.4" height="14.4"/>
<rect x="1449.2" y="544.9" width="14.4" height="14.4"/>
<rect x="1397.1" y="555.3" width="14.4" height="14.4"/>
<rect x="1309.6" y="551.2" width="14.4" height="14.4"/>
<rect x="1330.4" y="551.2" width="14.4" height="14.4"/>
<rect x="1351.3" y="551.2" width="14.4" height="14.4"/>
<rect x="1372.1" y="549.1" width="14.4" height="14.4"/>
<rect x="1388.8" y="555.3" width="14.4" height="14.4"/>
<rect x="1259.5" y="561.6" width="14.4" height="14.4"/>
<rect x="1280.4" y="561.6" width="14.4" height="14.4"/>
<rect x="1297.1" y="563.7" width="14.4" height="14.4"/>
<rect x="1330.4" y="565.8" width="14.4" height="14.4"/>
<rect x="1351.3" y="563.7" width="14.4" height="14.4"/>
<rect x="1361.7" y="567.8" width="14.4" height="14.4"/>
<rect x="1232.4" y="565.8" width="14.4" height="14.4"/>
<rect x="1209.5" y="565.8" width="14.4" height="14.4"/>
<rect x="1194.9" y="572.0" width="14.4" height="14.4"/>
<rect x="1174.1" y="576.2" width="14.4" height="14.4"/>
<rect x="1155.3" y="580.4" width="14.4" height="14.4"/>
<rect x="1205.3" y="580.4" width="14.4" height="14.4"/>
<rect x="1230.4" y="580.4" width="14.4" height="14.4"/>
<rect x="1251.2" y="578.3" width="14.4" height="14.4"/>
<rect x="1278.3" y="576.2" width="14.4" height="14.4"/>
<rect x="1305.4" y="572.0" width="14.4" height="14.4"/>
<rect x="1330.4" y="576.2" width="14.4" height="14.4"/>
<rect x="1153.2" y="555.3" width="14.4" height="14.4"/>
<rect x="1230.4" y="540.8" width="14.4" height="14.4"/>
<rect x="1242.8" y="552.8" width="14.4" height="14.4"/>
<rect x="1267.8" y="567.8" width="14.4" height="14.4"/>
<rect x="1182.8" y="582.8" width="14.4" height="14.4"/>
<rect x="1217.8" y="590.8" width="14.4" height="14.4"/>
<rect x="863.2" y="636.9" width="14.4" height="14.4"/>
<rect x="881.6" y="646.1" width="14.4" height="14.4"/>
<rect x="899.9" y="652.2" width="14.4" height="14.4"/>
<rect x="915.3" y="639.9" width="14.4" height="14.4"/>
<rect x="936.8" y="627.7" width="14.4" height="14.4"/>
<rect x="955.1" y="624.6" width="14.4" height="14.4"/>
<rect x="973.5" y="615.4" width="14.4" height="14.4"/>
<rect x="998.0" y="609.3" width="14.4" height="14.4"/>
<rect x="1016.4" y="603.2" width="14.4" height="14.4"/>
<rect x="869.3" y="655.3" width="14.4" height="14.4"/>
<rect x="925.8" y="633.8" width="14.4" height="14.4"/>
<rect x="987.8" y="612.8" width="14.4" height="14.4"/>
</g>
<g fill="#76629e" stroke="#76629e" stroke-width="1.0">
<rect x="1219.8" y="575.8" width="14.4" height="14.4"/>
<rect x="1225.8" y="582.8" width="14.4" height="14.4"/>
<rect x="1205.3" y="584.5" width="14.4" height="14.4"/>
<rect x="1267.8" y="573.8" width="14.4" height="14.4"/>
<rect x="1288.8" y="571.8" width="14.4" height="14.4"/>
<rect x="1313.8" y="559.5" width="14.4" height="14.4"/>
<rect x="1357.5" y="555.3" width="14.4" height="14.4"/>
<rect x="1373.8" y="555.3" width="14.4" height="14.4"/>
<rect x="1271.8" y="580.4" width="14.4" height="14.4"/>
<rect x="1187.8" y="588.8" width="14.4" height="14.4"/>
</g>
<g fill="#1010ee">
<rect x="1219.8" y="575.8" width="14.4" height="4.5"/>
<rect x="1225.8" y="582.8" width="14.4" height="4.5"/>
<rect x="1205.3" y="584.5" width="14.4" height="4.5"/>
<rect x="1267.8" y="573.8" width="14.4" height="4.5"/>
<rect x="1288.8" y="571.8" width="14.4" height="4.5"/>
<rect x="1313.8" y="559.5" width="14.4" height="4.5"/>
<rect x="1357.5" y="555.3" width="14.4" height="4.5"/>
<rect x="1373.8" y="555.3" width="14.4" height="4.5"/>
<rect x="1271.8" y="580.4" width="14.4" height="4.5"/>
<rect x="1187.8" y="588.8" width="14.4" height="4.5"/>
</g>
<g fill="#3c7fa8" stroke="#3c7fa8" stroke-width="1.0">
<rect x="832.5" y="657.4" width="14.4" height="14.4"/>
</g>
<g fill="#1462c8" stroke="#1462c8" stroke-width="1.0">
<rect x="499.8" y="739.9" width="14.4" height="14.4"/>
<rect x="728.6" y="692.9" width="14.4" height="14.4"/>
<rect x="726.6" y="700.8" width="14.4" height="14.4"/>
<rect x="753.3" y="699.4" width="14.4" height="14.4"/>
<rect x="776.0" y="670.8" width="14.4" height="14.4"/>
<rect x="765.6" y="686.4" width="14.4" height="14.4"/>
<rect x="770.8" y="699.4" width="14.4" height="14.4"/>
<rect x="783.8" y="696.8" width="14.4" height="14.4"/>
<rect x="816.3" y="676.0" width="14.4" height="14.4"/>
<rect x="815.0" y="694.2" width="14.4" height="14.4"/>
<rect x="833.2" y="679.9" width="14.4" height="14.4"/>
<rect x="848.8" y="673.4" width="14.4" height="14.4"/>
<rect x="867.1" y="683.8" width="14.4" height="14.4"/>
<rect x="874.8" y="696.8" width="14.4" height="14.4"/>
<rect x="885.3" y="689.0" width="14.4" height="14.4"/>
<rect x="885.3" y="657.8" width="14.4" height="14.4"/>
<rect x="886.6" y="656.1" width="14.4" height="14.4"/>
<rect x="881.1" y="645.1" width="14.4" height="14.4"/>
<rect x="907.2" y="642.3" width="14.4" height="14.4"/>
<rect x="930.7" y="676.8" width="14.4" height="14.4"/>
<rect x="989.9" y="679.5" width="14.4" height="14.4"/>
<rect x="1031.2" y="676.8" width="14.4" height="14.4"/>
<rect x="958.2" y="690.5" width="14.4" height="14.4"/>
<rect x="914.1" y="704.3" width="14.4" height="14.4"/>
<rect x="886.6" y="697.4" width="14.4" height="14.4"/>
<rect x="900.3" y="708.4" width="14.4" height="14.4"/>
<rect x="1117.9" y="655.2" width="14.4" height="14.4"/>
<rect x="1091.1" y="662.3" width="14.4" height="14.4"/>
<rect x="890.1" y="656.8" width="14.4" height="14.4"/>
<rect x="931.8" y="646.9" width="14.4" height="14.4"/>
<rect x="944.1" y="649.4" width="14.4" height="14.4"/>
<rect x="918.3" y="664.1" width="14.4" height="14.4"/>
<rect x="930.6" y="661.7" width="14.4" height="14.4"/>
<rect x="944.1" y="661.7" width="14.4" height="14.4"/>
<rect x="928.2" y="681.3" width="14.4" height="14.4"/>
<rect x="944.1" y="678.8" width="14.4" height="14.4"/>
<rect x="954.9" y="684.1" width="14.4" height="14.4"/>
<rect x="1125.8" y="650.6" width="14.4" height="14.4"/>
<rect x="1342.9" y="584.5" width="14.4" height="14.4"/>
<rect x="1374.2" y="584.5" width="14.4" height="14.4"/>
<rect x="1301.2" y="592.9" width="14.4" height="14.4"/>
<rect x="1288.7" y="609.5" width="14.4" height="14.4"/>
<rect x="1215.8" y="617.9" width="14.4" height="14.4"/>
<rect x="1267.9" y="597.0" width="14.4" height="14.4"/>
<rect x="1184.5" y="626.2" width="14.4" height="14.4"/>
<rect x="1180.4" y="642.8" width="14.4" height="14.4"/>
<rect x="1242.8" y="604.8" width="14.4" height="14.4"/>
<rect x="1152.8" y="622.8" width="14.4" height="14.4"/>
</g>
<g fill="#0000ff" stroke="#0000ff" stroke-width="1.0">
<rect x="299.4" y="814.4" width="14.4" height="14.4"/>
<rect x="333.4" y="801.5" width="14.4" height="14.4"/>
<rect x="366.5" y="791.4" width="14.4" height="14.4"/>
<rect x="379.4" y="776.7" width="14.4" height="14.4"/>
<rect x="424.4" y="768.4" width="14.4" height="14.4"/>
<rect x="437.3" y="753.7" width="14.4" height="14.4"/>
<rect x="452.0" y="745.5" width="14.4" height="14.4"/>
<rect x="517.3" y="724.3" width="14.4" height="14.4"/>
<rect x="553.2" y="713.3" width="14.4" height="14.4"/>
<rect x="571.6" y="706.8" width="14.4" height="14.4"/>
<rect x="481.4" y="783.2" width="14.4" height="14.4"/>
<rect x="575.8" y="706.6" width="14.4" height="14.4"/>
<rect x="661.1" y="747.8" width="14.4" height="14.4"/>
<rect x="679.7" y="745.8" width="14.4" height="14.4"/>
<rect x="706.2" y="736.0" width="14.4" height="14.4"/>
<rect x="753.3" y="738.0" width="14.4" height="14.4"/>
<rect x="772.1" y="726.8" width="14.4" height="14.4"/>
<rect x="789.0" y="657.8" width="14.4" height="14.4"/>
<rect x="816.3" y="712.4" width="14.4" height="14.4"/>
<rect x="877.5" y="715.0" width="14.4" height="14.4"/>
<rect x="880.1" y="725.4" width="14.4" height="14.4"/>
<rect x="1014.7" y="576.9" width="14.4" height="14.4"/>
<rect x="1045.7" y="572.1" width="14.4" height="14.4"/>
<rect x="1068.4" y="561.1" width="14.4" height="14.4"/>
<rect x="1067.0" y="582.4" width="14.4" height="14.4"/>
<rect x="969.2" y="616.8" width="14.4" height="14.4"/>
<rect x="1036.7" y="661.6" width="14.4" height="14.4"/>
<rect x="1061.5" y="678.1" width="14.4" height="14.4"/>
<rect x="1032.6" y="685.0" width="14.4" height="14.4"/>
<rect x="977.5" y="707.1" width="14.4" height="14.4"/>
<rect x="944.4" y="715.3" width="14.4" height="14.4"/>
<rect x="944.4" y="701.6" width="14.4" height="14.4"/>
<rect x="911.4" y="723.6" width="14.4" height="14.4"/>
<rect x="881.1" y="725.0" width="14.4" height="14.4"/>
<rect x="977.5" y="693.3" width="14.4" height="14.4"/>
<rect x="1078.4" y="557.9" width="14.4" height="14.4"/>
<rect x="1094.0" y="555.1" width="14.4" height="14.4"/>
<rect x="1108.1" y="576.3" width="14.4" height="14.4"/>
<rect x="1115.1" y="639.7" width="14.4" height="14.4"/>
<rect x="1075.6" y="656.6" width="14.4" height="14.4"/>
<rect x="1144.0" y="550.8" width="14.4" height="14.4"/>
<rect x="941.6" y="700.9" width="14.4" height="14.4"/>
<rect x="944.1" y="713.2" width="14.4" height="14.4"/>
<rect x="1091.4" y="664.6" width="14.4" height="14.4"/>
<rect x="1117.5" y="654.2" width="14.4" height="14.4"/>
<rect x="977.0" y="690.6" width="14.4" height="14.4"/>
<rect x="1032.9" y="687.8" width="14.4" height="14.4"/>
<rect x="1116.7" y="638.9" width="14.4" height="14.4"/>
<rect x="1375.2" y="519.9" width="14.4" height="14.4"/>
<rect x="1359.6" y="519.9" width="14.4" height="14.4"/>
<rect x="1407.5" y="519.9" width="14.4" height="14.4"/>
<rect x="1428.4" y="519.9" width="14.4" height="14.4"/>
<rect x="1451.3" y="526.2" width="14.4" height="14.4"/>
<rect x="1469.0" y="540.8" width="14.4" height="14.4"/>
<rect x="1469.0" y="565.8" width="14.4" height="14.4"/>
<rect x="1451.3" y="576.2" width="14.4" height="14.4"/>
<rect x="1232.4" y="549.1" width="14.4" height="14.4"/>
<rect x="1199.1" y="561.6" width="14.4" height="14.4"/>
<rect x="1222.0" y="530.3" width="14.4" height="14.4"/>
<rect x="1205.3" y="536.6" width="14.4" height="14.4"/>
<rect x="1334.6" y="617.8" width="14.4" height="14.4"/>
<rect x="1334.6" y="628.3" width="14.4" height="14.4"/>
<rect x="1272.0" y="626.2" width="14.4" height="14.4"/>
<rect x="1301.2" y="609.5" width="14.4" height="14.4"/>
<rect x="1253.3" y="594.9" width="14.4" height="14.4"/>
<rect x="1169.9" y="590.8" width="14.4" height="14.4"/>
<rect x="1159.5" y="601.2" width="14.4" height="14.4"/>
<rect x="1174.1" y="613.7" width="14.4" height="14.4"/>
<rect x="1147.0" y="638.7" width="14.4" height="14.4"/>
<rect x="1201.2" y="634.6" width="14.4" height="14.4"/>
<rect x="1226.2" y="642.9" width="14.4" height="14.4"/>
<rect x="1230.4" y="617.9" width="14.4" height="14.4"/>
<rect x="1151.8" y="641.5" width="14.4" height="14.4"/>
<rect x="1173.9" y="662.3" width="14.4" height="14.4"/>
<rect x="1223.3" y="657.1" width="14.4" height="14.4"/>
<rect x="1201.2" y="637.6" width="14.4" height="14.4"/>
<rect x="1162.2" y="599.9" width="14.4" height="14.4"/>
<rect x="1175.2" y="619.4" width="14.4" height="14.4"/>
<rect x="1227.2" y="531.0" width="14.4" height="14.4"/>
</g>
<g fill="#ff0000" stroke="#ff0000" stroke-width="1.0">
<rect x="359.5" y="700.5" width="14.4" height="14.4"/>
<rect x="374.3" y="674.2" width="14.4" height="14.4"/>
<rect x="386.1" y="663.4" width="14.4" height="14.4"/>
<rect x="391.5" y="666.1" width="14.4" height="14.4"/>
<rect x="400.2" y="653.3" width="14.4" height="14.4"/>
<rect x="460.3" y="648.6" width="14.4" height="14.4"/>
<rect x="471.7" y="658.0" width="14.4" height="14.4"/>
<rect x="482.5" y="643.8" width="14.4" height="14.4"/>
<rect x="494.7" y="636.4" width="14.4" height="14.4"/>
<rect x="491.3" y="643.8" width="14.4" height="14.4"/>
<rect x="501.4" y="682.3" width="14.4" height="14.4"/>
<rect x="519.6" y="679.6" width="14.4" height="14.4"/>
<rect x="569.5" y="594.4" width="14.4" height="14.4"/>
<rect x="571.2" y="611.3" width="14.4" height="14.4"/>
<rect x="589.5" y="593.7" width="14.4" height="14.4"/>
<rect x="605.0" y="591.7" width="14.4" height="14.4"/>
<rect x="588.8" y="601.2" width="14.4" height="14.4"/>
<rect x="637.3" y="596.4" width="14.4" height="14.4"/>
<rect x="668.4" y="573.5" width="14.4" height="14.4"/>
<rect x="662.3" y="583.6" width="14.4" height="14.4"/>
<rect x="692.0" y="589.0" width="14.4" height="14.4"/>
<rect x="855.3" y="512.0" width="14.4" height="14.4"/>
<rect x="705.1" y="557.4" width="14.4" height="14.4"/>
<rect x="732.0" y="583.2" width="14.4" height="14.4"/>
<rect x="748.0" y="581.9" width="14.4" height="14.4"/>
<rect x="701.4" y="594.2" width="14.4" height="14.4"/>
<rect x="697.7" y="586.8" width="14.4" height="14.4"/>
<rect x="744.3" y="616.3" width="14.4" height="14.4"/>
<rect x="790.3" y="621.2" width="14.4" height="14.4"/>
<rect x="816.0" y="602.8" width="14.4" height="14.4"/>
<rect x="860.2" y="588.1" width="14.4" height="14.4"/>
<rect x="725.9" y="559.9" width="14.4" height="14.4"/>
<rect x="733.3" y="566.0" width="14.4" height="14.4"/>
<rect x="746.8" y="566.0" width="14.4" height="14.4"/>
<rect x="754.1" y="548.8" width="14.4" height="14.4"/>
<rect x="761.5" y="543.9" width="14.4" height="14.4"/>
<rect x="777.4" y="541.5" width="14.4" height="14.4"/>
<rect x="788.4" y="541.5" width="14.4" height="14.4"/>
<rect x="803.2" y="543.9" width="14.4" height="14.4"/>
<rect x="761.5" y="558.6" width="14.4" height="14.4"/>
<rect x="778.6" y="558.6" width="14.4" height="14.4"/>
<rect x="778.6" y="568.4" width="14.4" height="14.4"/>
<rect x="799.5" y="566.0" width="14.4" height="14.4"/>
<rect x="805.6" y="573.4" width="14.4" height="14.4"/>
<rect x="809.3" y="553.7" width="14.4" height="14.4"/>
<rect x="815.4" y="546.4" width="14.4" height="14.4"/>
<rect x="835.0" y="531.7" width="14.4" height="14.4"/>
<rect x="851.0" y="534.1" width="14.4" height="14.4"/>
<rect x="869.4" y="529.2" width="14.4" height="14.4"/>
<rect x="840.0" y="546.4" width="14.4" height="14.4"/>
<rect x="843.6" y="570.9" width="14.4" height="14.4"/>
<rect x="827.7" y="578.3" width="14.4" height="14.4"/>
<rect x="815.4" y="585.6" width="14.4" height="14.4"/>
<rect x="803.2" y="588.1" width="14.4" height="14.4"/>
<rect x="788.4" y="589.3" width="14.4" height="14.4"/>
<rect x="781.1" y="593.0" width="14.4" height="14.4"/>
<rect x="772.5" y="597.9" width="14.4" height="14.4"/>
<rect x="763.9" y="605.2" width="14.4" height="14.4"/>
<rect x="754.1" y="610.1" width="14.4" height="14.4"/>
<rect x="864.5" y="546.4" width="14.4" height="14.4"/>
<rect x="870.6" y="558.6" width="14.4" height="14.4"/>
<rect x="870.6" y="568.4" width="14.4" height="14.4"/>
<rect x="833.8" y="558.6" width="14.4" height="14.4"/>
<rect x="852.2" y="570.9" width="14.4" height="14.4"/>
<rect x="859.6" y="578.3" width="14.4" height="14.4"/>
<rect x="824.8" y="540.8" width="14.4" height="14.4"/>
<rect x="926.9" y="490.4" width="14.4" height="14.4"/>
<rect x="892.6" y="500.2" width="14.4" height="14.4"/>
<rect x="903.6" y="499.0" width="14.4" height="14.4"/>
<rect x="887.7" y="518.6" width="14.4" height="14.4"/>
<rect x="901.2" y="521.1" width="14.4" height="14.4"/>
<rect x="890.2" y="534.6" width="14.4" height="14.4"/>
<rect x="904.9" y="534.6" width="14.4" height="14.4"/>
<rect x="890.2" y="550.5" width="14.4" height="14.4"/>
<rect x="904.9" y="550.5" width="14.4" height="14.4"/>
<rect x="917.1" y="560.3" width="14.4" height="14.4"/>
<rect x="888.9" y="561.6" width="14.4" height="14.4"/>
<rect x="882.8" y="581.9" width="14.4" height="14.4"/>
<rect x="919.6" y="510.1" width="14.4" height="14.4"/>
<rect x="934.3" y="513.7" width="14.4" height="14.4"/>
<rect x="950.2" y="516.2" width="14.4" height="14.4"/>
<rect x="919.6" y="526.0" width="14.4" height="14.4"/>
<rect x="934.3" y="533.4" width="14.4" height="14.4"/>
<rect x="931.8" y="540.7" width="14.4" height="14.4"/>
<rect x="885.3" y="582.4" width="14.4" height="14.4"/>
<rect x="966.2" y="489.2" width="14.4" height="14.4"/>
<rect x="963.7" y="500.2" width="14.4" height="14.4"/>
<rect x="973.5" y="501.5" width="14.4" height="14.4"/>
<rect x="971.1" y="518.6" width="14.4" height="14.4"/>
<rect x="976.0" y="529.7" width="14.4" height="14.4"/>
<rect x="996.8" y="486.8" width="14.4" height="14.4"/>
<rect x="1005.4" y="486.8" width="14.4" height="14.4"/>
<rect x="993.2" y="503.9" width="14.4" height="14.4"/>
<rect x="1010.3" y="499.0" width="14.4" height="14.4"/>
<rect x="1010.3" y="508.8" width="14.4" height="14.4"/>
<rect x="1010.3" y="535.8" width="14.4" height="14.4"/>
<rect x="1017.7" y="521.1" width="14.4" height="14.4"/>
<rect x="1040.4" y="471.4" width="14.4" height="14.4"/>
<rect x="1031.2" y="494.1" width="14.4" height="14.4"/>
<rect x="1030.0" y="511.3" width="14.4" height="14.4"/>
<rect x="1042.2" y="494.1" width="14.4" height="14.4"/>
<rect x="1048.3" y="484.3" width="14.4" height="14.4"/>
<rect x="1065.5" y="469.6" width="14.4" height="14.4"/>
<rect x="1059.4" y="484.3" width="14.4" height="14.4"/>
<rect x="1058.2" y="501.5" width="14.4" height="14.4"/>
<rect x="1064.3" y="518.6" width="14.4" height="14.4"/>
<rect x="1065.5" y="529.7" width="14.4" height="14.4"/>
<rect x="1076.5" y="484.3" width="14.4" height="14.4"/>
<rect x="1076.5" y="506.4" width="14.4" height="14.4"/>
<rect x="1081.4" y="453.6" width="14.4" height="14.4"/>
<rect x="1084.4" y="453.9" width="14.4" height="14.4"/>
<rect x="1094.9" y="464.3" width="14.4" height="14.4"/>
<rect x="1118.2" y="454.5" width="14.4" height="14.4"/>
<rect x="1134.1" y="454.5" width="14.4" height="14.4"/>
<rect x="1146.4" y="463.1" width="14.4" height="14.4"/>
<rect x="1080.2" y="479.0" width="14.4" height="14.4"/>
<rect x="1093.6" y="479.0" width="14.4" height="14.4"/>
<rect x="1107.1" y="471.7" width="14.4" height="14.4"/>
<rect x="1121.8" y="471.7" width="14.4" height="14.4"/>
<rect x="1134.1" y="474.1" width="14.4" height="14.4"/>
<rect x="1151.3" y="471.7" width="14.4" height="14.4"/>
<rect x="1076.5" y="491.3" width="14.4" height="14.4"/>
<rect x="1091.2" y="491.3" width="14.4" height="14.4"/>
<rect x="1107.1" y="486.4" width="14.4" height="14.4"/>
<rect x="1121.8" y="486.4" width="14.4" height="14.4"/>
<rect x="1134.1" y="483.9" width="14.4" height="14.4"/>
<rect x="1116.9" y="501.1" width="14.4" height="14.4"/>
<rect x="1075.3" y="508.4" width="14.4" height="14.4"/>
<rect x="1088.7" y="519.5" width="14.4" height="14.4"/>
<rect x="1168.4" y="455.7" width="14.4" height="14.4"/>
<rect x="1194.2" y="453.3" width="14.4" height="14.4"/>
<rect x="1205.2" y="461.8" width="14.4" height="14.4"/>
<rect x="1170.9" y="468.0" width="14.4" height="14.4"/>
<rect x="1183.2" y="470.4" width="14.4" height="14.4"/>
<rect x="1201.6" y="470.4" width="14.4" height="14.4"/>
<rect x="1191.7" y="472.9" width="14.4" height="14.4"/>
<rect x="1168.4" y="481.5" width="14.4" height="14.4"/>
<rect x="1169.7" y="497.4" width="14.4" height="14.4"/>
<rect x="1161.1" y="496.2" width="14.4" height="14.4"/>
<rect x="1190.5" y="495.0" width="14.4" height="14.4"/>
<rect x="1197.9" y="506.0" width="14.4" height="14.4"/>
<rect x="1199.1" y="514.6" width="14.4" height="14.4"/>
<rect x="1231.6" y="435.5" width="14.4" height="14.4"/>
<rect x="1223.0" y="450.2" width="14.4" height="14.4"/>
<rect x="1264.1" y="443.5" width="14.4" height="14.4"/>
<rect x="1253.1" y="456.9" width="14.4" height="14.4"/>
<rect x="1251.8" y="469.2" width="14.4" height="14.4"/>
<rect x="1253.1" y="477.8" width="14.4" height="14.4"/>
<rect x="1240.8" y="488.8" width="14.4" height="14.4"/>
<rect x="1269.0" y="450.8" width="14.4" height="14.4"/>
<rect x="1308.7" y="428.7" width="14.4" height="14.4"/>
<rect x="1297.7" y="452.0" width="14.4" height="14.4"/>
<rect x="1295.2" y="463.1" width="14.4" height="14.4"/>
<rect x="1319.8" y="458.2" width="14.4" height="14.4"/>
<rect x="1333.2" y="448.4" width="14.4" height="14.4"/>
<rect x="772.5" y="548.8" width="14.4" height="14.4"/>
<rect x="786.0" y="552.5" width="14.4" height="14.4"/>
<rect x="790.9" y="558.6" width="14.4" height="14.4"/>
<rect x="788.4" y="570.9" width="14.4" height="14.4"/>
<rect x="799.5" y="552.5" width="14.4" height="14.4"/>
<rect x="809.3" y="570.9" width="14.4" height="14.4"/>
<rect x="815.4" y="558.6" width="14.4" height="14.4"/>
<rect x="831.4" y="579.5" width="14.4" height="14.4"/>
<rect x="846.1" y="546.4" width="14.4" height="14.4"/>
<rect x="852.2" y="552.5" width="14.4" height="14.4"/>
<rect x="846.1" y="578.3" width="14.4" height="14.4"/>
<rect x="833.8" y="552.5" width="14.4" height="14.4"/>
<rect x="876.7" y="534.1" width="14.4" height="14.4"/>
<rect x="884.1" y="524.3" width="14.4" height="14.4"/>
<rect x="886.5" y="558.6" width="14.4" height="14.4"/>
<rect x="889.0" y="570.9" width="14.4" height="14.4"/>
<rect x="859.6" y="534.1" width="14.4" height="14.4"/>
<rect x="866.9" y="568.4" width="14.4" height="14.4"/>
<rect x="767.6" y="558.6" width="14.4" height="14.4"/>
<rect x="756.6" y="566.0" width="14.4" height="14.4"/>
<rect x="949.0" y="501.5" width="14.4" height="14.4"/>
<rect x="958.8" y="518.6" width="14.4" height="14.4"/>
<rect x="968.6" y="508.8" width="14.4" height="14.4"/>
<rect x="978.4" y="508.8" width="14.4" height="14.4"/>
<rect x="1005.4" y="506.4" width="14.4" height="14.4"/>
<rect x="1017.7" y="506.4" width="14.4" height="14.4"/>
<rect x="1023.8" y="494.1" width="14.4" height="14.4"/>
<rect x="1036.1" y="491.7" width="14.4" height="14.4"/>
<rect x="1042.2" y="508.8" width="14.4" height="14.4"/>
<rect x="1054.5" y="508.8" width="14.4" height="14.4"/>
<rect x="1054.5" y="496.6" width="14.4" height="14.4"/>
<rect x="1074.1" y="494.1" width="14.4" height="14.4"/>
<rect x="1074.1" y="518.6" width="14.4" height="14.4"/>
<rect x="1017.7" y="528.4" width="14.4" height="14.4"/>
<rect x="1030.0" y="516.2" width="14.4" height="14.4"/>
<rect x="1066.7" y="481.8" width="14.4" height="14.4"/>
<rect x="1052.0" y="479.4" width="14.4" height="14.4"/>
<rect x="931.8" y="526.0" width="14.4" height="14.4"/>
<rect x="934.3" y="537.0" width="14.4" height="14.4"/>
<rect x="902.4" y="513.7" width="14.4" height="14.4"/>
<rect x="919.6" y="538.3" width="14.4" height="14.4"/>
<rect x="902.4" y="555.4" width="14.4" height="14.4"/>
<rect x="890.2" y="567.7" width="14.4" height="14.4"/>
<rect x="941.7" y="513.7" width="14.4" height="14.4"/>
<rect x="796.4" y="554.9" width="14.4" height="14.4"/>
<rect x="826.3" y="562.4" width="14.4" height="14.4"/>
<rect x="811.4" y="540.0" width="14.4" height="14.4"/>
<rect x="871.2" y="525.0" width="14.4" height="14.4"/>
<rect x="908.6" y="517.5" width="14.4" height="14.4"/>
<rect x="916.1" y="540.0" width="14.4" height="14.4"/>
<rect x="766.5" y="584.8" width="14.4" height="14.4"/>
<rect x="1020.8" y="495.1" width="14.4" height="14.4"/>
<rect x="1058.2" y="472.6" width="14.4" height="14.4"/>
<rect x="1118.0" y="457.7" width="14.4" height="14.4"/>
</g>
<g stroke="#333" stroke-width="1.6" fill="none" stroke-linecap="round">
<line x1="252.6" y1="444" x2="1083.7" y2="673.6" />
<line x1="1083.7" y1="673.6" x2="1534.9" y2="251.6" />
</g>
<g stroke="#8c8c8c" stroke-width="2.4" fill="none">
<line x1="1083.7" y1="1175.2" x2="1083.7" y2="673.6" />
</g>
<text x="211" y="483" text-anchor="end" font-size="60">0.4</text>
<text x="211" y="581.5" text-anchor="end" font-size="60">0.2</text>
<text x="211" y="678.8" text-anchor="end" font-size="60">0</text>
<text x="211" y="774.2" text-anchor="end" font-size="60"><tspan font-size="68" dy="7.5">&#8722;</tspan><tspan dx="5" dy="-7.5">0.2</tspan></text>
<text x="211" y="871.3" text-anchor="end" font-size="60"><tspan font-size="68" dy="7.5">&#8722;</tspan><tspan dx="5" dy="-7.5">0.4</tspan></text>
<text x="1502.6" y="884.5" text-anchor="start" font-size="60"><tspan font-size="68" dy="7.5">&#8722;</tspan><tspan dx="5" dy="-7.5">0.4</tspan></text>
<text x="1421.8" y="961.8" text-anchor="start" font-size="60"><tspan font-size="68" dy="7.5">&#8722;</tspan><tspan dx="5" dy="-7.5">0.6</tspan></text>
<text x="1339.5" y="1038" text-anchor="start" font-size="60"><tspan font-size="68" dy="7.5">&#8722;</tspan><tspan dx="5" dy="-7.5">0.8</tspan></text>
<text x="1257.2" y="1114" text-anchor="start" font-size="60"><tspan font-size="68" dy="7.5">&#8722;</tspan><tspan dx="5" dy="-7.5">1</tspan></text>
<text x="1176.3" y="1189" text-anchor="start" font-size="60"><tspan font-size="68" dy="7.5">&#8722;</tspan><tspan dx="5" dy="-7.5">1.2</tspan></text>
<text x="324.5" y="1051.8" text-anchor="end" font-size="60">0.5</text>
<text x="654.5" y="1144" text-anchor="end" font-size="60">0</text>
<text x="988.5" y="1234.8" text-anchor="end" font-size="60"><tspan font-size="68" dy="7.5">&#8722;</tspan><tspan dx="5" dy="-7.5">0.5</tspan></text>
<text x="1409" y="1221.9" text-anchor="start" font-size="65" font-weight="bold">AR(1)</text>
<text x="495" y="1270.3" text-anchor="start" font-size="65" font-weight="bold">AR(2)</text>
<text transform="translate(67.3,780.5) rotate(-90)" font-size="65" font-weight="bold">AR(3)</text>
<rect x="440.5" y="160" width="806" height="165.4" fill="#fff" stroke="#555" stroke-width="1.6"/>
<rect x="491.5" y="182.5" width="14.5" height="14" fill="#0000ff"/>
<rect x="491.5" y="236" width="14.5" height="14.5" fill="#ff0000"/>
<polygon points="498.0,285.8 501.5,290.5 507.4,291.2 505.0,296.6 507.4,302.0 501.5,302.7 498.0,307.4 494.5,302.7 488.6,302.0 491.0,296.6 488.6,291.2 494.5,290.5" fill="#00ff00"/>
<g font-size="45.4">
<text x="555.5" y="206.4">Training convexhull of ship sample</text>
<text x="555.5" y="258">Correct identification of buoy sample</text>
<text x="555.5" y="311.9">Fault identification of buoy sample</text>
</g>
</svg></body></html>
